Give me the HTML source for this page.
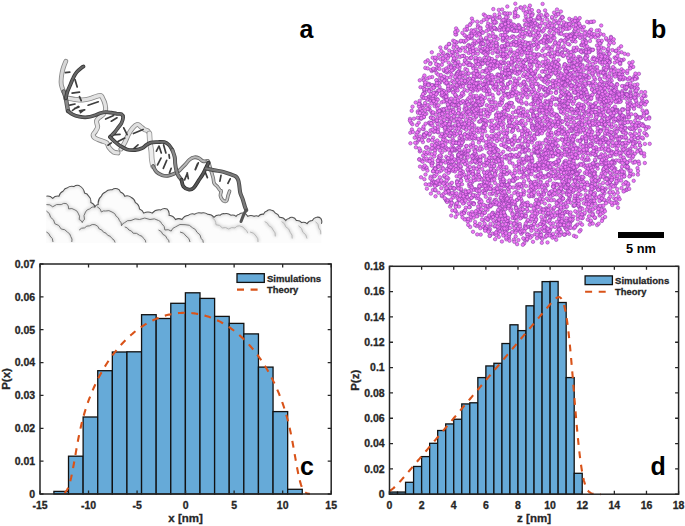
<!DOCTYPE html>
<html><head><meta charset="utf-8"><style>
html,body{margin:0;padding:0;background:#fff;}
svg{display:block;}
</style></head><body>
<svg width="685" height="526" viewBox="0 0 685 526">
<path d="M46.4,196.2A7.0,7.0 0 0 1 52.7,198.3A7.0,7.0 0 0 1 59.0,196.2A7.2,7.2 0 0 1 63.3,190.9A5.5,5.5 0 0 1 67.5,187.7A6.8,6.8 0 0 1 73.9,186.6A5.7,5.7 0 0 1 79.2,185.6A9.6,9.6 0 0 1 84.5,193.0A5.5,5.5 0 0 1 88.7,196.2A7.0,7.0 0 0 1 90.8,202.5A6.3,6.3 0 0 1 95.0,206.8A4.1,4.1 0 0 1 98.2,204.6A9.4,9.4 0 0 1 101.4,196.2A6.3,6.3 0 0 1 105.6,191.9A7.1,7.1 0 0 1 112.0,189.8A5.7,5.7 0 0 1 117.3,188.8A4.6,4.6 0 0 1 120.4,191.9A6.4,6.4 0 0 1 124.7,196.2A6.7,6.7 0 0 1 131.0,197.2A7.2,7.2 0 0 1 135.3,202.5A8.0,8.0 0 0 1 139.5,208.9A6.2,6.2 0 0 1 143.7,213.1A8.9,8.9 0 0 1 152.2,213.1A9.5,9.5 0 0 1 160.7,209.9A6.7,6.7 0 0 1 167.0,208.9A7.0,7.0 0 0 1 169.1,215.2A8.1,8.1 0 0 1 175.5,219.5A6.8,6.8 0 0 1 182.0,219.5A8.2,8.2 0 0 1 188.5,215.2A6.7,6.7 0 0 1 194.8,214.2A6.8,6.8 0 0 1 201.2,213.1A6.7,6.7 0 0 1 207.5,214.2A7.5,7.5 0 0 1 213.9,217.3A7.0,7.0 0 0 1 220.2,215.2A4.8,4.8 0 0 1 224.5,213.7A6.8,6.8 0 0 1 230.8,215.2A5.7,5.7 0 0 1 236.1,216.3A4.0,4.0 0 0 1 239.3,214.2A4.6,4.6 0 0 1 243.5,213.1A5.5,5.5 0 0 1 247.7,216.3A6.7,6.7 0 0 1 254.1,216.3A4.4,4.4 0 0 1 258.3,216.3A6.0,6.0 0 0 1 263.6,214.2A4.8,4.8 0 0 1 266.8,211.0A4.6,4.6 0 0 1 271.0,209.9A5.6,5.6 0 0 1 275.3,213.1A6.2,6.2 0 0 1 279.5,217.3A7.4,7.4 0 0 1 285.8,220.5A4.0,4.0 0 0 1 289.0,218.4A3.6,3.6 0 0 1 292.2,217.3A5.5,5.5 0 0 1 296.4,220.5A6.0,6.0 0 0 1 301.7,222.6A5.7,5.7 0 0 1 307.0,223.7A6.5,6.5 0 0 1 312.3,220.5A5.5,5.5 0 0 1 316.5,217.3A4.7,4.7 0 0 1 320.8,218.4A5.6,5.6 0 0 1 321.4,223.7L321.5,243L46,243Z" fill="#fcfcfc" stroke="none"/>
<defs><filter id="sb" x="-5%" y="-20%" width="110%" height="140%"><feGaussianBlur stdDeviation="1.6"/></filter><clipPath id="sc"><path d="M46.4,196.2A7.0,7.0 0 0 1 52.7,198.3A7.0,7.0 0 0 1 59.0,196.2A7.2,7.2 0 0 1 63.3,190.9A5.5,5.5 0 0 1 67.5,187.7A6.8,6.8 0 0 1 73.9,186.6A5.7,5.7 0 0 1 79.2,185.6A9.6,9.6 0 0 1 84.5,193.0A5.5,5.5 0 0 1 88.7,196.2A7.0,7.0 0 0 1 90.8,202.5A6.3,6.3 0 0 1 95.0,206.8A4.1,4.1 0 0 1 98.2,204.6A9.4,9.4 0 0 1 101.4,196.2A6.3,6.3 0 0 1 105.6,191.9A7.1,7.1 0 0 1 112.0,189.8A5.7,5.7 0 0 1 117.3,188.8A4.6,4.6 0 0 1 120.4,191.9A6.4,6.4 0 0 1 124.7,196.2A6.7,6.7 0 0 1 131.0,197.2A7.2,7.2 0 0 1 135.3,202.5A8.0,8.0 0 0 1 139.5,208.9A6.2,6.2 0 0 1 143.7,213.1A8.9,8.9 0 0 1 152.2,213.1A9.5,9.5 0 0 1 160.7,209.9A6.7,6.7 0 0 1 167.0,208.9A7.0,7.0 0 0 1 169.1,215.2A8.1,8.1 0 0 1 175.5,219.5A6.8,6.8 0 0 1 182.0,219.5A8.2,8.2 0 0 1 188.5,215.2A6.7,6.7 0 0 1 194.8,214.2A6.8,6.8 0 0 1 201.2,213.1A6.7,6.7 0 0 1 207.5,214.2A7.5,7.5 0 0 1 213.9,217.3A7.0,7.0 0 0 1 220.2,215.2A4.8,4.8 0 0 1 224.5,213.7A6.8,6.8 0 0 1 230.8,215.2A5.7,5.7 0 0 1 236.1,216.3A4.0,4.0 0 0 1 239.3,214.2A4.6,4.6 0 0 1 243.5,213.1A5.5,5.5 0 0 1 247.7,216.3A6.7,6.7 0 0 1 254.1,216.3A4.4,4.4 0 0 1 258.3,216.3A6.0,6.0 0 0 1 263.6,214.2A4.8,4.8 0 0 1 266.8,211.0A4.6,4.6 0 0 1 271.0,209.9A5.6,5.6 0 0 1 275.3,213.1A6.2,6.2 0 0 1 279.5,217.3A7.4,7.4 0 0 1 285.8,220.5A4.0,4.0 0 0 1 289.0,218.4A3.6,3.6 0 0 1 292.2,217.3A5.5,5.5 0 0 1 296.4,220.5A6.0,6.0 0 0 1 301.7,222.6A5.7,5.7 0 0 1 307.0,223.7A6.5,6.5 0 0 1 312.3,220.5A5.5,5.5 0 0 1 316.5,217.3A4.7,4.7 0 0 1 320.8,218.4A5.6,5.6 0 0 1 321.4,223.7L321.5,243L46,243Z"/></clipPath></defs>
<g clip-path="url(#sc)"><g fill="none" stroke="#dadada" stroke-width="3" filter="url(#sb)"><path d="M46.4,204.6A7.0,7.0 0 0 1 52.7,206.8A9.2,9.2 0 0 1 61.2,204.6A5.7,5.7 0 0 1 66.5,203.6A6.0,6.0 0 0 1 68.6,208.9A6.7,6.7 0 0 1 74.9,209.9A4.8,4.8 0 0 1 78.1,213.1A6.8,6.8 0 0 1 79.2,219.5A4.6,4.6 0 0 1 82.3,222.6A4.0,4.0 0 0 1 84.5,219.5A7.9,7.9 0 0 1 85.5,212.0A5.5,5.5 0 0 1 89.7,208.9A6.0,6.0 0 0 1 95.0,206.8"/><path d="M97.2,206.8A7.0,7.0 0 0 1 101.4,212.0A4.5,4.5 0 0 1 105.6,211.0A6.8,6.8 0 0 1 112.0,212.0A6.3,6.3 0 0 1 116.2,216.3A5.5,5.5 0 0 1 119.4,220.5A6.0,6.0 0 0 1 121.5,225.8A4.8,4.8 0 0 1 124.7,222.6A7.0,7.0 0 0 1 131.0,220.5A9.0,9.0 0 0 1 139.5,219.5A11.0,11.0 0 0 1 150.0,219.5A9.0,9.0 0 0 1 158.5,220.5A4.8,4.8 0 0 1 161.7,223.7A7.4,7.4 0 0 1 164.9,230.0A6.7,6.7 0 0 1 171.2,231.1A6.3,6.3 0 0 1 175.5,226.9A10.2,10.2 0 0 1 185.0,224.7A8.8,8.8 0 0 1 192.7,227.9A6.3,6.3 0 0 1 196.9,232.2A8.0,8.0 0 0 1 201.2,238.5A4.9,4.9 0 0 1 203.3,242.7"/><path d="M46.4,211.0A8.0,8.0 0 0 1 50.6,217.3A8.0,8.0 0 0 1 54.8,223.7A8.7,8.7 0 0 1 61.2,229.0A7.4,7.4 0 0 1 67.5,232.2A5.5,5.5 0 0 1 70.7,236.4A6.0,6.0 0 0 1 71.8,242.0"/><path d="M79.2,230.0A6.0,6.0 0 0 1 84.5,227.9A5.9,5.9 0 0 1 89.7,225.8A5.7,5.7 0 0 1 95.0,224.7A6.4,6.4 0 0 1 99.3,229.0A5.5,5.5 0 0 1 103.5,232.2A5.5,5.5 0 0 1 107.7,235.3A5.6,5.6 0 0 1 112.0,238.5A5.3,5.3 0 0 1 115.1,242.5"/><path d="M124.7,226.9A5.5,5.5 0 0 1 128.9,230.0A5.5,5.5 0 0 1 133.1,233.2A7.1,7.1 0 0 1 139.5,235.3A5.5,5.5 0 0 1 143.7,238.5A4.7,4.7 0 0 1 145.8,242.5"/><path d="M158.5,230.0A6.4,6.4 0 0 1 162.8,234.3A6.2,6.2 0 0 1 167.0,238.5A4.7,4.7 0 0 1 169.1,242.5"/><path d="M211.8,217.3A8.9,8.9 0 0 1 216.0,224.7A7.4,7.4 0 0 1 222.3,227.9A6.8,6.8 0 0 1 228.7,229.0A6.7,6.7 0 0 1 235.0,227.9A5.0,5.0 0 0 1 239.3,225.8A8.0,8.0 0 0 1 245.6,230.0A4.0,4.0 0 0 1 247.7,233.2"/><path d="M264.7,221.6A6.2,6.2 0 0 1 268.9,225.8A6.2,6.2 0 0 1 273.1,230.0A7.1,7.1 0 0 1 275.3,236.4"/><path d="M281.6,221.6A7.1,7.1 0 0 1 285.8,226.9A7.2,7.2 0 0 1 290.1,232.2A7.0,7.0 0 0 1 292.2,238.5"/><path d="M298.5,225.8A8.1,8.1 0 0 1 302.8,232.2A8.0,8.0 0 0 1 307.0,238.5"/><path d="M315.5,221.6A7.4,7.4 0 0 1 318.7,227.9A7.1,7.1 0 0 1 320.8,234.3"/><path d="M46.4,232.0A5.7,5.7 0 0 1 50.0,236.0A7.0,7.0 0 0 1 53.0,242.0"/><path d="M180.0,232.0A7.6,7.6 0 0 1 186.0,236.0A7.6,7.6 0 0 1 190.0,242.0"/><path d="M250.0,232.0A7.6,7.6 0 0 1 256.0,236.0A6.6,6.6 0 0 1 258.0,242.0"/><path d="M46.4,196.2A7.0,7.0 0 0 1 52.7,198.3A7.0,7.0 0 0 1 59.0,196.2A7.2,7.2 0 0 1 63.3,190.9A5.5,5.5 0 0 1 67.5,187.7A6.8,6.8 0 0 1 73.9,186.6A5.7,5.7 0 0 1 79.2,185.6A9.6,9.6 0 0 1 84.5,193.0A5.5,5.5 0 0 1 88.7,196.2A7.0,7.0 0 0 1 90.8,202.5A6.3,6.3 0 0 1 95.0,206.8A4.1,4.1 0 0 1 98.2,204.6A9.4,9.4 0 0 1 101.4,196.2A6.3,6.3 0 0 1 105.6,191.9A7.1,7.1 0 0 1 112.0,189.8A5.7,5.7 0 0 1 117.3,188.8A4.6,4.6 0 0 1 120.4,191.9A6.4,6.4 0 0 1 124.7,196.2A6.7,6.7 0 0 1 131.0,197.2A7.2,7.2 0 0 1 135.3,202.5A8.0,8.0 0 0 1 139.5,208.9A6.2,6.2 0 0 1 143.7,213.1A8.9,8.9 0 0 1 152.2,213.1A9.5,9.5 0 0 1 160.7,209.9A6.7,6.7 0 0 1 167.0,208.9A7.0,7.0 0 0 1 169.1,215.2A8.1,8.1 0 0 1 175.5,219.5A6.8,6.8 0 0 1 182.0,219.5A8.2,8.2 0 0 1 188.5,215.2A6.7,6.7 0 0 1 194.8,214.2A6.8,6.8 0 0 1 201.2,213.1A6.7,6.7 0 0 1 207.5,214.2A7.5,7.5 0 0 1 213.9,217.3A7.0,7.0 0 0 1 220.2,215.2A4.8,4.8 0 0 1 224.5,213.7A6.8,6.8 0 0 1 230.8,215.2A5.7,5.7 0 0 1 236.1,216.3A4.0,4.0 0 0 1 239.3,214.2A4.6,4.6 0 0 1 243.5,213.1A5.5,5.5 0 0 1 247.7,216.3A6.7,6.7 0 0 1 254.1,216.3A4.4,4.4 0 0 1 258.3,216.3A6.0,6.0 0 0 1 263.6,214.2A4.8,4.8 0 0 1 266.8,211.0A4.6,4.6 0 0 1 271.0,209.9A5.6,5.6 0 0 1 275.3,213.1A6.2,6.2 0 0 1 279.5,217.3A7.4,7.4 0 0 1 285.8,220.5A4.0,4.0 0 0 1 289.0,218.4A3.6,3.6 0 0 1 292.2,217.3A5.5,5.5 0 0 1 296.4,220.5A6.0,6.0 0 0 1 301.7,222.6A5.7,5.7 0 0 1 307.0,223.7A6.5,6.5 0 0 1 312.3,220.5A5.5,5.5 0 0 1 316.5,217.3A4.7,4.7 0 0 1 320.8,218.4A5.6,5.6 0 0 1 321.4,223.7"/></g></g>
<g fill="none" stroke-width="0.95"><path d="M46.4,204.6A7.0,7.0 0 0 1 52.7,206.8A9.2,9.2 0 0 1 61.2,204.6A5.7,5.7 0 0 1 66.5,203.6A6.0,6.0 0 0 1 68.6,208.9A6.7,6.7 0 0 1 74.9,209.9A4.8,4.8 0 0 1 78.1,213.1A6.8,6.8 0 0 1 79.2,219.5A4.6,4.6 0 0 1 82.3,222.6A4.0,4.0 0 0 1 84.5,219.5A7.9,7.9 0 0 1 85.5,212.0A5.5,5.5 0 0 1 89.7,208.9A6.0,6.0 0 0 1 95.0,206.8" stroke="#6e6e6e"/><path d="M97.2,206.8A7.0,7.0 0 0 1 101.4,212.0A4.5,4.5 0 0 1 105.6,211.0A6.8,6.8 0 0 1 112.0,212.0A6.3,6.3 0 0 1 116.2,216.3A5.5,5.5 0 0 1 119.4,220.5A6.0,6.0 0 0 1 121.5,225.8A4.8,4.8 0 0 1 124.7,222.6A7.0,7.0 0 0 1 131.0,220.5A9.0,9.0 0 0 1 139.5,219.5A11.0,11.0 0 0 1 150.0,219.5A9.0,9.0 0 0 1 158.5,220.5A4.8,4.8 0 0 1 161.7,223.7A7.4,7.4 0 0 1 164.9,230.0A6.7,6.7 0 0 1 171.2,231.1A6.3,6.3 0 0 1 175.5,226.9A10.2,10.2 0 0 1 185.0,224.7A8.8,8.8 0 0 1 192.7,227.9A6.3,6.3 0 0 1 196.9,232.2A8.0,8.0 0 0 1 201.2,238.5A4.9,4.9 0 0 1 203.3,242.7" stroke="#6e6e6e"/><path d="M46.4,211.0A8.0,8.0 0 0 1 50.6,217.3A8.0,8.0 0 0 1 54.8,223.7A8.7,8.7 0 0 1 61.2,229.0A7.4,7.4 0 0 1 67.5,232.2A5.5,5.5 0 0 1 70.7,236.4A6.0,6.0 0 0 1 71.8,242.0" stroke="#6e6e6e"/><path d="M79.2,230.0A6.0,6.0 0 0 1 84.5,227.9A5.9,5.9 0 0 1 89.7,225.8A5.7,5.7 0 0 1 95.0,224.7A6.4,6.4 0 0 1 99.3,229.0A5.5,5.5 0 0 1 103.5,232.2A5.5,5.5 0 0 1 107.7,235.3A5.6,5.6 0 0 1 112.0,238.5A5.3,5.3 0 0 1 115.1,242.5" stroke="#6e6e6e"/><path d="M124.7,226.9A5.5,5.5 0 0 1 128.9,230.0A5.5,5.5 0 0 1 133.1,233.2A7.1,7.1 0 0 1 139.5,235.3A5.5,5.5 0 0 1 143.7,238.5A4.7,4.7 0 0 1 145.8,242.5" stroke="#6e6e6e"/><path d="M158.5,230.0A6.4,6.4 0 0 1 162.8,234.3A6.2,6.2 0 0 1 167.0,238.5A4.7,4.7 0 0 1 169.1,242.5" stroke="#6e6e6e"/><path d="M211.8,217.3A8.9,8.9 0 0 1 216.0,224.7A7.4,7.4 0 0 1 222.3,227.9A6.8,6.8 0 0 1 228.7,229.0A6.7,6.7 0 0 1 235.0,227.9A5.0,5.0 0 0 1 239.3,225.8A8.0,8.0 0 0 1 245.6,230.0A4.0,4.0 0 0 1 247.7,233.2" stroke="#b4b4b4"/><path d="M264.7,221.6A6.2,6.2 0 0 1 268.9,225.8A6.2,6.2 0 0 1 273.1,230.0A7.1,7.1 0 0 1 275.3,236.4" stroke="#b4b4b4"/><path d="M281.6,221.6A7.1,7.1 0 0 1 285.8,226.9A7.2,7.2 0 0 1 290.1,232.2A7.0,7.0 0 0 1 292.2,238.5" stroke="#b4b4b4"/><path d="M298.5,225.8A8.1,8.1 0 0 1 302.8,232.2A8.0,8.0 0 0 1 307.0,238.5" stroke="#b4b4b4"/><path d="M315.5,221.6A7.4,7.4 0 0 1 318.7,227.9A7.1,7.1 0 0 1 320.8,234.3" stroke="#b4b4b4"/><path d="M46.4,232.0A5.7,5.7 0 0 1 50.0,236.0A7.0,7.0 0 0 1 53.0,242.0" stroke="#6e6e6e"/><path d="M180.0,232.0A7.6,7.6 0 0 1 186.0,236.0A7.6,7.6 0 0 1 190.0,242.0" stroke="#6e6e6e"/><path d="M250.0,232.0A7.6,7.6 0 0 1 256.0,236.0A6.6,6.6 0 0 1 258.0,242.0" stroke="#b4b4b4"/></g>
<path d="M46.4,196.2A7.0,7.0 0 0 1 52.7,198.3A7.0,7.0 0 0 1 59.0,196.2A7.2,7.2 0 0 1 63.3,190.9A5.5,5.5 0 0 1 67.5,187.7A6.8,6.8 0 0 1 73.9,186.6A5.7,5.7 0 0 1 79.2,185.6A9.6,9.6 0 0 1 84.5,193.0A5.5,5.5 0 0 1 88.7,196.2A7.0,7.0 0 0 1 90.8,202.5A6.3,6.3 0 0 1 95.0,206.8A4.1,4.1 0 0 1 98.2,204.6A9.4,9.4 0 0 1 101.4,196.2A6.3,6.3 0 0 1 105.6,191.9A7.1,7.1 0 0 1 112.0,189.8A5.7,5.7 0 0 1 117.3,188.8A4.6,4.6 0 0 1 120.4,191.9A6.4,6.4 0 0 1 124.7,196.2A6.7,6.7 0 0 1 131.0,197.2A7.2,7.2 0 0 1 135.3,202.5A8.0,8.0 0 0 1 139.5,208.9A6.2,6.2 0 0 1 143.7,213.1A8.9,8.9 0 0 1 152.2,213.1A9.5,9.5 0 0 1 160.7,209.9A6.7,6.7 0 0 1 167.0,208.9A7.0,7.0 0 0 1 169.1,215.2A8.1,8.1 0 0 1 175.5,219.5A6.8,6.8 0 0 1 182.0,219.5A8.2,8.2 0 0 1 188.5,215.2A6.7,6.7 0 0 1 194.8,214.2A6.8,6.8 0 0 1 201.2,213.1A6.7,6.7 0 0 1 207.5,214.2A7.5,7.5 0 0 1 213.9,217.3A7.0,7.0 0 0 1 220.2,215.2A4.8,4.8 0 0 1 224.5,213.7A6.8,6.8 0 0 1 230.8,215.2A5.7,5.7 0 0 1 236.1,216.3A4.0,4.0 0 0 1 239.3,214.2A4.6,4.6 0 0 1 243.5,213.1A5.5,5.5 0 0 1 247.7,216.3A6.7,6.7 0 0 1 254.1,216.3A4.4,4.4 0 0 1 258.3,216.3A6.0,6.0 0 0 1 263.6,214.2A4.8,4.8 0 0 1 266.8,211.0A4.6,4.6 0 0 1 271.0,209.9A5.6,5.6 0 0 1 275.3,213.1A6.2,6.2 0 0 1 279.5,217.3A7.4,7.4 0 0 1 285.8,220.5A4.0,4.0 0 0 1 289.0,218.4A3.6,3.6 0 0 1 292.2,217.3A5.5,5.5 0 0 1 296.4,220.5A6.0,6.0 0 0 1 301.7,222.6A5.7,5.7 0 0 1 307.0,223.7A6.5,6.5 0 0 1 312.3,220.5A5.5,5.5 0 0 1 316.5,217.3A4.7,4.7 0 0 1 320.8,218.4A5.6,5.6 0 0 1 321.4,223.7" fill="none" stroke="#505050" stroke-width="1.05"/>
<g fill="none" stroke-linecap="round" stroke-linejoin="round">
<path d="M65.8,98.3C66.3,98.3 67.1,98.1 68.7,98.3C70.3,98.5 73.2,99.2 75.5,99.5C77.8,99.8 80.1,100.1 82.4,100.0C84.7,99.9 86.3,99.7 89.2,98.9C92.1,98.2 97.7,95.5 100.0,95.5C102.3,95.5 102.2,97.6 103.0,99.0C103.8,100.4 104.6,102.3 105.0,104.1C105.4,105.9 105.9,108.1 105.6,109.8C105.3,111.5 104.4,113.1 103.3,114.4C102.2,115.7 99.9,116.7 98.8,117.8C97.7,118.9 96.7,119.7 96.5,121.2C96.3,122.7 97.8,125.3 97.6,127.0C97.4,128.7 96.2,130.2 95.4,131.5C94.7,132.8 93.1,133.8 93.1,134.9C93.1,136.0 94.1,137.4 95.4,138.3C96.7,139.2 99.1,139.8 101.0,140.6C102.9,141.4 105.5,141.8 106.8,142.9C108.1,144.1 107.9,146.0 109.0,147.5C110.1,149.0 112.1,151.1 113.6,152.0C115.1,152.9 117.3,152.8 118.0,152.9" stroke="#888" stroke-width="5.0"/>
<path d="M65.8,98.3C66.3,98.3 67.1,98.1 68.7,98.3C70.3,98.5 73.2,99.2 75.5,99.5C77.8,99.8 80.1,100.1 82.4,100.0C84.7,99.9 86.3,99.7 89.2,98.9C92.1,98.2 97.7,95.5 100.0,95.5C102.3,95.5 102.2,97.6 103.0,99.0C103.8,100.4 104.6,102.3 105.0,104.1C105.4,105.9 105.9,108.1 105.6,109.8C105.3,111.5 104.4,113.1 103.3,114.4C102.2,115.7 99.9,116.7 98.8,117.8C97.7,118.9 96.7,119.7 96.5,121.2C96.3,122.7 97.8,125.3 97.6,127.0C97.4,128.7 96.2,130.2 95.4,131.5C94.7,132.8 93.1,133.8 93.1,134.9C93.1,136.0 94.1,137.4 95.4,138.3C96.7,139.2 99.1,139.8 101.0,140.6C102.9,141.4 105.5,141.8 106.8,142.9C108.1,144.1 107.9,146.0 109.0,147.5C110.1,149.0 112.1,151.1 113.6,152.0C115.1,152.9 117.3,152.8 118.0,152.9" stroke="#e2e2e2" stroke-width="3.3"/>
<path d="M121.0,149.0C121.6,147.9 123.6,145.0 124.8,142.6C126.0,140.2 127.0,137.2 128.3,134.7C129.6,132.2 131.3,129.5 132.8,127.8C134.3,126.1 136.1,124.6 137.4,124.4C138.7,124.2 139.7,125.9 140.8,126.7C141.9,127.5 143.1,128.8 144.2,129.5C145.3,130.2 146.7,130.0 147.6,130.7C148.5,131.4 149.1,133.0 149.4,133.5" stroke="#888" stroke-width="5.0"/>
<path d="M121.0,149.0C121.6,147.9 123.6,145.0 124.8,142.6C126.0,140.2 127.0,137.2 128.3,134.7C129.6,132.2 131.3,129.5 132.8,127.8C134.3,126.1 136.1,124.6 137.4,124.4C138.7,124.2 139.7,125.9 140.8,126.7C141.9,127.5 143.1,128.8 144.2,129.5C145.3,130.2 146.7,130.0 147.6,130.7C148.5,131.4 149.1,133.0 149.4,133.5" stroke="#e0e0e0" stroke-width="3.3"/>
<path d="M149.4,133.5C149.5,135.0 149.7,139.7 150.0,142.6C150.3,145.5 151.0,148.4 151.3,151.2C151.6,154.0 151.5,156.7 151.8,159.2C152.1,161.7 152.8,164.9 153.0,166.1" stroke="#999" stroke-width="5.6"/>
<path d="M149.4,133.5C149.5,135.0 149.7,139.7 150.0,142.6C150.3,145.5 151.0,148.4 151.3,151.2C151.6,154.0 151.5,156.7 151.8,159.2C152.1,161.7 152.8,164.9 153.0,166.1" stroke="#ececec" stroke-width="3.9"/>
<path d="M153.0,166.1C153.6,167.1 154.9,170.3 156.4,171.8C157.9,173.3 160.2,174.5 162.1,175.2C164.0,175.9 165.9,176.0 167.8,175.8C169.7,175.6 171.6,174.9 173.5,174.0C175.4,173.1 178.2,171.2 179.2,170.6" stroke="#555" stroke-width="3.8"/>
<path d="M153.0,166.1C153.6,167.1 154.9,170.3 156.4,171.8C157.9,173.3 160.2,174.5 162.1,175.2C164.0,175.9 165.9,176.0 167.8,175.8C169.7,175.6 171.6,174.9 173.5,174.0C175.4,173.1 178.2,171.2 179.2,170.6" stroke="#9a9a9a" stroke-width="2.1"/>
<path d="M179.2,170.6C180.1,169.7 183.2,166.7 184.9,164.9C186.6,163.1 188.0,160.9 189.6,159.6C191.2,158.3 192.9,157.5 194.5,157.3C196.1,157.1 197.6,157.6 199.0,158.2C200.4,158.8 201.4,160.6 202.8,161.1C204.2,161.6 206.6,161.1 207.4,161.1" stroke="#666" stroke-width="3.8"/>
<path d="M179.2,170.6C180.1,169.7 183.2,166.7 184.9,164.9C186.6,163.1 188.0,160.9 189.6,159.6C191.2,158.3 192.9,157.5 194.5,157.3C196.1,157.1 197.6,157.6 199.0,158.2C200.4,158.8 201.4,160.6 202.8,161.1C204.2,161.6 206.6,161.1 207.4,161.1" stroke="#b8b8b8" stroke-width="2.1"/>
<path d="M207.4,161.1C207.6,161.2 207.9,160.3 208.5,161.7C209.1,163.1 210.0,167.0 210.8,169.7C211.6,172.3 212.5,175.3 213.1,177.6C213.7,179.9 213.4,181.8 214.2,183.3C214.9,184.8 216.6,185.7 217.6,186.8C218.6,188.0 219.3,189.5 219.9,190.2C220.5,190.9 221.1,190.2 221.2,191.1C221.3,192.0 220.2,194.2 220.4,195.7C220.7,197.2 221.7,199.3 222.7,200.2C223.7,201.1 225.6,201.8 226.5,201.0C227.4,200.2 227.5,197.3 228.0,195.7C228.5,194.0 229.3,191.9 229.6,191.1" stroke="#707070" stroke-width="3.6"/>
<path d="M207.4,161.1C207.6,161.2 207.9,160.3 208.5,161.7C209.1,163.1 210.0,167.0 210.8,169.7C211.6,172.3 212.5,175.3 213.1,177.6C213.7,179.9 213.4,181.8 214.2,183.3C214.9,184.8 216.6,185.7 217.6,186.8C218.6,188.0 219.3,189.5 219.9,190.2C220.5,190.9 221.1,190.2 221.2,191.1C221.3,192.0 220.2,194.2 220.4,195.7C220.7,197.2 221.7,199.3 222.7,200.2C223.7,201.1 225.6,201.8 226.5,201.0C227.4,200.2 227.5,197.3 228.0,195.7C228.5,194.0 229.3,191.9 229.6,191.1" stroke="#c8c8c8" stroke-width="1.9"/>
<path d="M65.3,72.7L69.8,72.1M75.0,79.5L77.2,87.0M72.1,93.2L79.5,92.1M79.5,96.6L81.2,100.6M69.8,105.2L75.0,104.0M74.4,108.6L79.0,106.9M79.5,110.9L84.7,109.8M88.1,105.2L98.3,101.8M72.5,110.4L78.3,106.4M80.5,112.7L84.0,109.8M105.6,119.0L113.6,115.5M111.3,121.2L117.0,117.8M112.5,134.9L120.0,134.4M108.0,145.2L111.3,142.9M123.7,127.8L127.1,134.7M118.0,141.5L124.8,138.1M134.0,148.3L138.0,144.9M133.4,133.5L143.1,129.5M159.0,146.0L161.3,152.9M163.6,144.9L165.9,152.9M158.7,146.7L156.4,151.2M161.0,158.1L157.5,164.9M166.7,160.4L163.3,168.3M169.0,154.7L169.5,158.1M171.2,168.3L169.5,172.9M187.2,172.9L188.3,178.6M197.5,163.8L195.2,169.5M198.3,162.8L195.4,169.7M187.4,173.1L184.6,179.9M221.0,175.4L219.9,181.1M230.2,178.8L227.9,183.3M205.1,171.9L207.4,177.6" stroke="#3e3e3e" stroke-width="1.7"/>
<path d="M65.8,61.3C65.3,62.5 63.8,66.0 63.0,68.7C62.2,71.5 61.6,75.1 61.3,77.8C61.0,80.5 60.9,82.4 61.3,84.7C61.7,87.0 63.2,90.4 63.6,91.5" stroke="#888" stroke-width="4.8"/>
<path d="M65.8,61.3C65.3,62.5 63.8,66.0 63.0,68.7C62.2,71.5 61.6,75.1 61.3,77.8C61.0,80.5 60.9,82.4 61.3,84.7C61.7,87.0 63.2,90.4 63.6,91.5" stroke="#d6d6d6" stroke-width="3.1"/>
<path d="M63.6,91.5C64.0,92.6 65.2,96.0 65.8,98.3C66.4,100.6 66.6,103.1 67.0,105.2C67.4,107.3 67.8,110.0 68.0,111.0" stroke="#505050" stroke-width="4.4"/>
<path d="M63.6,91.5C64.0,92.6 65.2,96.0 65.8,98.3C66.4,100.6 66.6,103.1 67.0,105.2C67.4,107.3 67.8,110.0 68.0,111.0" stroke="#8a8a8a" stroke-width="2.7"/>
<path d="M68.0,111.0C68.8,111.6 70.6,113.5 72.5,114.4C74.4,115.4 76.9,116.2 79.4,116.7C81.9,117.2 84.9,117.4 87.4,117.2C89.9,117.0 92.1,116.2 94.2,115.5C96.3,114.8 98.0,113.9 99.9,113.3C101.8,112.7 103.7,112.2 105.6,112.1C107.5,112.0 109.4,112.4 111.3,112.7C113.2,113.0 115.3,113.6 117.0,113.8C118.7,114.0 120.4,113.5 121.4,114.1C122.4,114.7 123.1,116.0 123.1,117.5C123.1,119.0 122.2,121.6 121.4,123.3C120.6,125.0 119.1,126.3 118.0,127.8C116.9,129.3 115.8,131.1 114.6,132.4C113.4,133.7 111.9,135.0 111.1,135.8C110.3,136.6 110.2,136.8 110.0,137.0" stroke="#3c3c3c" stroke-width="3.8"/>
<path d="M68.0,111.0C68.8,111.6 70.6,113.5 72.5,114.4C74.4,115.4 76.9,116.2 79.4,116.7C81.9,117.2 84.9,117.4 87.4,117.2C89.9,117.0 92.1,116.2 94.2,115.5C96.3,114.8 98.0,113.9 99.9,113.3C101.8,112.7 103.7,112.2 105.6,112.1C107.5,112.0 109.4,112.4 111.3,112.7C113.2,113.0 115.3,113.6 117.0,113.8C118.7,114.0 120.4,113.5 121.4,114.1C122.4,114.7 123.1,116.0 123.1,117.5C123.1,119.0 122.2,121.6 121.4,123.3C120.6,125.0 119.1,126.3 118.0,127.8C116.9,129.3 115.8,131.1 114.6,132.4C113.4,133.7 111.9,135.0 111.1,135.8C110.3,136.6 110.2,136.8 110.0,137.0" stroke="#6e6e6e" stroke-width="2.1"/>
<path d="M110.0,137.0C110.8,137.8 112.9,140.0 114.6,141.5C116.3,143.0 118.2,144.7 120.3,146.0C122.4,147.3 124.6,148.8 127.1,149.5C129.6,150.2 132.6,150.2 135.1,150.0C137.6,149.8 140.0,149.2 141.9,148.3C143.8,147.5 145.0,145.9 146.5,144.9C148.0,143.9 149.1,143.1 151.0,142.6C152.9,142.1 155.7,142.2 157.9,142.1C160.1,142.0 162.6,141.6 164.4,142.1C166.2,142.6 167.7,143.7 169.0,145.0C170.3,146.3 171.8,149.2 172.4,150.1" stroke="#383838" stroke-width="3.8"/>
<path d="M110.0,137.0C110.8,137.8 112.9,140.0 114.6,141.5C116.3,143.0 118.2,144.7 120.3,146.0C122.4,147.3 124.6,148.8 127.1,149.5C129.6,150.2 132.6,150.2 135.1,150.0C137.6,149.8 140.0,149.2 141.9,148.3C143.8,147.5 145.0,145.9 146.5,144.9C148.0,143.9 149.1,143.1 151.0,142.6C152.9,142.1 155.7,142.2 157.9,142.1C160.1,142.0 162.6,141.6 164.4,142.1C166.2,142.6 167.7,143.7 169.0,145.0C170.3,146.3 171.8,149.2 172.4,150.1" stroke="#686868" stroke-width="2.1"/>
<path d="M172.4,150.1C172.8,151.2 174.2,154.7 174.7,157.0C175.2,159.3 174.9,161.5 175.2,163.8C175.5,166.1 175.9,168.7 176.4,170.6C176.9,172.5 177.2,173.7 178.1,175.2C178.9,176.7 180.9,179.0 181.5,179.8" stroke="#505050" stroke-width="4.0"/>
<path d="M172.4,150.1C172.8,151.2 174.2,154.7 174.7,157.0C175.2,159.3 174.9,161.5 175.2,163.8C175.5,166.1 175.9,168.7 176.4,170.6C176.9,172.5 177.2,173.7 178.1,175.2C178.9,176.7 180.9,179.0 181.5,179.8" stroke="#8a8a8a" stroke-width="2.3"/>
<path d="M181.5,179.8C181.8,180.9 182.1,184.9 183.4,186.5C184.7,188.1 187.4,189.4 189.1,189.6C190.8,189.8 192.2,189.3 193.7,187.9C195.2,186.5 196.8,183.4 198.3,181.1C199.8,178.8 201.5,176.5 202.8,174.2C204.1,171.9 205.2,169.3 206.2,167.4C207.1,165.5 208.1,163.6 208.5,162.8" stroke="#303030" stroke-width="3.8"/>
<path d="M181.5,179.8C181.8,180.9 182.1,184.9 183.4,186.5C184.7,188.1 187.4,189.4 189.1,189.6C190.8,189.8 192.2,189.3 193.7,187.9C195.2,186.5 196.8,183.4 198.3,181.1C199.8,178.8 201.5,176.5 202.8,174.2C204.1,171.9 205.2,169.3 206.2,167.4C207.1,165.5 208.1,163.6 208.5,162.8" stroke="#585858" stroke-width="2.1"/>
<path d="M83.5,66.5C83.2,66.7 82.9,66.6 81.8,67.5C80.7,68.4 78.1,70.4 76.7,72.1C75.3,73.8 74.3,75.7 73.3,77.8C72.2,79.9 71.4,82.4 70.4,84.7C69.4,87.0 68.3,89.2 67.5,91.5C66.7,93.8 66.1,97.2 65.8,98.3" stroke="#383838" stroke-width="3.8"/>
<path d="M83.5,66.5C83.2,66.7 82.9,66.6 81.8,67.5C80.7,68.4 78.1,70.4 76.7,72.1C75.3,73.8 74.3,75.7 73.3,77.8C72.2,79.9 71.4,82.4 70.4,84.7C69.4,87.0 68.3,89.2 67.5,91.5C66.7,93.8 66.1,97.2 65.8,98.3" stroke="#666" stroke-width="2.1"/>
<path d="M206.2,168.5C207.5,168.8 211.3,169.6 214.2,170.2C217.0,170.8 220.6,171.2 223.3,171.9C226.0,172.6 228.1,173.4 230.2,174.2C232.3,175.0 234.6,175.6 235.9,176.5C237.2,177.4 237.6,178.4 238.2,179.9C238.8,181.4 239.0,183.5 239.3,185.6C239.6,187.7 239.7,190.3 240.2,192.5C240.7,194.7 241.7,196.4 242.5,198.7C243.3,201.0 244.2,204.4 244.8,206.3C245.4,208.2 246.1,209.5 246.3,210.1" stroke="#484848" stroke-width="4.0"/>
<path d="M206.2,168.5C207.5,168.8 211.3,169.6 214.2,170.2C217.0,170.8 220.6,171.2 223.3,171.9C226.0,172.6 228.1,173.4 230.2,174.2C232.3,175.0 234.6,175.6 235.9,176.5C237.2,177.4 237.6,178.4 238.2,179.9C238.8,181.4 239.0,183.5 239.3,185.6C239.6,187.7 239.7,190.3 240.2,192.5C240.7,194.7 241.7,196.4 242.5,198.7C243.3,201.0 244.2,204.4 244.8,206.3C245.4,208.2 246.1,209.5 246.3,210.1" stroke="#7a7a7a" stroke-width="2.3"/>
<path d="M246.3,210.1C245.9,210.8 244.9,212.1 244.0,214.0C243.1,215.9 241.5,220.2 241.0,221.5" stroke="#555" stroke-width="3.0"/>
</g>
<rect x="53.9" y="491.4" width="14.61" height="2.6" fill="#66aad8" stroke="#111" stroke-width="1.3"/>
<rect x="68.51" y="456.2" width="14.61" height="37.8" fill="#66aad8" stroke="#111" stroke-width="1.3"/>
<rect x="83.12" y="417" width="14.61" height="77" fill="#66aad8" stroke="#111" stroke-width="1.3"/>
<rect x="97.73" y="370.7" width="14.61" height="123.3" fill="#66aad8" stroke="#111" stroke-width="1.3"/>
<rect x="112.34" y="352" width="14.61" height="142" fill="#66aad8" stroke="#111" stroke-width="1.3"/>
<rect x="126.95" y="351.8" width="14.61" height="142.2" fill="#66aad8" stroke="#111" stroke-width="1.3"/>
<rect x="141.56" y="314.7" width="14.61" height="179.3" fill="#66aad8" stroke="#111" stroke-width="1.3"/>
<rect x="156.17" y="318.5" width="14.61" height="175.5" fill="#66aad8" stroke="#111" stroke-width="1.3"/>
<rect x="170.78" y="303.3" width="14.61" height="190.7" fill="#66aad8" stroke="#111" stroke-width="1.3"/>
<rect x="185.39" y="292.8" width="14.61" height="201.2" fill="#66aad8" stroke="#111" stroke-width="1.3"/>
<rect x="200" y="298.4" width="14.61" height="195.6" fill="#66aad8" stroke="#111" stroke-width="1.3"/>
<rect x="214.61" y="316.4" width="14.61" height="177.6" fill="#66aad8" stroke="#111" stroke-width="1.3"/>
<rect x="229.22" y="323.4" width="14.61" height="170.6" fill="#66aad8" stroke="#111" stroke-width="1.3"/>
<rect x="243.83" y="333.9" width="14.61" height="160.1" fill="#66aad8" stroke="#111" stroke-width="1.3"/>
<rect x="258.44" y="367.1" width="14.61" height="126.9" fill="#66aad8" stroke="#111" stroke-width="1.3"/>
<rect x="273.05" y="411.6" width="14.61" height="82.4" fill="#66aad8" stroke="#111" stroke-width="1.3"/>
<rect x="287.66" y="489.3" width="14.61" height="4.7" fill="#66aad8" stroke="#111" stroke-width="1.3"/>
<path d="M64.27,492.93 L65.24,492.23 L66.21,491.19 L67.18,489.72 L68.15,487.73 L69.12,485.12 L70.09,481.88 L71.06,477.99 L72.03,473.5 L73,468.53 L73.97,463.19 L74.94,457.66 L75.91,452.07 L76.89,446.58 L77.86,441.28 L78.83,436.26 L79.8,431.55 L80.77,427.16 L81.74,423.07 L82.71,419.27 L83.68,415.72 L84.65,412.38 L85.62,409.24 L86.59,406.26 L87.56,403.42 L88.53,400.71 L89.5,398.11 L90.47,395.61 L91.45,393.21 L92.42,390.89 L93.39,388.65 L94.36,386.48 L95.33,384.38 L96.3,382.34 L97.27,380.36 L98.24,378.44 L99.21,376.57 L100.18,374.75 L101.15,372.98 L102.12,371.26 L103.09,369.58 L104.06,367.95 L105.03,366.35 L106.01,364.79 L106.98,363.27 L107.95,361.79 L108.92,360.34 L109.89,358.93 L110.86,357.55 L111.83,356.2 L112.8,354.88 L113.77,353.59 L114.74,352.33 L115.71,351.1 L116.68,349.9 L117.65,348.72 L118.62,347.57 L119.59,346.45 L120.57,345.35 L121.54,344.27 L122.51,343.22 L123.48,342.19 L124.45,341.19 L125.42,340.2 L126.39,339.24 L127.36,338.3 L128.33,337.39 L129.3,336.49 L130.27,335.61 L131.24,334.76 L132.21,333.92 L133.18,333.1 L134.15,332.3 L135.13,331.52 L136.1,330.76 L137.07,330.02 L138.04,329.3 L139.01,328.59 L139.98,327.9 L140.95,327.23 L141.92,326.58 L142.89,325.94 L143.86,325.32 L144.83,324.72 L145.8,324.13 L146.77,323.56 L147.74,323.01 L148.71,322.47 L149.69,321.94 L150.66,321.44 L151.63,320.94 L152.6,320.47 L153.57,320.01 L154.54,319.56 L155.51,319.13 L156.48,318.71 L157.45,318.31 L158.42,317.93 L159.39,317.56 L160.36,317.2 L161.33,316.86 L162.3,316.53 L163.27,316.21 L164.25,315.91 L165.22,315.63 L166.19,315.35 L167.16,315.1 L168.13,314.85 L169.1,314.62 L170.07,314.41 L171.04,314.2 L172.01,314.01 L172.98,313.84 L173.95,313.68 L174.92,313.53 L175.89,313.4 L176.86,313.27 L177.83,313.17 L178.81,313.07 L179.78,312.99 L180.75,312.93 L181.72,312.87 L182.69,312.83 L183.66,312.81 L184.63,312.79 L185.6,312.79 L186.57,312.81 L187.54,312.83 L188.51,312.87 L189.48,312.93 L190.45,312.99 L191.42,313.07 L192.39,313.17 L193.37,313.27 L194.34,313.4 L195.31,313.53 L196.28,313.68 L197.25,313.84 L198.22,314.01 L199.19,314.2 L200.16,314.41 L201.13,314.62 L202.1,314.85 L203.07,315.1 L204.04,315.35 L205.01,315.63 L205.98,315.91 L206.95,316.21 L207.93,316.53 L208.9,316.86 L209.87,317.2 L210.84,317.56 L211.81,317.93 L212.78,318.31 L213.75,318.71 L214.72,319.13 L215.69,319.56 L216.66,320.01 L217.63,320.47 L218.6,320.94 L219.57,321.44 L220.54,321.94 L221.51,322.47 L222.49,323.01 L223.46,323.56 L224.43,324.13 L225.4,324.72 L226.37,325.32 L227.34,325.94 L228.31,326.58 L229.28,327.23 L230.25,327.9 L231.22,328.59 L232.19,329.3 L233.16,330.02 L234.13,330.76 L235.1,331.52 L236.07,332.3 L237.05,333.1 L238.02,333.92 L238.99,334.76 L239.96,335.61 L240.93,336.49 L241.9,337.39 L242.87,338.3 L243.84,339.24 L244.81,340.2 L245.78,341.19 L246.75,342.19 L247.72,343.22 L248.69,344.27 L249.66,345.35 L250.63,346.45 L251.61,347.57 L252.58,348.72 L253.55,349.9 L254.52,351.1 L255.49,352.33 L256.46,353.59 L257.43,354.88 L258.4,356.2 L259.37,357.55 L260.34,358.93 L261.31,360.34 L262.28,361.79 L263.25,363.27 L264.22,364.79 L265.19,366.35 L266.17,367.95 L267.14,369.58 L268.11,371.26 L269.08,372.98 L270.05,374.75 L271.02,376.57 L271.99,378.44 L272.96,380.36 L273.93,382.34 L274.9,384.38 L275.87,386.48 L276.84,388.65 L277.81,390.89 L278.78,393.21 L279.75,395.61 L280.73,398.11 L281.7,400.71 L282.67,403.42 L283.64,406.26 L284.61,409.24 L285.58,412.38 L286.55,415.72 L287.52,419.27 L288.49,423.07 L289.46,427.16 L290.43,431.55 L291.4,436.26 L292.37,441.28 L293.34,446.58 L294.31,452.07 L295.29,457.66 L296.26,463.19 L297.23,468.53 L298.2,473.5 L299.17,477.99 L300.14,481.88 L301.11,485.12 L302.08,487.73 L303.05,489.72 L304.02,491.19 L304.99,492.23 L305.96,492.93 L306.93,493.38 L307.9,493.65 L308.87,493.81 L309.85,493.9" fill="none" stroke="#d95319" stroke-width="2.1" stroke-dasharray="6.8 6.6"/>
<path d="M40,494v-3.5M40,264v3.5M88.53,494v-3.5M88.53,264v3.5M137.07,494v-3.5M137.07,264v3.5M185.6,494v-3.5M185.6,264v3.5M234.13,494v-3.5M234.13,264v3.5M282.67,494v-3.5M282.67,264v3.5M331.2,494v-3.5M331.2,264v3.5M40,494h3.5M331.2,494h-3.5M40,461.14h3.5M331.2,461.14h-3.5M40,428.29h3.5M331.2,428.29h-3.5M40,395.43h3.5M331.2,395.43h-3.5M40,362.57h3.5M331.2,362.57h-3.5M40,329.71h3.5M331.2,329.71h-3.5M40,296.86h3.5M331.2,296.86h-3.5M40,264h3.5M331.2,264h-3.5" stroke="#262626" stroke-width="1.3" fill="none"/>
<rect x="40" y="264" width="291.2" height="230" fill="none" stroke="#262626" stroke-width="1.5"/>
<text x="40" y="508.6" text-anchor="middle" font-size="10.5" font-family="Liberation Sans, sans-serif" font-weight="bold" stroke-width="0.3" fill="#262626" stroke="#262626">-15</text>
<text x="88.53" y="508.6" text-anchor="middle" font-size="10.5" font-family="Liberation Sans, sans-serif" font-weight="bold" stroke-width="0.3" fill="#262626" stroke="#262626">-10</text>
<text x="137.07" y="508.6" text-anchor="middle" font-size="10.5" font-family="Liberation Sans, sans-serif" font-weight="bold" stroke-width="0.3" fill="#262626" stroke="#262626">-5</text>
<text x="185.6" y="508.6" text-anchor="middle" font-size="10.5" font-family="Liberation Sans, sans-serif" font-weight="bold" stroke-width="0.3" fill="#262626" stroke="#262626">0</text>
<text x="234.13" y="508.6" text-anchor="middle" font-size="10.5" font-family="Liberation Sans, sans-serif" font-weight="bold" stroke-width="0.3" fill="#262626" stroke="#262626">5</text>
<text x="282.67" y="508.6" text-anchor="middle" font-size="10.5" font-family="Liberation Sans, sans-serif" font-weight="bold" stroke-width="0.3" fill="#262626" stroke="#262626">10</text>
<text x="331.2" y="508.6" text-anchor="middle" font-size="10.5" font-family="Liberation Sans, sans-serif" font-weight="bold" stroke-width="0.3" fill="#262626" stroke="#262626">15</text>
<text x="35.2" y="497.8" text-anchor="end" font-size="10.5" font-family="Liberation Sans, sans-serif" font-weight="bold" stroke-width="0.3" fill="#262626" stroke="#262626">0</text>
<text x="35.2" y="464.94" text-anchor="end" font-size="10.5" font-family="Liberation Sans, sans-serif" font-weight="bold" stroke-width="0.3" fill="#262626" stroke="#262626">0.01</text>
<text x="35.2" y="432.09" text-anchor="end" font-size="10.5" font-family="Liberation Sans, sans-serif" font-weight="bold" stroke-width="0.3" fill="#262626" stroke="#262626">0.02</text>
<text x="35.2" y="399.23" text-anchor="end" font-size="10.5" font-family="Liberation Sans, sans-serif" font-weight="bold" stroke-width="0.3" fill="#262626" stroke="#262626">0.03</text>
<text x="35.2" y="366.37" text-anchor="end" font-size="10.5" font-family="Liberation Sans, sans-serif" font-weight="bold" stroke-width="0.3" fill="#262626" stroke="#262626">0.04</text>
<text x="35.2" y="333.51" text-anchor="end" font-size="10.5" font-family="Liberation Sans, sans-serif" font-weight="bold" stroke-width="0.3" fill="#262626" stroke="#262626">0.05</text>
<text x="35.2" y="300.66" text-anchor="end" font-size="10.5" font-family="Liberation Sans, sans-serif" font-weight="bold" stroke-width="0.3" fill="#262626" stroke="#262626">0.06</text>
<text x="35.2" y="267.8" text-anchor="end" font-size="10.5" font-family="Liberation Sans, sans-serif" font-weight="bold" stroke-width="0.3" fill="#262626" stroke="#262626">0.07</text>
<text x="185.6" y="521.8" text-anchor="middle" font-size="11.5" font-family="Liberation Sans, sans-serif" font-weight="bold" stroke-width="0.3" fill="#262626" stroke="#262626">x [nm]</text>
<text transform="translate(9.8,379) rotate(-90)" text-anchor="middle" font-size="11.5" font-family="Liberation Sans, sans-serif" font-weight="bold" stroke-width="0.3" fill="#262626" stroke="#262626">P(x)</text>
<rect x="237" y="273.7" width="27.3" height="8.7" fill="#66aad8" stroke="#111" stroke-width="1.3"/>
<path d="M237,289.6h21" stroke="#d95319" stroke-width="2.1" stroke-dasharray="7 6.6"/>
<text x="267" y="281.8" font-size="9.55" font-family="Liberation Sans, sans-serif" font-weight="bold" stroke-width="0.3" fill="#262626" stroke="#262626">Simulations</text>
<text x="267" y="293.1" font-size="9.4" font-family="Liberation Sans, sans-serif" font-weight="bold" stroke-width="0.3" fill="#262626" stroke="#262626">Theory</text>
<text x="300" y="475" font-size="25" font-family="Liberation Sans, sans-serif" font-weight="bold" stroke-width="0.3" fill="#000">c</text>
<rect x="389.5" y="492.05" width="8.03" height="2.15" fill="#66aad8" stroke="#111" stroke-width="1.3"/>
<rect x="397.53" y="492.05" width="8.03" height="2.15" fill="#66aad8" stroke="#111" stroke-width="1.3"/>
<rect x="405.56" y="482.3" width="8.03" height="11.9" fill="#66aad8" stroke="#111" stroke-width="1.3"/>
<rect x="413.59" y="466.47" width="8.03" height="27.73" fill="#66aad8" stroke="#111" stroke-width="1.3"/>
<rect x="421.62" y="456.6" width="8.03" height="37.6" fill="#66aad8" stroke="#111" stroke-width="1.3"/>
<rect x="429.65" y="443.3" width="8.03" height="50.9" fill="#66aad8" stroke="#111" stroke-width="1.3"/>
<rect x="437.68" y="430.51" width="8.03" height="63.69" fill="#66aad8" stroke="#111" stroke-width="1.3"/>
<rect x="445.71" y="423.93" width="8.03" height="70.27" fill="#66aad8" stroke="#111" stroke-width="1.3"/>
<rect x="453.74" y="419.25" width="8.03" height="74.95" fill="#66aad8" stroke="#111" stroke-width="1.3"/>
<rect x="461.77" y="403.93" width="8.03" height="90.27" fill="#66aad8" stroke="#111" stroke-width="1.3"/>
<rect x="469.81" y="402.79" width="8.03" height="91.41" fill="#66aad8" stroke="#111" stroke-width="1.3"/>
<rect x="477.84" y="377.59" width="8.03" height="116.61" fill="#66aad8" stroke="#111" stroke-width="1.3"/>
<rect x="485.87" y="365.94" width="8.03" height="128.26" fill="#66aad8" stroke="#111" stroke-width="1.3"/>
<rect x="493.9" y="363.28" width="8.03" height="130.92" fill="#66aad8" stroke="#111" stroke-width="1.3"/>
<rect x="501.93" y="343.53" width="8.03" height="150.67" fill="#66aad8" stroke="#111" stroke-width="1.3"/>
<rect x="509.96" y="324.79" width="8.03" height="169.41" fill="#66aad8" stroke="#111" stroke-width="1.3"/>
<rect x="517.99" y="330.62" width="8.03" height="163.58" fill="#66aad8" stroke="#111" stroke-width="1.3"/>
<rect x="526.02" y="305.8" width="8.03" height="188.4" fill="#66aad8" stroke="#111" stroke-width="1.3"/>
<rect x="534.05" y="291.88" width="8.03" height="202.32" fill="#66aad8" stroke="#111" stroke-width="1.3"/>
<rect x="542.08" y="281.62" width="8.03" height="212.58" fill="#66aad8" stroke="#111" stroke-width="1.3"/>
<rect x="550.11" y="281.49" width="8.03" height="212.71" fill="#66aad8" stroke="#111" stroke-width="1.3"/>
<rect x="558.14" y="302.51" width="8.03" height="191.69" fill="#66aad8" stroke="#111" stroke-width="1.3"/>
<rect x="566.17" y="377.59" width="8.03" height="116.61" fill="#66aad8" stroke="#111" stroke-width="1.3"/>
<rect x="574.2" y="473.31" width="8.03" height="20.89" fill="#66aad8" stroke="#111" stroke-width="1.3"/>
<path d="M389.5,491.02 L390.3,490.52 L391.11,489.98 L391.91,489.39 L392.71,488.76 L393.52,488.1 L394.32,487.39 L395.12,486.65 L395.92,485.88 L396.73,485.07 L397.53,484.25 L398.33,483.4 L399.14,482.53 L399.94,481.65 L400.74,480.75 L401.55,479.84 L402.35,478.92 L403.15,477.99 L403.95,477.06 L404.76,476.13 L405.56,475.19 L406.36,474.24 L407.17,473.3 L407.97,472.35 L408.77,471.4 L409.58,470.46 L410.38,469.51 L411.18,468.56 L411.99,467.61 L412.79,466.66 L413.59,465.71 L414.39,464.76 L415.2,463.81 L416,462.86 L416.8,461.91 L417.61,460.96 L418.41,460.01 L419.21,459.07 L420.02,458.12 L420.82,457.17 L421.62,456.22 L422.43,455.27 L423.23,454.32 L424.03,453.37 L424.83,452.42 L425.64,451.47 L426.44,450.52 L427.24,449.57 L428.05,448.62 L428.85,447.67 L429.65,446.72 L430.46,445.77 L431.26,444.82 L432.06,443.87 L432.87,442.92 L433.67,441.97 L434.47,441.02 L435.27,440.07 L436.08,439.12 L436.88,438.17 L437.68,437.23 L438.49,436.28 L439.29,435.33 L440.09,434.38 L440.9,433.43 L441.7,432.48 L442.5,431.53 L443.3,430.58 L444.11,429.63 L444.91,428.68 L445.71,427.73 L446.52,426.78 L447.32,425.83 L448.12,424.88 L448.93,423.93 L449.73,422.98 L450.53,422.03 L451.34,421.08 L452.14,420.13 L452.94,419.18 L453.74,418.23 L454.55,417.28 L455.35,416.33 L456.15,415.38 L456.96,414.44 L457.76,413.49 L458.56,412.54 L459.37,411.59 L460.17,410.64 L460.97,409.69 L461.77,408.74 L462.58,407.79 L463.38,406.84 L464.18,405.89 L464.99,404.94 L465.79,403.99 L466.59,403.04 L467.4,402.09 L468.2,401.14 L469,400.19 L469.81,399.24 L470.61,398.29 L471.41,397.34 L472.21,396.39 L473.02,395.44 L473.82,394.49 L474.62,393.54 L475.43,392.59 L476.23,391.64 L477.03,390.7 L477.84,389.75 L478.64,388.8 L479.44,387.85 L480.25,386.9 L481.05,385.95 L481.85,385 L482.65,384.05 L483.46,383.1 L484.26,382.15 L485.06,381.2 L485.87,380.25 L486.67,379.3 L487.47,378.35 L488.28,377.4 L489.08,376.45 L489.88,375.5 L490.69,374.55 L491.49,373.6 L492.29,372.65 L493.09,371.7 L493.9,370.75 L494.7,369.8 L495.5,368.85 L496.31,367.91 L497.11,366.96 L497.91,366.01 L498.72,365.06 L499.52,364.11 L500.32,363.16 L501.12,362.21 L501.93,361.26 L502.73,360.31 L503.53,359.36 L504.34,358.41 L505.14,357.46 L505.94,356.51 L506.75,355.56 L507.55,354.61 L508.35,353.66 L509.16,352.71 L509.96,351.76 L510.76,350.81 L511.56,349.86 L512.37,348.91 L513.17,347.96 L513.97,347.01 L514.78,346.06 L515.58,345.12 L516.38,344.17 L517.19,343.22 L517.99,342.27 L518.79,341.32 L519.6,340.37 L520.4,339.42 L521.2,338.47 L522,337.52 L522.81,336.57 L523.61,335.62 L524.41,334.67 L525.22,333.72 L526.02,332.77 L526.82,331.82 L527.63,330.87 L528.43,329.92 L529.23,328.97 L530.03,328.02 L530.84,327.07 L531.64,326.12 L532.44,325.17 L533.25,324.22 L534.05,323.28 L534.85,322.33 L535.66,321.38 L536.46,320.43 L537.26,319.48 L538.07,318.53 L538.87,317.58 L539.67,316.63 L540.47,315.68 L541.28,314.73 L542.08,313.78 L542.88,312.83 L543.69,311.88 L544.49,310.93 L545.29,309.98 L546.1,309.04 L546.9,308.09 L547.7,307.15 L548.5,306.2 L549.31,305.27 L550.11,304.34 L550.91,303.42 L551.72,302.51 L552.52,301.63 L553.32,300.77 L554.13,299.96 L554.93,299.2 L555.73,298.51 L556.54,297.92 L557.34,297.46 L558.14,297.17 L558.94,297.08 L559.75,297.24 L560.55,297.71 L561.35,298.56 L562.16,299.84 L562.96,301.62 L563.76,303.97 L564.57,306.96 L565.37,310.63 L566.17,315.03 L566.98,320.2 L567.78,326.13 L568.58,332.83 L569.38,340.26 L570.19,348.36 L570.99,357.05 L571.79,366.23 L572.6,375.78 L573.4,385.56 L574.2,395.42 L575.01,405.23 L575.81,414.84 L576.61,424.12 L577.42,432.95 L578.22,441.23 L579.02,448.88 L579.82,455.86 L580.63,462.12 L581.43,467.67 L582.23,472.51 L583.04,476.68 L583.84,480.21 L584.64,483.17 L585.45,485.61 L586.25,487.59 L587.05,489.18 L587.85,490.43 L588.66,491.41 L589.46,492.16 L590.26,492.72 L591.07,493.15 L591.87,493.46 L592.67,493.69 L593.48,493.85 L594.28,493.96 L595.08,494.04 L595.89,494.09 L596.69,494.13 L597.49,494.16 L598.29,494.17 L599.1,494.18 L599.9,494.19 L600.7,494.19" fill="none" stroke="#d95319" stroke-width="2.1" stroke-dasharray="6.8 6.6"/>
<path d="M389.5,494.2v-3.5M389.5,266.3v3.5M421.62,494.2v-3.5M421.62,266.3v3.5M453.74,494.2v-3.5M453.74,266.3v3.5M485.87,494.2v-3.5M485.87,266.3v3.5M517.99,494.2v-3.5M517.99,266.3v3.5M550.11,494.2v-3.5M550.11,266.3v3.5M582.23,494.2v-3.5M582.23,266.3v3.5M614.36,494.2v-3.5M614.36,266.3v3.5M646.48,494.2v-3.5M646.48,266.3v3.5M678.6,494.2v-3.5M678.6,266.3v3.5M389.5,494.2h3.5M678.6,494.2h-3.5M389.5,468.88h3.5M678.6,468.88h-3.5M389.5,443.56h3.5M678.6,443.56h-3.5M389.5,418.23h3.5M678.6,418.23h-3.5M389.5,392.91h3.5M678.6,392.91h-3.5M389.5,367.59h3.5M678.6,367.59h-3.5M389.5,342.27h3.5M678.6,342.27h-3.5M389.5,316.94h3.5M678.6,316.94h-3.5M389.5,291.62h3.5M678.6,291.62h-3.5M389.5,266.3h3.5M678.6,266.3h-3.5" stroke="#262626" stroke-width="1.3" fill="none"/>
<rect x="389.5" y="266.3" width="289.1" height="227.9" fill="none" stroke="#262626" stroke-width="1.5"/>
<text x="389.5" y="508.8" text-anchor="middle" font-size="10.5" font-family="Liberation Sans, sans-serif" font-weight="bold" stroke-width="0.3" fill="#262626" stroke="#262626">0</text>
<text x="421.62" y="508.8" text-anchor="middle" font-size="10.5" font-family="Liberation Sans, sans-serif" font-weight="bold" stroke-width="0.3" fill="#262626" stroke="#262626">2</text>
<text x="453.74" y="508.8" text-anchor="middle" font-size="10.5" font-family="Liberation Sans, sans-serif" font-weight="bold" stroke-width="0.3" fill="#262626" stroke="#262626">4</text>
<text x="485.87" y="508.8" text-anchor="middle" font-size="10.5" font-family="Liberation Sans, sans-serif" font-weight="bold" stroke-width="0.3" fill="#262626" stroke="#262626">6</text>
<text x="517.99" y="508.8" text-anchor="middle" font-size="10.5" font-family="Liberation Sans, sans-serif" font-weight="bold" stroke-width="0.3" fill="#262626" stroke="#262626">8</text>
<text x="550.11" y="508.8" text-anchor="middle" font-size="10.5" font-family="Liberation Sans, sans-serif" font-weight="bold" stroke-width="0.3" fill="#262626" stroke="#262626">10</text>
<text x="582.23" y="508.8" text-anchor="middle" font-size="10.5" font-family="Liberation Sans, sans-serif" font-weight="bold" stroke-width="0.3" fill="#262626" stroke="#262626">12</text>
<text x="614.36" y="508.8" text-anchor="middle" font-size="10.5" font-family="Liberation Sans, sans-serif" font-weight="bold" stroke-width="0.3" fill="#262626" stroke="#262626">14</text>
<text x="646.48" y="508.8" text-anchor="middle" font-size="10.5" font-family="Liberation Sans, sans-serif" font-weight="bold" stroke-width="0.3" fill="#262626" stroke="#262626">16</text>
<text x="678.6" y="508.8" text-anchor="middle" font-size="10.5" font-family="Liberation Sans, sans-serif" font-weight="bold" stroke-width="0.3" fill="#262626" stroke="#262626">18</text>
<text x="384.7" y="498" text-anchor="end" font-size="10.5" font-family="Liberation Sans, sans-serif" font-weight="bold" stroke-width="0.3" fill="#262626" stroke="#262626">0</text>
<text x="384.7" y="472.68" text-anchor="end" font-size="10.5" font-family="Liberation Sans, sans-serif" font-weight="bold" stroke-width="0.3" fill="#262626" stroke="#262626">0.02</text>
<text x="384.7" y="447.36" text-anchor="end" font-size="10.5" font-family="Liberation Sans, sans-serif" font-weight="bold" stroke-width="0.3" fill="#262626" stroke="#262626">0.04</text>
<text x="384.7" y="422.03" text-anchor="end" font-size="10.5" font-family="Liberation Sans, sans-serif" font-weight="bold" stroke-width="0.3" fill="#262626" stroke="#262626">0.06</text>
<text x="384.7" y="396.71" text-anchor="end" font-size="10.5" font-family="Liberation Sans, sans-serif" font-weight="bold" stroke-width="0.3" fill="#262626" stroke="#262626">0.08</text>
<text x="384.7" y="371.39" text-anchor="end" font-size="10.5" font-family="Liberation Sans, sans-serif" font-weight="bold" stroke-width="0.3" fill="#262626" stroke="#262626">0.1</text>
<text x="384.7" y="346.07" text-anchor="end" font-size="10.5" font-family="Liberation Sans, sans-serif" font-weight="bold" stroke-width="0.3" fill="#262626" stroke="#262626">0.12</text>
<text x="384.7" y="320.74" text-anchor="end" font-size="10.5" font-family="Liberation Sans, sans-serif" font-weight="bold" stroke-width="0.3" fill="#262626" stroke="#262626">0.14</text>
<text x="384.7" y="295.42" text-anchor="end" font-size="10.5" font-family="Liberation Sans, sans-serif" font-weight="bold" stroke-width="0.3" fill="#262626" stroke="#262626">0.16</text>
<text x="384.7" y="270.1" text-anchor="end" font-size="10.5" font-family="Liberation Sans, sans-serif" font-weight="bold" stroke-width="0.3" fill="#262626" stroke="#262626">0.18</text>
<text x="534.05" y="522" text-anchor="middle" font-size="11.5" font-family="Liberation Sans, sans-serif" font-weight="bold" stroke-width="0.3" fill="#262626" stroke="#262626">z [nm]</text>
<text transform="translate(358.7,380.25) rotate(-90)" text-anchor="middle" font-size="11.5" font-family="Liberation Sans, sans-serif" font-weight="bold" stroke-width="0.3" fill="#262626" stroke="#262626">P(z)</text>
<rect x="585.1" y="275.9" width="27.3" height="8.7" fill="#66aad8" stroke="#111" stroke-width="1.3"/>
<path d="M585.1,291.8h21" stroke="#d95319" stroke-width="2.1" stroke-dasharray="7 6.6"/>
<text x="615.1" y="284" font-size="9.55" font-family="Liberation Sans, sans-serif" font-weight="bold" stroke-width="0.3" fill="#262626" stroke="#262626">Simulations</text>
<text x="615.1" y="295.3" font-size="9.4" font-family="Liberation Sans, sans-serif" font-weight="bold" stroke-width="0.3" fill="#262626" stroke="#262626">Theory</text>
<text x="650.5" y="475" font-size="25" font-family="Liberation Sans, sans-serif" font-weight="bold" stroke-width="0.3" fill="#000">d</text>
<g fill="#f076f5" stroke="#78349a" stroke-width="0.5"><circle cx="560.5" cy="221.4" r="1.75"/><circle cx="463.0" cy="75.7" r="1.75"/><circle cx="602.5" cy="116.7" r="1.75"/><circle cx="475.9" cy="64.7" r="1.75"/><circle cx="531.1" cy="137.6" r="1.75"/><circle cx="601.4" cy="154.3" r="1.75"/><circle cx="460.5" cy="41.6" r="1.75"/><circle cx="533.6" cy="116.3" r="1.75"/><circle cx="561.5" cy="127.9" r="1.75"/><circle cx="454.9" cy="171.4" r="1.75"/><circle cx="610.5" cy="40.2" r="1.75"/><circle cx="622.8" cy="126.9" r="1.75"/><circle cx="564.1" cy="183.5" r="1.75"/><circle cx="540.0" cy="126.4" r="1.75"/><circle cx="496.1" cy="148.5" r="1.75"/><circle cx="502.6" cy="81.3" r="1.75"/><circle cx="607.2" cy="95.1" r="1.75"/><circle cx="552.0" cy="150.1" r="1.75"/><circle cx="573.1" cy="39.3" r="1.75"/><circle cx="466.5" cy="100.7" r="1.75"/><circle cx="571.9" cy="75.8" r="1.75"/><circle cx="569.6" cy="34.6" r="1.75"/><circle cx="547.0" cy="38.0" r="1.75"/><circle cx="634.4" cy="137.3" r="1.75"/><circle cx="623.7" cy="159.0" r="1.75"/><circle cx="499.8" cy="102.8" r="1.75"/><circle cx="522.1" cy="136.1" r="1.75"/><circle cx="498.8" cy="9.9" r="1.75"/><circle cx="535.8" cy="215.5" r="1.75"/><circle cx="552.0" cy="169.3" r="1.75"/><circle cx="534.7" cy="189.2" r="1.75"/><circle cx="561.3" cy="196.0" r="1.75"/><circle cx="585.1" cy="57.7" r="1.75"/><circle cx="496.6" cy="46.3" r="1.75"/><circle cx="639.3" cy="142.4" r="1.75"/><circle cx="535.2" cy="221.3" r="1.75"/><circle cx="549.7" cy="106.6" r="1.75"/><circle cx="508.4" cy="227.7" r="1.75"/><circle cx="512.9" cy="129.3" r="1.75"/><circle cx="469.2" cy="199.2" r="1.75"/><circle cx="583.0" cy="156.1" r="1.75"/><circle cx="489.2" cy="99.7" r="1.75"/><circle cx="435.4" cy="149.8" r="1.75"/><circle cx="553.1" cy="163.4" r="1.75"/><circle cx="563.0" cy="47.4" r="1.75"/><circle cx="508.4" cy="188.9" r="1.75"/><circle cx="469.7" cy="63.2" r="1.75"/><circle cx="448.5" cy="167.9" r="1.75"/><circle cx="606.0" cy="163.1" r="1.75"/><circle cx="454.7" cy="142.7" r="1.75"/><circle cx="490.6" cy="80.1" r="1.75"/><circle cx="560.9" cy="197.1" r="1.75"/><circle cx="618.5" cy="197.0" r="1.75"/><circle cx="595.1" cy="217.9" r="1.75"/><circle cx="548.0" cy="158.4" r="1.75"/><circle cx="431.5" cy="163.8" r="1.75"/><circle cx="609.0" cy="198.6" r="1.75"/><circle cx="584.2" cy="214.1" r="1.75"/><circle cx="566.8" cy="54.9" r="1.75"/><circle cx="638.5" cy="95.1" r="1.75"/><circle cx="519.4" cy="162.9" r="1.75"/><circle cx="500.9" cy="35.1" r="1.75"/><circle cx="610.7" cy="94.5" r="1.75"/><circle cx="539.6" cy="55.0" r="1.75"/><circle cx="488.5" cy="114.1" r="1.75"/><circle cx="591.7" cy="143.8" r="1.75"/><circle cx="426.9" cy="188.7" r="1.75"/><circle cx="473.7" cy="77.3" r="1.75"/><circle cx="559.3" cy="48.2" r="1.75"/><circle cx="623.7" cy="94.1" r="1.75"/><circle cx="609.5" cy="167.0" r="1.75"/><circle cx="423.7" cy="129.1" r="1.75"/><circle cx="454.6" cy="67.5" r="1.75"/><circle cx="590.6" cy="221.3" r="1.75"/><circle cx="453.0" cy="197.6" r="1.75"/><circle cx="597.6" cy="98.9" r="1.75"/><circle cx="453.0" cy="187.8" r="1.75"/><circle cx="584.0" cy="111.0" r="1.75"/><circle cx="540.3" cy="97.1" r="1.75"/><circle cx="584.1" cy="95.6" r="1.75"/><circle cx="632.3" cy="97.0" r="1.75"/><circle cx="444.1" cy="176.4" r="1.75"/><circle cx="548.3" cy="111.4" r="1.75"/><circle cx="461.0" cy="190.2" r="1.75"/><circle cx="523.5" cy="10.4" r="1.75"/><circle cx="484.2" cy="178.1" r="1.75"/><circle cx="468.2" cy="98.7" r="1.75"/><circle cx="530.8" cy="32.5" r="1.75"/><circle cx="618.0" cy="120.7" r="1.75"/><circle cx="571.4" cy="67.4" r="1.75"/><circle cx="477.0" cy="128.4" r="1.75"/><circle cx="538.8" cy="99.0" r="1.75"/><circle cx="621.1" cy="46.3" r="1.75"/><circle cx="531.6" cy="123.9" r="1.75"/><circle cx="521.5" cy="217.4" r="1.75"/><circle cx="610.3" cy="188.2" r="1.75"/><circle cx="615.3" cy="168.8" r="1.75"/><circle cx="481.6" cy="43.4" r="1.75"/><circle cx="553.6" cy="82.9" r="1.75"/><circle cx="445.9" cy="128.0" r="1.75"/><circle cx="476.8" cy="198.1" r="1.75"/><circle cx="565.1" cy="234.4" r="1.75"/><circle cx="509.3" cy="171.4" r="1.75"/><circle cx="489.8" cy="165.9" r="1.75"/><circle cx="542.6" cy="190.2" r="1.75"/><circle cx="641.8" cy="116.9" r="1.75"/><circle cx="583.8" cy="130.2" r="1.75"/><circle cx="428.7" cy="139.8" r="1.75"/><circle cx="518.5" cy="156.5" r="1.75"/><circle cx="426.1" cy="147.2" r="1.75"/><circle cx="455.7" cy="216.9" r="1.75"/><circle cx="518.8" cy="185.6" r="1.75"/><circle cx="543.0" cy="199.4" r="1.75"/><circle cx="559.4" cy="202.3" r="1.75"/><circle cx="564.6" cy="101.6" r="1.75"/><circle cx="504.6" cy="184.1" r="1.75"/><circle cx="521.9" cy="186.8" r="1.75"/><circle cx="490.5" cy="204.2" r="1.75"/><circle cx="614.1" cy="194.1" r="1.75"/><circle cx="503.1" cy="212.4" r="1.75"/><circle cx="544.1" cy="164.7" r="1.75"/><circle cx="550.4" cy="105.1" r="1.75"/><circle cx="479.4" cy="74.0" r="1.75"/><circle cx="517.2" cy="93.2" r="1.75"/><circle cx="500.0" cy="67.6" r="1.75"/><circle cx="528.5" cy="169.8" r="1.75"/><circle cx="619.4" cy="78.9" r="1.75"/><circle cx="456.3" cy="105.0" r="1.75"/><circle cx="609.9" cy="118.1" r="1.75"/><circle cx="519.8" cy="93.6" r="1.75"/><circle cx="457.1" cy="79.7" r="1.75"/><circle cx="586.8" cy="202.0" r="1.75"/><circle cx="423.2" cy="169.1" r="1.75"/><circle cx="565.0" cy="94.4" r="1.75"/><circle cx="471.0" cy="118.8" r="1.75"/><circle cx="562.0" cy="52.1" r="1.75"/><circle cx="478.5" cy="77.2" r="1.75"/><circle cx="424.5" cy="105.7" r="1.75"/><circle cx="581.1" cy="50.2" r="1.75"/><circle cx="486.4" cy="190.0" r="1.75"/><circle cx="633.3" cy="162.7" r="1.75"/><circle cx="595.3" cy="185.6" r="1.75"/><circle cx="470.7" cy="109.3" r="1.75"/><circle cx="442.6" cy="110.2" r="1.75"/><circle cx="450.4" cy="71.6" r="1.75"/><circle cx="448.3" cy="118.2" r="1.75"/><circle cx="519.8" cy="42.3" r="1.75"/><circle cx="601.4" cy="47.4" r="1.75"/><circle cx="507.1" cy="104.4" r="1.75"/><circle cx="626.0" cy="165.6" r="1.75"/><circle cx="569.8" cy="149.0" r="1.75"/><circle cx="570.5" cy="168.0" r="1.75"/><circle cx="640.4" cy="150.8" r="1.75"/><circle cx="577.3" cy="105.2" r="1.75"/><circle cx="592.3" cy="84.7" r="1.75"/><circle cx="440.3" cy="47.5" r="1.75"/><circle cx="517.2" cy="228.9" r="1.75"/><circle cx="627.3" cy="168.5" r="1.75"/><circle cx="600.0" cy="62.4" r="1.75"/><circle cx="603.1" cy="170.0" r="1.75"/><circle cx="579.4" cy="34.1" r="1.75"/><circle cx="436.7" cy="128.4" r="1.75"/><circle cx="542.2" cy="209.1" r="1.75"/><circle cx="474.9" cy="189.1" r="1.75"/><circle cx="484.3" cy="156.0" r="1.75"/><circle cx="618.4" cy="74.0" r="1.75"/><circle cx="563.1" cy="183.2" r="1.75"/><circle cx="584.9" cy="172.9" r="1.75"/><circle cx="582.1" cy="52.5" r="1.75"/><circle cx="476.0" cy="117.0" r="1.75"/><circle cx="517.3" cy="72.8" r="1.75"/><circle cx="474.1" cy="44.7" r="1.75"/><circle cx="521.7" cy="54.8" r="1.75"/><circle cx="531.6" cy="20.8" r="1.75"/><circle cx="623.9" cy="118.2" r="1.75"/><circle cx="535.3" cy="92.5" r="1.75"/><circle cx="522.6" cy="113.1" r="1.75"/><circle cx="546.6" cy="235.2" r="1.75"/><circle cx="565.9" cy="81.5" r="1.75"/><circle cx="591.5" cy="146.3" r="1.75"/><circle cx="542.3" cy="50.8" r="1.75"/><circle cx="527.8" cy="43.0" r="1.75"/><circle cx="587.0" cy="100.8" r="1.75"/><circle cx="498.8" cy="134.7" r="1.75"/><circle cx="544.4" cy="28.6" r="1.75"/><circle cx="468.9" cy="44.9" r="1.75"/><circle cx="489.1" cy="49.5" r="1.75"/><circle cx="449.8" cy="121.3" r="1.75"/><circle cx="589.9" cy="109.3" r="1.75"/><circle cx="483.9" cy="193.2" r="1.75"/><circle cx="519.2" cy="164.0" r="1.75"/><circle cx="439.7" cy="115.9" r="1.75"/><circle cx="551.2" cy="71.0" r="1.75"/><circle cx="488.8" cy="186.8" r="1.75"/><circle cx="506.7" cy="186.7" r="1.75"/><circle cx="483.8" cy="182.1" r="1.75"/><circle cx="442.0" cy="109.3" r="1.75"/><circle cx="581.8" cy="118.5" r="1.75"/><circle cx="488.9" cy="231.4" r="1.75"/><circle cx="632.0" cy="151.7" r="1.75"/><circle cx="546.7" cy="114.4" r="1.75"/><circle cx="587.9" cy="168.1" r="1.75"/><circle cx="446.2" cy="200.8" r="1.75"/><circle cx="472.9" cy="113.0" r="1.75"/><circle cx="507.0" cy="93.9" r="1.75"/><circle cx="523.0" cy="111.9" r="1.75"/><circle cx="513.6" cy="36.6" r="1.75"/><circle cx="592.0" cy="140.2" r="1.75"/><circle cx="603.8" cy="58.6" r="1.75"/><circle cx="475.8" cy="76.7" r="1.75"/><circle cx="499.3" cy="81.4" r="1.75"/><circle cx="578.1" cy="187.1" r="1.75"/><circle cx="549.0" cy="64.3" r="1.75"/><circle cx="556.7" cy="146.4" r="1.75"/><circle cx="457.4" cy="64.4" r="1.75"/><circle cx="535.2" cy="149.2" r="1.75"/><circle cx="490.0" cy="82.5" r="1.75"/><circle cx="416.6" cy="136.7" r="1.75"/><circle cx="457.4" cy="83.8" r="1.75"/><circle cx="514.2" cy="52.5" r="1.75"/><circle cx="563.2" cy="25.2" r="1.75"/><circle cx="562.5" cy="27.0" r="1.75"/><circle cx="628.3" cy="84.4" r="1.75"/><circle cx="573.0" cy="136.0" r="1.75"/><circle cx="564.3" cy="129.1" r="1.75"/><circle cx="439.5" cy="171.6" r="1.75"/><circle cx="599.9" cy="112.9" r="1.75"/><circle cx="619.3" cy="100.7" r="1.75"/><circle cx="456.7" cy="176.3" r="1.75"/><circle cx="485.3" cy="70.9" r="1.75"/><circle cx="531.0" cy="26.0" r="1.75"/><circle cx="649.7" cy="143.8" r="1.75"/><circle cx="532.7" cy="125.5" r="1.75"/><circle cx="507.4" cy="206.0" r="1.75"/><circle cx="586.1" cy="143.1" r="1.75"/><circle cx="578.4" cy="49.9" r="1.75"/><circle cx="645.9" cy="134.0" r="1.75"/><circle cx="512.6" cy="163.6" r="1.75"/><circle cx="539.8" cy="95.6" r="1.75"/><circle cx="480.2" cy="162.8" r="1.75"/><circle cx="528.3" cy="116.1" r="1.75"/><circle cx="478.7" cy="198.5" r="1.75"/><circle cx="583.7" cy="84.0" r="1.75"/><circle cx="605.0" cy="134.7" r="1.75"/><circle cx="493.5" cy="19.4" r="1.75"/><circle cx="560.0" cy="26.3" r="1.75"/><circle cx="559.7" cy="129.7" r="1.75"/><circle cx="534.8" cy="73.4" r="1.75"/><circle cx="472.3" cy="35.3" r="1.75"/><circle cx="550.3" cy="105.5" r="1.75"/><circle cx="458.2" cy="164.7" r="1.75"/><circle cx="505.4" cy="115.6" r="1.75"/><circle cx="468.1" cy="177.9" r="1.75"/><circle cx="626.2" cy="98.7" r="1.75"/><circle cx="622.0" cy="166.7" r="1.75"/><circle cx="447.4" cy="54.6" r="1.75"/><circle cx="523.2" cy="147.1" r="1.75"/><circle cx="545.2" cy="36.1" r="1.75"/><circle cx="561.6" cy="107.0" r="1.75"/><circle cx="503.2" cy="127.2" r="1.75"/><circle cx="545.5" cy="189.5" r="1.75"/><circle cx="583.7" cy="105.9" r="1.75"/><circle cx="598.2" cy="45.4" r="1.75"/><circle cx="583.4" cy="128.5" r="1.75"/><circle cx="522.3" cy="115.9" r="1.75"/><circle cx="555.6" cy="20.5" r="1.75"/><circle cx="420.1" cy="136.4" r="1.75"/><circle cx="497.8" cy="76.8" r="1.75"/><circle cx="488.2" cy="141.5" r="1.75"/><circle cx="498.8" cy="236.9" r="1.75"/><circle cx="620.2" cy="161.7" r="1.75"/><circle cx="597.9" cy="73.1" r="1.75"/><circle cx="591.0" cy="112.1" r="1.75"/><circle cx="533.3" cy="75.0" r="1.75"/><circle cx="589.5" cy="211.6" r="1.75"/><circle cx="550.0" cy="219.2" r="1.75"/><circle cx="582.6" cy="50.6" r="1.75"/><circle cx="487.2" cy="146.8" r="1.75"/><circle cx="455.2" cy="90.8" r="1.75"/><circle cx="542.2" cy="127.4" r="1.75"/><circle cx="567.8" cy="73.2" r="1.75"/><circle cx="520.8" cy="217.3" r="1.75"/><circle cx="421.0" cy="109.9" r="1.75"/><circle cx="550.1" cy="145.8" r="1.75"/><circle cx="490.5" cy="102.1" r="1.75"/><circle cx="624.3" cy="174.8" r="1.75"/><circle cx="606.8" cy="120.9" r="1.75"/><circle cx="476.9" cy="33.6" r="1.75"/><circle cx="480.5" cy="209.3" r="1.75"/><circle cx="532.2" cy="23.7" r="1.75"/><circle cx="622.0" cy="76.4" r="1.75"/><circle cx="624.1" cy="119.6" r="1.75"/><circle cx="529.6" cy="62.7" r="1.75"/><circle cx="564.2" cy="225.8" r="1.75"/><circle cx="447.3" cy="119.0" r="1.75"/><circle cx="532.6" cy="225.6" r="1.75"/><circle cx="471.9" cy="138.1" r="1.75"/><circle cx="581.7" cy="74.0" r="1.75"/><circle cx="432.2" cy="180.0" r="1.75"/><circle cx="544.6" cy="129.8" r="1.75"/><circle cx="630.5" cy="91.3" r="1.75"/><circle cx="625.2" cy="148.4" r="1.75"/><circle cx="430.4" cy="124.5" r="1.75"/><circle cx="531.1" cy="182.2" r="1.75"/><circle cx="558.5" cy="13.8" r="1.75"/><circle cx="449.9" cy="102.5" r="1.75"/><circle cx="492.8" cy="20.9" r="1.75"/><circle cx="597.0" cy="45.5" r="1.75"/><circle cx="535.5" cy="152.4" r="1.75"/><circle cx="575.7" cy="98.2" r="1.75"/><circle cx="521.9" cy="103.3" r="1.75"/><circle cx="528.4" cy="71.1" r="1.75"/><circle cx="444.2" cy="109.9" r="1.75"/><circle cx="559.1" cy="222.7" r="1.75"/><circle cx="543.4" cy="110.7" r="1.75"/><circle cx="563.0" cy="214.9" r="1.75"/><circle cx="580.8" cy="66.9" r="1.75"/><circle cx="574.3" cy="51.6" r="1.75"/><circle cx="601.0" cy="199.9" r="1.75"/><circle cx="486.4" cy="163.1" r="1.75"/><circle cx="569.7" cy="143.1" r="1.75"/><circle cx="517.1" cy="57.4" r="1.75"/><circle cx="521.2" cy="184.4" r="1.75"/><circle cx="429.4" cy="134.9" r="1.75"/><circle cx="471.8" cy="172.6" r="1.75"/><circle cx="486.6" cy="121.6" r="1.75"/><circle cx="577.5" cy="158.1" r="1.75"/><circle cx="501.7" cy="167.8" r="1.75"/><circle cx="556.2" cy="114.6" r="1.75"/><circle cx="412.3" cy="124.2" r="1.75"/><circle cx="502.1" cy="20.5" r="1.75"/><circle cx="626.0" cy="89.0" r="1.75"/><circle cx="559.3" cy="33.5" r="1.75"/><circle cx="437.9" cy="90.8" r="1.75"/><circle cx="436.8" cy="80.3" r="1.75"/><circle cx="496.5" cy="195.4" r="1.75"/><circle cx="549.5" cy="108.1" r="1.75"/><circle cx="608.5" cy="184.6" r="1.75"/><circle cx="479.3" cy="202.5" r="1.75"/><circle cx="557.2" cy="215.2" r="1.75"/><circle cx="588.7" cy="159.8" r="1.75"/><circle cx="498.4" cy="154.6" r="1.75"/><circle cx="481.7" cy="98.9" r="1.75"/><circle cx="578.0" cy="110.7" r="1.75"/><circle cx="465.0" cy="163.5" r="1.75"/><circle cx="521.3" cy="48.5" r="1.75"/><circle cx="589.8" cy="48.7" r="1.75"/><circle cx="520.9" cy="59.7" r="1.75"/><circle cx="612.9" cy="160.5" r="1.75"/><circle cx="608.8" cy="180.2" r="1.75"/><circle cx="578.2" cy="205.0" r="1.75"/><circle cx="572.1" cy="128.7" r="1.75"/><circle cx="487.7" cy="40.4" r="1.75"/><circle cx="498.0" cy="105.3" r="1.75"/><circle cx="574.3" cy="168.5" r="1.75"/><circle cx="461.1" cy="126.4" r="1.75"/><circle cx="503.8" cy="234.4" r="1.75"/><circle cx="592.9" cy="213.7" r="1.75"/><circle cx="602.6" cy="110.1" r="1.75"/><circle cx="531.4" cy="50.0" r="1.75"/><circle cx="489.8" cy="58.3" r="1.75"/><circle cx="616.2" cy="160.4" r="1.75"/><circle cx="456.1" cy="28.4" r="1.75"/><circle cx="493.2" cy="101.8" r="1.75"/><circle cx="443.7" cy="137.6" r="1.75"/><circle cx="490.4" cy="48.8" r="1.75"/><circle cx="567.1" cy="115.0" r="1.75"/><circle cx="582.5" cy="65.1" r="1.75"/><circle cx="527.2" cy="133.2" r="1.75"/><circle cx="528.7" cy="59.7" r="1.75"/><circle cx="455.6" cy="63.0" r="1.75"/><circle cx="589.7" cy="210.6" r="1.75"/><circle cx="485.0" cy="97.9" r="1.75"/><circle cx="479.6" cy="105.3" r="1.75"/><circle cx="573.0" cy="160.1" r="1.75"/><circle cx="483.4" cy="71.2" r="1.75"/><circle cx="553.2" cy="87.6" r="1.75"/><circle cx="562.6" cy="213.4" r="1.75"/><circle cx="569.3" cy="18.8" r="1.75"/><circle cx="563.6" cy="170.3" r="1.75"/><circle cx="521.8" cy="177.5" r="1.75"/><circle cx="427.7" cy="60.3" r="1.75"/><circle cx="454.5" cy="51.3" r="1.75"/><circle cx="486.5" cy="91.0" r="1.75"/><circle cx="605.1" cy="132.8" r="1.75"/><circle cx="473.2" cy="134.8" r="1.75"/><circle cx="617.4" cy="203.6" r="1.75"/><circle cx="480.9" cy="162.8" r="1.75"/><circle cx="602.8" cy="213.0" r="1.75"/><circle cx="613.5" cy="115.0" r="1.75"/><circle cx="525.4" cy="84.3" r="1.75"/><circle cx="610.9" cy="36.9" r="1.75"/><circle cx="501.6" cy="115.5" r="1.75"/><circle cx="586.1" cy="167.7" r="1.75"/><circle cx="611.2" cy="69.9" r="1.75"/><circle cx="485.0" cy="81.4" r="1.75"/><circle cx="561.5" cy="138.9" r="1.75"/><circle cx="621.5" cy="188.1" r="1.75"/><circle cx="447.3" cy="55.2" r="1.75"/><circle cx="488.8" cy="17.4" r="1.75"/><circle cx="517.5" cy="72.5" r="1.75"/><circle cx="489.1" cy="94.4" r="1.75"/><circle cx="529.3" cy="50.7" r="1.75"/><circle cx="533.2" cy="114.3" r="1.75"/><circle cx="591.5" cy="209.7" r="1.75"/><circle cx="571.2" cy="178.5" r="1.75"/><circle cx="578.6" cy="64.6" r="1.75"/><circle cx="437.3" cy="99.3" r="1.75"/><circle cx="568.3" cy="185.0" r="1.75"/><circle cx="439.4" cy="158.9" r="1.75"/><circle cx="473.3" cy="115.2" r="1.75"/><circle cx="539.5" cy="86.4" r="1.75"/><circle cx="537.6" cy="170.0" r="1.75"/><circle cx="580.5" cy="181.8" r="1.75"/><circle cx="548.8" cy="68.9" r="1.75"/><circle cx="534.3" cy="128.8" r="1.75"/><circle cx="472.7" cy="91.2" r="1.75"/><circle cx="514.7" cy="11.9" r="1.75"/><circle cx="539.1" cy="89.9" r="1.75"/><circle cx="453.5" cy="104.5" r="1.75"/><circle cx="448.8" cy="163.9" r="1.75"/><circle cx="593.4" cy="167.3" r="1.75"/><circle cx="464.0" cy="128.1" r="1.75"/><circle cx="502.3" cy="112.1" r="1.75"/><circle cx="509.6" cy="161.0" r="1.75"/><circle cx="457.1" cy="181.0" r="1.75"/><circle cx="529.8" cy="119.5" r="1.75"/><circle cx="521.0" cy="123.8" r="1.75"/><circle cx="518.9" cy="101.5" r="1.75"/><circle cx="480.1" cy="67.1" r="1.75"/><circle cx="599.0" cy="30.3" r="1.75"/><circle cx="536.4" cy="78.8" r="1.75"/><circle cx="499.1" cy="125.0" r="1.75"/><circle cx="512.9" cy="112.7" r="1.75"/><circle cx="569.5" cy="146.4" r="1.75"/><circle cx="636.6" cy="102.4" r="1.75"/><circle cx="433.1" cy="98.6" r="1.75"/><circle cx="609.9" cy="59.4" r="1.75"/><circle cx="529.8" cy="21.1" r="1.75"/><circle cx="575.8" cy="92.8" r="1.75"/><circle cx="602.4" cy="82.2" r="1.75"/><circle cx="634.8" cy="153.8" r="1.75"/><circle cx="570.2" cy="59.1" r="1.75"/><circle cx="483.2" cy="226.8" r="1.75"/><circle cx="461.3" cy="114.3" r="1.75"/><circle cx="442.9" cy="147.0" r="1.75"/><circle cx="577.3" cy="77.4" r="1.75"/><circle cx="466.8" cy="73.7" r="1.75"/><circle cx="495.8" cy="171.6" r="1.75"/><circle cx="476.5" cy="87.8" r="1.75"/><circle cx="491.3" cy="143.7" r="1.75"/><circle cx="480.6" cy="199.9" r="1.75"/><circle cx="586.9" cy="199.3" r="1.75"/><circle cx="535.3" cy="54.7" r="1.75"/><circle cx="515.1" cy="178.1" r="1.75"/><circle cx="468.3" cy="73.8" r="1.75"/><circle cx="626.2" cy="182.2" r="1.75"/><circle cx="520.9" cy="206.1" r="1.75"/><circle cx="604.5" cy="193.3" r="1.75"/><circle cx="626.8" cy="96.3" r="1.75"/><circle cx="564.1" cy="83.3" r="1.75"/><circle cx="555.9" cy="133.5" r="1.75"/><circle cx="537.7" cy="33.2" r="1.75"/><circle cx="513.6" cy="176.5" r="1.75"/><circle cx="577.3" cy="224.6" r="1.75"/><circle cx="599.6" cy="215.5" r="1.75"/><circle cx="508.1" cy="84.0" r="1.75"/><circle cx="464.5" cy="83.4" r="1.75"/><circle cx="594.8" cy="106.7" r="1.75"/><circle cx="477.4" cy="90.4" r="1.75"/><circle cx="522.6" cy="148.1" r="1.75"/><circle cx="543.9" cy="221.5" r="1.75"/><circle cx="534.7" cy="170.2" r="1.75"/><circle cx="642.7" cy="124.2" r="1.75"/><circle cx="593.5" cy="201.5" r="1.75"/><circle cx="536.7" cy="183.8" r="1.75"/><circle cx="564.5" cy="149.5" r="1.75"/><circle cx="547.5" cy="137.9" r="1.75"/><circle cx="609.8" cy="182.4" r="1.75"/><circle cx="521.1" cy="185.9" r="1.75"/><circle cx="522.0" cy="203.7" r="1.75"/><circle cx="479.0" cy="121.7" r="1.75"/><circle cx="473.9" cy="203.3" r="1.75"/><circle cx="482.0" cy="137.6" r="1.75"/><circle cx="469.0" cy="184.4" r="1.75"/><circle cx="502.2" cy="191.9" r="1.75"/><circle cx="524.9" cy="226.0" r="1.75"/><circle cx="448.6" cy="189.0" r="1.75"/><circle cx="550.8" cy="123.8" r="1.75"/><circle cx="592.0" cy="183.4" r="1.75"/><circle cx="471.4" cy="197.8" r="1.75"/><circle cx="620.3" cy="125.0" r="1.75"/><circle cx="516.6" cy="45.5" r="1.75"/><circle cx="464.3" cy="42.0" r="1.75"/><circle cx="423.6" cy="117.3" r="1.75"/><circle cx="562.6" cy="221.5" r="1.75"/><circle cx="602.9" cy="71.9" r="1.75"/><circle cx="600.1" cy="78.7" r="1.75"/><circle cx="451.2" cy="65.3" r="1.75"/><circle cx="548.2" cy="174.1" r="1.75"/><circle cx="501.5" cy="56.2" r="1.75"/><circle cx="464.5" cy="122.7" r="1.75"/><circle cx="585.8" cy="140.1" r="1.75"/><circle cx="577.2" cy="155.4" r="1.75"/><circle cx="599.0" cy="157.3" r="1.75"/><circle cx="501.3" cy="228.5" r="1.75"/><circle cx="541.5" cy="202.1" r="1.75"/><circle cx="572.6" cy="41.0" r="1.75"/><circle cx="495.0" cy="20.9" r="1.75"/><circle cx="525.1" cy="66.6" r="1.75"/><circle cx="532.4" cy="53.8" r="1.75"/><circle cx="506.2" cy="195.2" r="1.75"/><circle cx="544.4" cy="90.3" r="1.75"/><circle cx="452.6" cy="81.4" r="1.75"/><circle cx="484.5" cy="212.7" r="1.75"/><circle cx="512.2" cy="30.6" r="1.75"/><circle cx="595.0" cy="124.6" r="1.75"/><circle cx="587.1" cy="150.5" r="1.75"/><circle cx="578.4" cy="30.8" r="1.75"/><circle cx="517.3" cy="30.4" r="1.75"/><circle cx="567.2" cy="183.5" r="1.75"/><circle cx="503.1" cy="53.2" r="1.75"/><circle cx="549.6" cy="230.3" r="1.75"/><circle cx="492.5" cy="179.6" r="1.75"/><circle cx="566.9" cy="73.0" r="1.75"/><circle cx="590.0" cy="171.2" r="1.75"/><circle cx="536.1" cy="170.7" r="1.75"/><circle cx="530.5" cy="18.6" r="1.75"/><circle cx="615.6" cy="183.7" r="1.75"/><circle cx="549.1" cy="143.0" r="1.75"/><circle cx="587.4" cy="83.1" r="1.75"/><circle cx="522.6" cy="163.9" r="1.75"/><circle cx="591.0" cy="110.9" r="1.75"/><circle cx="521.5" cy="213.1" r="1.75"/><circle cx="562.2" cy="93.8" r="1.75"/><circle cx="560.9" cy="120.8" r="1.75"/><circle cx="471.1" cy="172.3" r="1.75"/><circle cx="548.5" cy="65.9" r="1.75"/><circle cx="499.5" cy="119.3" r="1.75"/><circle cx="583.3" cy="182.2" r="1.75"/><circle cx="613.0" cy="96.6" r="1.75"/><circle cx="626.6" cy="163.3" r="1.75"/><circle cx="540.7" cy="181.4" r="1.75"/><circle cx="442.8" cy="61.7" r="1.75"/><circle cx="591.6" cy="121.0" r="1.75"/><circle cx="561.6" cy="191.2" r="1.75"/><circle cx="497.1" cy="231.3" r="1.75"/><circle cx="579.4" cy="207.6" r="1.75"/><circle cx="531.7" cy="92.1" r="1.75"/><circle cx="596.4" cy="69.7" r="1.75"/><circle cx="456.1" cy="142.4" r="1.75"/><circle cx="467.1" cy="26.5" r="1.75"/><circle cx="525.8" cy="149.6" r="1.75"/><circle cx="518.0" cy="44.1" r="1.75"/><circle cx="648.7" cy="127.3" r="1.75"/><circle cx="540.7" cy="172.4" r="1.75"/><circle cx="494.0" cy="63.0" r="1.75"/><circle cx="585.5" cy="195.0" r="1.75"/><circle cx="553.2" cy="56.4" r="1.75"/><circle cx="580.7" cy="181.7" r="1.75"/><circle cx="547.7" cy="169.0" r="1.75"/><circle cx="433.7" cy="131.9" r="1.75"/><circle cx="454.3" cy="189.0" r="1.75"/><circle cx="501.4" cy="49.3" r="1.75"/><circle cx="575.6" cy="174.1" r="1.75"/><circle cx="589.8" cy="185.1" r="1.75"/><circle cx="596.6" cy="151.8" r="1.75"/><circle cx="410.3" cy="132.7" r="1.75"/><circle cx="590.6" cy="85.6" r="1.75"/><circle cx="431.3" cy="123.0" r="1.75"/><circle cx="598.4" cy="139.1" r="1.75"/><circle cx="616.7" cy="95.2" r="1.75"/><circle cx="511.4" cy="157.7" r="1.75"/><circle cx="462.0" cy="124.1" r="1.75"/><circle cx="531.8" cy="161.2" r="1.75"/><circle cx="608.4" cy="66.7" r="1.75"/><circle cx="522.0" cy="44.0" r="1.75"/><circle cx="632.4" cy="155.4" r="1.75"/><circle cx="441.3" cy="188.2" r="1.75"/><circle cx="609.7" cy="132.2" r="1.75"/><circle cx="567.0" cy="39.4" r="1.75"/><circle cx="582.6" cy="86.1" r="1.75"/><circle cx="598.3" cy="206.3" r="1.75"/><circle cx="614.6" cy="163.3" r="1.75"/><circle cx="473.3" cy="97.4" r="1.75"/><circle cx="451.2" cy="215.6" r="1.75"/><circle cx="452.4" cy="188.0" r="1.75"/><circle cx="594.1" cy="112.0" r="1.75"/><circle cx="580.5" cy="94.3" r="1.75"/><circle cx="480.1" cy="34.3" r="1.75"/><circle cx="480.1" cy="212.4" r="1.75"/><circle cx="574.7" cy="185.0" r="1.75"/><circle cx="494.4" cy="221.9" r="1.75"/><circle cx="516.1" cy="191.8" r="1.75"/><circle cx="567.6" cy="97.7" r="1.75"/><circle cx="520.7" cy="70.5" r="1.75"/><circle cx="595.0" cy="172.3" r="1.75"/><circle cx="445.4" cy="60.3" r="1.75"/><circle cx="636.5" cy="117.6" r="1.75"/><circle cx="627.3" cy="102.7" r="1.75"/><circle cx="503.5" cy="72.3" r="1.75"/><circle cx="497.6" cy="215.9" r="1.75"/><circle cx="517.3" cy="140.7" r="1.75"/><circle cx="473.3" cy="67.6" r="1.75"/><circle cx="533.8" cy="27.0" r="1.75"/><circle cx="450.7" cy="110.8" r="1.75"/><circle cx="441.7" cy="102.3" r="1.75"/><circle cx="542.3" cy="220.3" r="1.75"/><circle cx="542.1" cy="168.0" r="1.75"/><circle cx="523.2" cy="173.3" r="1.75"/><circle cx="604.6" cy="55.5" r="1.75"/><circle cx="546.7" cy="165.7" r="1.75"/><circle cx="506.9" cy="226.9" r="1.75"/><circle cx="605.1" cy="95.2" r="1.75"/><circle cx="450.2" cy="187.8" r="1.75"/><circle cx="447.2" cy="184.2" r="1.75"/><circle cx="524.9" cy="68.2" r="1.75"/><circle cx="598.8" cy="84.9" r="1.75"/><circle cx="455.5" cy="150.6" r="1.75"/><circle cx="604.8" cy="165.1" r="1.75"/><circle cx="565.0" cy="227.4" r="1.75"/><circle cx="555.8" cy="104.7" r="1.75"/><circle cx="527.5" cy="56.8" r="1.75"/><circle cx="531.9" cy="10.1" r="1.75"/><circle cx="477.4" cy="157.2" r="1.75"/><circle cx="557.9" cy="164.5" r="1.75"/><circle cx="470.5" cy="94.3" r="1.75"/><circle cx="617.7" cy="150.8" r="1.75"/><circle cx="553.0" cy="223.3" r="1.75"/><circle cx="516.4" cy="166.1" r="1.75"/><circle cx="582.4" cy="66.5" r="1.75"/><circle cx="604.2" cy="106.0" r="1.75"/><circle cx="562.1" cy="187.1" r="1.75"/><circle cx="561.3" cy="225.2" r="1.75"/><circle cx="561.4" cy="107.3" r="1.75"/><circle cx="467.5" cy="165.4" r="1.75"/><circle cx="539.7" cy="66.0" r="1.75"/><circle cx="455.8" cy="205.9" r="1.75"/><circle cx="551.1" cy="216.5" r="1.75"/><circle cx="517.9" cy="37.1" r="1.75"/><circle cx="463.8" cy="154.3" r="1.75"/><circle cx="607.3" cy="51.5" r="1.75"/><circle cx="461.6" cy="212.5" r="1.75"/><circle cx="561.9" cy="79.2" r="1.75"/><circle cx="617.2" cy="189.1" r="1.75"/><circle cx="451.6" cy="151.2" r="1.75"/><circle cx="533.2" cy="114.6" r="1.75"/><circle cx="509.3" cy="201.9" r="1.75"/><circle cx="596.9" cy="137.0" r="1.75"/><circle cx="528.0" cy="28.4" r="1.75"/><circle cx="568.4" cy="95.0" r="1.75"/><circle cx="506.1" cy="49.4" r="1.75"/><circle cx="420.0" cy="166.6" r="1.75"/><circle cx="519.5" cy="230.7" r="1.75"/><circle cx="605.8" cy="188.5" r="1.75"/><circle cx="521.3" cy="233.8" r="1.75"/><circle cx="508.3" cy="126.5" r="1.75"/><circle cx="504.8" cy="62.9" r="1.75"/><circle cx="534.5" cy="116.4" r="1.75"/><circle cx="445.3" cy="150.3" r="1.75"/><circle cx="525.1" cy="152.3" r="1.75"/><circle cx="639.0" cy="122.6" r="1.75"/><circle cx="486.4" cy="109.7" r="1.75"/><circle cx="541.8" cy="118.2" r="1.75"/><circle cx="524.2" cy="175.0" r="1.75"/><circle cx="498.3" cy="128.6" r="1.75"/><circle cx="488.1" cy="23.5" r="1.75"/><circle cx="623.1" cy="79.1" r="1.75"/><circle cx="553.5" cy="208.7" r="1.75"/><circle cx="445.0" cy="101.5" r="1.75"/><circle cx="520.0" cy="35.4" r="1.75"/><circle cx="469.9" cy="49.0" r="1.75"/><circle cx="550.4" cy="216.8" r="1.75"/><circle cx="630.1" cy="86.0" r="1.75"/><circle cx="438.2" cy="129.1" r="1.75"/><circle cx="481.5" cy="78.1" r="1.75"/><circle cx="568.1" cy="166.7" r="1.75"/><circle cx="583.7" cy="164.3" r="1.75"/><circle cx="588.9" cy="22.4" r="1.75"/><circle cx="588.9" cy="49.5" r="1.75"/><circle cx="471.5" cy="107.7" r="1.75"/><circle cx="569.2" cy="111.1" r="1.75"/><circle cx="604.4" cy="162.8" r="1.75"/><circle cx="620.1" cy="171.5" r="1.75"/><circle cx="570.1" cy="222.1" r="1.75"/><circle cx="581.2" cy="208.1" r="1.75"/><circle cx="523.7" cy="150.3" r="1.75"/><circle cx="600.6" cy="177.1" r="1.75"/><circle cx="498.8" cy="117.0" r="1.75"/><circle cx="508.4" cy="206.1" r="1.75"/><circle cx="490.4" cy="70.2" r="1.75"/><circle cx="513.3" cy="41.9" r="1.75"/><circle cx="574.0" cy="76.6" r="1.75"/><circle cx="468.1" cy="170.8" r="1.75"/><circle cx="619.0" cy="141.0" r="1.75"/><circle cx="458.8" cy="162.3" r="1.75"/><circle cx="485.6" cy="84.0" r="1.75"/><circle cx="630.2" cy="133.8" r="1.75"/><circle cx="564.4" cy="139.7" r="1.75"/><circle cx="574.1" cy="122.4" r="1.75"/><circle cx="452.4" cy="81.1" r="1.75"/><circle cx="504.4" cy="208.2" r="1.75"/><circle cx="549.1" cy="27.4" r="1.75"/><circle cx="570.5" cy="73.5" r="1.75"/><circle cx="525.8" cy="16.4" r="1.75"/><circle cx="463.7" cy="151.3" r="1.75"/><circle cx="559.9" cy="102.4" r="1.75"/><circle cx="551.3" cy="235.6" r="1.75"/><circle cx="533.6" cy="99.2" r="1.75"/><circle cx="473.5" cy="68.6" r="1.75"/><circle cx="433.2" cy="137.7" r="1.75"/><circle cx="582.0" cy="158.6" r="1.75"/><circle cx="490.9" cy="217.8" r="1.75"/><circle cx="569.2" cy="198.9" r="1.75"/><circle cx="516.9" cy="156.5" r="1.75"/><circle cx="537.7" cy="25.7" r="1.75"/><circle cx="471.6" cy="38.2" r="1.75"/><circle cx="515.7" cy="95.1" r="1.75"/><circle cx="581.2" cy="139.6" r="1.75"/><circle cx="550.0" cy="167.7" r="1.75"/><circle cx="518.2" cy="193.2" r="1.75"/><circle cx="556.0" cy="16.0" r="1.75"/><circle cx="505.7" cy="19.6" r="1.75"/><circle cx="464.1" cy="212.8" r="1.75"/><circle cx="500.9" cy="198.2" r="1.75"/><circle cx="557.1" cy="51.1" r="1.75"/><circle cx="560.0" cy="123.2" r="1.75"/><circle cx="544.4" cy="157.1" r="1.75"/><circle cx="474.8" cy="77.6" r="1.75"/><circle cx="420.5" cy="87.2" r="1.75"/><circle cx="577.6" cy="200.4" r="1.75"/><circle cx="618.6" cy="172.3" r="1.75"/><circle cx="426.3" cy="113.8" r="1.75"/><circle cx="541.3" cy="15.1" r="1.75"/><circle cx="574.1" cy="101.3" r="1.75"/><circle cx="571.7" cy="108.7" r="1.75"/><circle cx="505.1" cy="37.4" r="1.75"/><circle cx="515.1" cy="203.8" r="1.75"/><circle cx="628.1" cy="167.2" r="1.75"/><circle cx="550.0" cy="149.2" r="1.75"/><circle cx="496.0" cy="60.7" r="1.75"/><circle cx="498.1" cy="190.4" r="1.75"/><circle cx="448.0" cy="201.2" r="1.75"/><circle cx="635.2" cy="161.5" r="1.75"/><circle cx="508.7" cy="203.8" r="1.75"/><circle cx="411.9" cy="129.5" r="1.75"/><circle cx="506.0" cy="133.4" r="1.75"/><circle cx="432.1" cy="182.7" r="1.75"/><circle cx="575.6" cy="182.5" r="1.75"/><circle cx="524.4" cy="51.5" r="1.75"/><circle cx="496.9" cy="221.0" r="1.75"/><circle cx="410.0" cy="118.9" r="1.75"/><circle cx="537.2" cy="24.3" r="1.75"/><circle cx="452.8" cy="165.5" r="1.75"/><circle cx="486.3" cy="54.8" r="1.75"/><circle cx="487.7" cy="145.0" r="1.75"/><circle cx="435.2" cy="141.7" r="1.75"/><circle cx="580.0" cy="122.0" r="1.75"/><circle cx="515.7" cy="236.5" r="1.75"/><circle cx="606.6" cy="177.9" r="1.75"/><circle cx="506.4" cy="168.2" r="1.75"/><circle cx="553.3" cy="144.7" r="1.75"/><circle cx="553.6" cy="61.3" r="1.75"/><circle cx="584.9" cy="44.7" r="1.75"/><circle cx="640.6" cy="106.8" r="1.75"/><circle cx="533.6" cy="110.7" r="1.75"/><circle cx="511.5" cy="173.7" r="1.75"/><circle cx="448.6" cy="108.5" r="1.75"/><circle cx="517.2" cy="123.1" r="1.75"/><circle cx="434.6" cy="99.3" r="1.75"/><circle cx="490.5" cy="206.5" r="1.75"/><circle cx="536.5" cy="166.7" r="1.75"/><circle cx="572.8" cy="135.7" r="1.75"/><circle cx="553.1" cy="233.9" r="1.75"/><circle cx="505.6" cy="58.1" r="1.75"/><circle cx="491.9" cy="29.7" r="1.75"/><circle cx="602.5" cy="64.3" r="1.75"/><circle cx="561.8" cy="79.3" r="1.75"/><circle cx="514.8" cy="222.8" r="1.75"/><circle cx="585.3" cy="59.6" r="1.75"/><circle cx="591.3" cy="204.6" r="1.75"/><circle cx="462.2" cy="156.7" r="1.75"/><circle cx="501.5" cy="171.3" r="1.75"/><circle cx="513.9" cy="181.2" r="1.75"/><circle cx="540.2" cy="77.4" r="1.75"/><circle cx="552.8" cy="67.3" r="1.75"/><circle cx="622.4" cy="90.8" r="1.75"/><circle cx="561.8" cy="133.9" r="1.75"/><circle cx="493.1" cy="151.6" r="1.75"/><circle cx="531.0" cy="225.9" r="1.75"/><circle cx="449.5" cy="141.6" r="1.75"/><circle cx="555.2" cy="13.7" r="1.75"/><circle cx="507.3" cy="6.5" r="1.75"/><circle cx="564.8" cy="109.5" r="1.75"/><circle cx="621.9" cy="92.4" r="1.75"/><circle cx="556.7" cy="154.0" r="1.75"/><circle cx="572.0" cy="61.9" r="1.75"/><circle cx="621.5" cy="52.2" r="1.75"/><circle cx="589.7" cy="83.0" r="1.75"/><circle cx="466.8" cy="218.9" r="1.75"/><circle cx="488.7" cy="217.7" r="1.75"/><circle cx="614.6" cy="57.6" r="1.75"/><circle cx="591.6" cy="204.2" r="1.75"/><circle cx="458.3" cy="61.9" r="1.75"/><circle cx="510.8" cy="125.2" r="1.75"/><circle cx="436.6" cy="68.4" r="1.75"/><circle cx="636.5" cy="93.6" r="1.75"/><circle cx="601.8" cy="160.7" r="1.75"/><circle cx="506.4" cy="76.2" r="1.75"/><circle cx="604.0" cy="121.9" r="1.75"/><circle cx="567.1" cy="169.8" r="1.75"/><circle cx="466.9" cy="58.1" r="1.75"/><circle cx="604.4" cy="108.9" r="1.75"/><circle cx="448.7" cy="162.5" r="1.75"/><circle cx="448.2" cy="190.1" r="1.75"/><circle cx="418.2" cy="140.6" r="1.75"/><circle cx="559.0" cy="218.8" r="1.75"/><circle cx="459.5" cy="137.8" r="1.75"/><circle cx="495.7" cy="45.9" r="1.75"/><circle cx="565.6" cy="188.3" r="1.75"/><circle cx="452.0" cy="126.9" r="1.75"/><circle cx="592.4" cy="74.0" r="1.75"/><circle cx="561.3" cy="208.5" r="1.75"/><circle cx="564.2" cy="106.5" r="1.75"/><circle cx="487.5" cy="46.0" r="1.75"/><circle cx="470.2" cy="220.3" r="1.75"/><circle cx="501.6" cy="191.1" r="1.75"/><circle cx="521.7" cy="200.6" r="1.75"/><circle cx="526.0" cy="76.0" r="1.75"/><circle cx="524.9" cy="116.8" r="1.75"/><circle cx="632.0" cy="87.0" r="1.75"/><circle cx="567.6" cy="50.9" r="1.75"/><circle cx="596.3" cy="181.6" r="1.75"/><circle cx="468.5" cy="134.3" r="1.75"/><circle cx="608.3" cy="146.6" r="1.75"/><circle cx="605.1" cy="150.8" r="1.75"/><circle cx="509.0" cy="122.0" r="1.75"/><circle cx="486.2" cy="111.9" r="1.75"/><circle cx="512.0" cy="204.3" r="1.75"/><circle cx="504.1" cy="47.3" r="1.75"/><circle cx="542.8" cy="55.8" r="1.75"/><circle cx="510.7" cy="26.0" r="1.75"/><circle cx="585.8" cy="78.2" r="1.75"/><circle cx="496.2" cy="43.0" r="1.75"/><circle cx="431.5" cy="183.3" r="1.75"/><circle cx="585.7" cy="190.6" r="1.75"/><circle cx="546.4" cy="159.9" r="1.75"/><circle cx="450.6" cy="184.1" r="1.75"/><circle cx="560.8" cy="91.6" r="1.75"/><circle cx="554.3" cy="186.9" r="1.75"/><circle cx="416.7" cy="142.8" r="1.75"/><circle cx="602.0" cy="59.3" r="1.75"/><circle cx="489.2" cy="161.5" r="1.75"/><circle cx="514.8" cy="170.6" r="1.75"/><circle cx="590.2" cy="128.6" r="1.75"/><circle cx="586.1" cy="141.4" r="1.75"/><circle cx="615.6" cy="92.6" r="1.75"/><circle cx="603.1" cy="196.0" r="1.75"/><circle cx="530.3" cy="94.6" r="1.75"/><circle cx="644.2" cy="156.2" r="1.75"/><circle cx="624.5" cy="94.0" r="1.75"/><circle cx="533.2" cy="25.6" r="1.75"/><circle cx="535.8" cy="125.5" r="1.75"/><circle cx="452.3" cy="210.5" r="1.75"/><circle cx="539.6" cy="175.0" r="1.75"/><circle cx="565.0" cy="166.2" r="1.75"/><circle cx="471.9" cy="18.6" r="1.75"/><circle cx="565.4" cy="133.2" r="1.75"/><circle cx="501.6" cy="63.1" r="1.75"/><circle cx="510.5" cy="121.5" r="1.75"/><circle cx="576.0" cy="171.7" r="1.75"/><circle cx="532.1" cy="189.7" r="1.75"/><circle cx="583.2" cy="43.6" r="1.75"/><circle cx="474.5" cy="156.1" r="1.75"/><circle cx="504.1" cy="174.3" r="1.75"/><circle cx="441.5" cy="170.4" r="1.75"/><circle cx="450.5" cy="87.7" r="1.75"/><circle cx="626.6" cy="189.3" r="1.75"/><circle cx="543.8" cy="151.4" r="1.75"/><circle cx="610.9" cy="138.4" r="1.75"/><circle cx="468.9" cy="192.0" r="1.75"/><circle cx="441.5" cy="148.3" r="1.75"/><circle cx="479.5" cy="76.2" r="1.75"/><circle cx="555.2" cy="190.6" r="1.75"/><circle cx="538.6" cy="134.2" r="1.75"/><circle cx="537.4" cy="68.8" r="1.75"/><circle cx="491.8" cy="153.4" r="1.75"/><circle cx="466.4" cy="103.0" r="1.75"/><circle cx="508.3" cy="184.1" r="1.75"/><circle cx="432.7" cy="163.0" r="1.75"/><circle cx="448.4" cy="82.8" r="1.75"/><circle cx="618.1" cy="75.8" r="1.75"/><circle cx="591.1" cy="66.9" r="1.75"/><circle cx="447.3" cy="101.9" r="1.75"/><circle cx="574.3" cy="147.3" r="1.75"/><circle cx="438.5" cy="82.5" r="1.75"/><circle cx="501.5" cy="100.5" r="1.75"/><circle cx="487.0" cy="63.4" r="1.75"/><circle cx="476.1" cy="83.5" r="1.75"/><circle cx="474.8" cy="179.8" r="1.75"/><circle cx="486.8" cy="105.2" r="1.75"/><circle cx="612.9" cy="88.9" r="1.75"/><circle cx="522.4" cy="205.1" r="1.75"/><circle cx="472.9" cy="43.8" r="1.75"/><circle cx="484.3" cy="58.0" r="1.75"/><circle cx="551.7" cy="109.5" r="1.75"/><circle cx="578.0" cy="173.6" r="1.75"/><circle cx="516.9" cy="97.9" r="1.75"/><circle cx="429.8" cy="160.5" r="1.75"/><circle cx="423.4" cy="78.0" r="1.75"/><circle cx="540.3" cy="150.0" r="1.75"/><circle cx="619.3" cy="97.9" r="1.75"/><circle cx="595.1" cy="207.9" r="1.75"/><circle cx="449.3" cy="50.6" r="1.75"/><circle cx="452.6" cy="139.0" r="1.75"/><circle cx="605.6" cy="201.0" r="1.75"/><circle cx="542.9" cy="71.3" r="1.75"/><circle cx="604.0" cy="209.5" r="1.75"/><circle cx="501.7" cy="163.5" r="1.75"/><circle cx="549.1" cy="194.6" r="1.75"/><circle cx="592.7" cy="121.2" r="1.75"/><circle cx="578.0" cy="205.4" r="1.75"/><circle cx="563.2" cy="204.3" r="1.75"/><circle cx="557.8" cy="67.5" r="1.75"/><circle cx="496.2" cy="22.5" r="1.75"/><circle cx="481.4" cy="104.8" r="1.75"/><circle cx="488.7" cy="35.0" r="1.75"/><circle cx="549.2" cy="75.4" r="1.75"/><circle cx="627.9" cy="143.1" r="1.75"/><circle cx="492.5" cy="131.0" r="1.75"/><circle cx="491.5" cy="110.0" r="1.75"/><circle cx="519.5" cy="71.6" r="1.75"/><circle cx="501.9" cy="73.7" r="1.75"/><circle cx="533.0" cy="102.9" r="1.75"/><circle cx="606.3" cy="160.8" r="1.75"/><circle cx="604.6" cy="105.3" r="1.75"/><circle cx="613.7" cy="162.4" r="1.75"/><circle cx="530.8" cy="189.8" r="1.75"/><circle cx="436.5" cy="73.1" r="1.75"/><circle cx="477.7" cy="107.9" r="1.75"/><circle cx="534.2" cy="146.3" r="1.75"/><circle cx="492.7" cy="233.6" r="1.75"/><circle cx="564.1" cy="163.9" r="1.75"/><circle cx="425.3" cy="110.3" r="1.75"/><circle cx="480.2" cy="50.3" r="1.75"/><circle cx="519.2" cy="78.5" r="1.75"/><circle cx="526.6" cy="169.1" r="1.75"/><circle cx="630.7" cy="103.0" r="1.75"/><circle cx="577.5" cy="23.9" r="1.75"/><circle cx="488.9" cy="113.0" r="1.75"/><circle cx="524.3" cy="91.8" r="1.75"/><circle cx="475.5" cy="176.3" r="1.75"/><circle cx="524.7" cy="48.6" r="1.75"/><circle cx="618.2" cy="143.1" r="1.75"/><circle cx="597.1" cy="225.1" r="1.75"/><circle cx="557.8" cy="66.8" r="1.75"/><circle cx="528.7" cy="149.9" r="1.75"/><circle cx="466.0" cy="151.2" r="1.75"/><circle cx="485.0" cy="125.6" r="1.75"/><circle cx="608.0" cy="87.1" r="1.75"/><circle cx="581.2" cy="45.1" r="1.75"/><circle cx="468.4" cy="168.9" r="1.75"/><circle cx="455.7" cy="142.9" r="1.75"/><circle cx="549.3" cy="100.7" r="1.75"/><circle cx="521.9" cy="216.7" r="1.75"/><circle cx="528.6" cy="89.8" r="1.75"/><circle cx="479.3" cy="89.1" r="1.75"/><circle cx="451.7" cy="118.0" r="1.75"/><circle cx="619.9" cy="136.8" r="1.75"/><circle cx="488.0" cy="64.8" r="1.75"/><circle cx="525.3" cy="47.2" r="1.75"/><circle cx="579.4" cy="107.3" r="1.75"/><circle cx="522.7" cy="125.5" r="1.75"/><circle cx="512.0" cy="119.8" r="1.75"/><circle cx="609.6" cy="62.6" r="1.75"/><circle cx="492.0" cy="194.1" r="1.75"/><circle cx="545.9" cy="90.5" r="1.75"/><circle cx="609.7" cy="61.8" r="1.75"/><circle cx="581.2" cy="97.7" r="1.75"/><circle cx="556.2" cy="53.8" r="1.75"/><circle cx="540.9" cy="237.4" r="1.75"/><circle cx="426.0" cy="134.0" r="1.75"/><circle cx="419.3" cy="159.2" r="1.75"/><circle cx="542.5" cy="31.6" r="1.75"/><circle cx="496.1" cy="162.2" r="1.75"/><circle cx="474.8" cy="42.7" r="1.75"/><circle cx="540.8" cy="109.3" r="1.75"/><circle cx="529.4" cy="134.1" r="1.75"/><circle cx="616.2" cy="145.2" r="1.75"/><circle cx="423.9" cy="134.2" r="1.75"/><circle cx="568.9" cy="174.2" r="1.75"/><circle cx="552.6" cy="83.0" r="1.75"/><circle cx="572.2" cy="20.0" r="1.75"/><circle cx="537.2" cy="116.5" r="1.75"/><circle cx="605.2" cy="154.8" r="1.75"/><circle cx="484.4" cy="128.6" r="1.75"/><circle cx="547.0" cy="118.9" r="1.75"/><circle cx="410.4" cy="143.3" r="1.75"/><circle cx="545.0" cy="164.5" r="1.75"/><circle cx="620.3" cy="64.1" r="1.75"/><circle cx="494.3" cy="86.3" r="1.75"/><circle cx="472.7" cy="89.7" r="1.75"/><circle cx="489.7" cy="173.2" r="1.75"/><circle cx="623.7" cy="59.6" r="1.75"/><circle cx="568.0" cy="174.9" r="1.75"/><circle cx="530.1" cy="78.6" r="1.75"/><circle cx="458.0" cy="157.5" r="1.75"/><circle cx="428.7" cy="96.8" r="1.75"/><circle cx="427.6" cy="147.6" r="1.75"/><circle cx="475.5" cy="179.9" r="1.75"/><circle cx="565.5" cy="49.9" r="1.75"/><circle cx="537.6" cy="54.5" r="1.75"/><circle cx="547.8" cy="233.2" r="1.75"/><circle cx="432.6" cy="93.5" r="1.75"/><circle cx="630.5" cy="93.0" r="1.75"/><circle cx="477.1" cy="63.1" r="1.75"/><circle cx="491.9" cy="63.3" r="1.75"/><circle cx="446.9" cy="141.4" r="1.75"/><circle cx="445.2" cy="132.3" r="1.75"/><circle cx="496.8" cy="81.5" r="1.75"/><circle cx="465.1" cy="134.3" r="1.75"/><circle cx="488.5" cy="229.3" r="1.75"/><circle cx="487.6" cy="171.5" r="1.75"/><circle cx="584.9" cy="39.8" r="1.75"/><circle cx="587.6" cy="97.3" r="1.75"/><circle cx="465.0" cy="61.1" r="1.75"/><circle cx="496.3" cy="29.3" r="1.75"/><circle cx="595.8" cy="67.3" r="1.75"/><circle cx="611.6" cy="151.4" r="1.75"/><circle cx="621.8" cy="137.0" r="1.75"/><circle cx="440.2" cy="82.5" r="1.75"/><circle cx="596.3" cy="138.5" r="1.75"/><circle cx="622.3" cy="147.9" r="1.75"/><circle cx="442.4" cy="117.1" r="1.75"/><circle cx="550.6" cy="114.5" r="1.75"/><circle cx="542.3" cy="154.7" r="1.75"/><circle cx="470.5" cy="145.3" r="1.75"/><circle cx="628.0" cy="54.5" r="1.75"/><circle cx="447.1" cy="124.0" r="1.75"/><circle cx="519.1" cy="170.3" r="1.75"/><circle cx="541.3" cy="223.9" r="1.75"/><circle cx="547.5" cy="242.4" r="1.75"/><circle cx="480.6" cy="111.8" r="1.75"/><circle cx="608.0" cy="111.7" r="1.75"/><circle cx="578.8" cy="56.8" r="1.75"/><circle cx="459.7" cy="74.7" r="1.75"/><circle cx="481.8" cy="149.1" r="1.75"/><circle cx="434.6" cy="106.0" r="1.75"/><circle cx="565.7" cy="181.5" r="1.75"/><circle cx="530.2" cy="62.8" r="1.75"/><circle cx="584.7" cy="114.2" r="1.75"/><circle cx="479.8" cy="41.8" r="1.75"/><circle cx="438.2" cy="74.7" r="1.75"/><circle cx="480.7" cy="234.6" r="1.75"/><circle cx="536.7" cy="133.8" r="1.75"/><circle cx="541.2" cy="195.2" r="1.75"/><circle cx="541.3" cy="110.0" r="1.75"/><circle cx="539.2" cy="154.9" r="1.75"/><circle cx="627.2" cy="162.7" r="1.75"/><circle cx="570.2" cy="68.2" r="1.75"/><circle cx="425.3" cy="67.9" r="1.75"/><circle cx="574.8" cy="170.7" r="1.75"/><circle cx="501.4" cy="115.7" r="1.75"/><circle cx="486.2" cy="142.3" r="1.75"/><circle cx="616.4" cy="119.7" r="1.75"/><circle cx="549.4" cy="76.7" r="1.75"/><circle cx="576.8" cy="178.5" r="1.75"/><circle cx="605.6" cy="82.8" r="1.75"/><circle cx="471.2" cy="51.7" r="1.75"/><circle cx="435.1" cy="60.8" r="1.75"/><circle cx="572.1" cy="63.9" r="1.75"/><circle cx="510.9" cy="51.5" r="1.75"/><circle cx="462.1" cy="138.4" r="1.75"/><circle cx="525.6" cy="214.1" r="1.75"/><circle cx="536.6" cy="109.5" r="1.75"/><circle cx="491.0" cy="169.9" r="1.75"/><circle cx="612.5" cy="50.1" r="1.75"/><circle cx="541.8" cy="196.1" r="1.75"/><circle cx="496.4" cy="118.4" r="1.75"/><circle cx="442.5" cy="135.1" r="1.75"/><circle cx="586.9" cy="57.2" r="1.75"/><circle cx="480.7" cy="97.1" r="1.75"/><circle cx="478.0" cy="211.8" r="1.75"/><circle cx="636.0" cy="97.6" r="1.75"/><circle cx="560.7" cy="221.9" r="1.75"/><circle cx="586.7" cy="122.9" r="1.75"/><circle cx="529.5" cy="61.6" r="1.75"/><circle cx="424.2" cy="90.5" r="1.75"/><circle cx="527.4" cy="53.9" r="1.75"/><circle cx="523.5" cy="109.1" r="1.75"/><circle cx="459.4" cy="71.6" r="1.75"/><circle cx="614.0" cy="121.7" r="1.75"/><circle cx="624.1" cy="123.2" r="1.75"/><circle cx="537.6" cy="124.6" r="1.75"/><circle cx="464.6" cy="89.8" r="1.75"/><circle cx="465.4" cy="69.0" r="1.75"/><circle cx="503.6" cy="93.2" r="1.75"/><circle cx="483.2" cy="101.7" r="1.75"/><circle cx="625.8" cy="93.6" r="1.75"/><circle cx="463.2" cy="112.7" r="1.75"/><circle cx="449.7" cy="131.1" r="1.75"/><circle cx="447.9" cy="116.6" r="1.75"/><circle cx="443.0" cy="122.1" r="1.75"/><circle cx="565.1" cy="211.8" r="1.75"/><circle cx="490.1" cy="121.1" r="1.75"/><circle cx="612.6" cy="169.1" r="1.75"/><circle cx="476.7" cy="101.3" r="1.75"/><circle cx="602.1" cy="100.7" r="1.75"/><circle cx="504.7" cy="201.4" r="1.75"/><circle cx="477.1" cy="32.4" r="1.75"/><circle cx="522.6" cy="162.5" r="1.75"/><circle cx="463.3" cy="139.9" r="1.75"/><circle cx="513.2" cy="143.1" r="1.75"/><circle cx="511.0" cy="91.9" r="1.75"/><circle cx="436.3" cy="80.3" r="1.75"/><circle cx="616.0" cy="202.4" r="1.75"/><circle cx="507.8" cy="205.5" r="1.75"/><circle cx="512.8" cy="89.0" r="1.75"/><circle cx="445.3" cy="162.5" r="1.75"/><circle cx="565.8" cy="203.1" r="1.75"/><circle cx="614.3" cy="73.9" r="1.75"/><circle cx="437.9" cy="64.8" r="1.75"/><circle cx="454.8" cy="195.3" r="1.75"/><circle cx="645.5" cy="96.1" r="1.75"/><circle cx="605.2" cy="72.4" r="1.75"/><circle cx="553.9" cy="169.4" r="1.75"/><circle cx="537.9" cy="148.2" r="1.75"/><circle cx="423.5" cy="87.8" r="1.75"/><circle cx="468.7" cy="46.2" r="1.75"/><circle cx="508.0" cy="68.1" r="1.75"/><circle cx="525.1" cy="60.5" r="1.75"/><circle cx="603.8" cy="68.2" r="1.75"/><circle cx="544.7" cy="116.1" r="1.75"/><circle cx="456.2" cy="105.6" r="1.75"/><circle cx="493.0" cy="79.6" r="1.75"/><circle cx="550.4" cy="141.7" r="1.75"/><circle cx="564.5" cy="95.0" r="1.75"/><circle cx="505.0" cy="22.3" r="1.75"/><circle cx="476.7" cy="35.6" r="1.75"/><circle cx="487.3" cy="47.4" r="1.75"/><circle cx="479.7" cy="211.8" r="1.75"/><circle cx="534.4" cy="73.2" r="1.75"/><circle cx="556.5" cy="151.1" r="1.75"/><circle cx="539.5" cy="113.5" r="1.75"/><circle cx="424.7" cy="114.4" r="1.75"/><circle cx="560.8" cy="104.5" r="1.75"/><circle cx="581.9" cy="107.5" r="1.75"/><circle cx="443.2" cy="79.4" r="1.75"/><circle cx="470.9" cy="134.3" r="1.75"/><circle cx="542.7" cy="160.1" r="1.75"/><circle cx="472.1" cy="182.2" r="1.75"/><circle cx="621.9" cy="60.6" r="1.75"/><circle cx="576.9" cy="212.3" r="1.75"/><circle cx="478.3" cy="132.1" r="1.75"/><circle cx="573.0" cy="58.0" r="1.75"/><circle cx="582.0" cy="45.2" r="1.75"/><circle cx="490.0" cy="229.4" r="1.75"/><circle cx="558.4" cy="229.6" r="1.75"/><circle cx="638.9" cy="73.8" r="1.75"/><circle cx="433.0" cy="171.4" r="1.75"/><circle cx="611.4" cy="132.5" r="1.75"/><circle cx="494.0" cy="145.8" r="1.75"/><circle cx="499.9" cy="122.2" r="1.75"/><circle cx="634.7" cy="88.0" r="1.75"/><circle cx="613.5" cy="111.6" r="1.75"/><circle cx="594.1" cy="92.3" r="1.75"/><circle cx="541.7" cy="176.6" r="1.75"/><circle cx="549.6" cy="233.7" r="1.75"/><circle cx="500.4" cy="158.7" r="1.75"/><circle cx="580.6" cy="132.1" r="1.75"/><circle cx="609.5" cy="141.0" r="1.75"/><circle cx="598.6" cy="211.6" r="1.75"/><circle cx="489.2" cy="215.5" r="1.75"/><circle cx="589.5" cy="62.5" r="1.75"/><circle cx="497.4" cy="120.1" r="1.75"/><circle cx="492.1" cy="120.6" r="1.75"/><circle cx="622.7" cy="79.2" r="1.75"/><circle cx="602.6" cy="218.9" r="1.75"/><circle cx="466.9" cy="157.0" r="1.75"/><circle cx="555.0" cy="175.4" r="1.75"/><circle cx="617.1" cy="74.1" r="1.75"/><circle cx="464.9" cy="60.3" r="1.75"/><circle cx="515.9" cy="206.9" r="1.75"/><circle cx="475.4" cy="89.2" r="1.75"/><circle cx="550.2" cy="192.3" r="1.75"/><circle cx="482.4" cy="32.0" r="1.75"/><circle cx="575.7" cy="70.1" r="1.75"/><circle cx="474.7" cy="53.1" r="1.75"/><circle cx="449.6" cy="87.9" r="1.75"/><circle cx="458.4" cy="109.4" r="1.75"/><circle cx="620.7" cy="101.3" r="1.75"/><circle cx="473.7" cy="167.2" r="1.75"/><circle cx="547.2" cy="182.3" r="1.75"/><circle cx="535.2" cy="152.5" r="1.75"/><circle cx="421.5" cy="115.7" r="1.75"/><circle cx="455.5" cy="95.5" r="1.75"/><circle cx="495.8" cy="175.6" r="1.75"/><circle cx="506.9" cy="36.7" r="1.75"/><circle cx="596.0" cy="107.2" r="1.75"/><circle cx="472.5" cy="108.5" r="1.75"/><circle cx="448.5" cy="106.8" r="1.75"/><circle cx="536.9" cy="97.8" r="1.75"/><circle cx="490.0" cy="235.8" r="1.75"/><circle cx="608.1" cy="67.8" r="1.75"/><circle cx="512.4" cy="130.8" r="1.75"/><circle cx="560.7" cy="19.1" r="1.75"/><circle cx="495.1" cy="61.0" r="1.75"/><circle cx="493.3" cy="9.1" r="1.75"/><circle cx="442.5" cy="136.4" r="1.75"/><circle cx="607.4" cy="62.0" r="1.75"/><circle cx="610.9" cy="77.4" r="1.75"/><circle cx="483.9" cy="85.3" r="1.75"/><circle cx="584.8" cy="36.6" r="1.75"/><circle cx="590.1" cy="191.4" r="1.75"/><circle cx="515.4" cy="230.2" r="1.75"/><circle cx="558.3" cy="226.2" r="1.75"/><circle cx="588.5" cy="147.0" r="1.75"/><circle cx="590.7" cy="104.4" r="1.75"/><circle cx="565.2" cy="149.8" r="1.75"/><circle cx="488.1" cy="59.9" r="1.75"/><circle cx="566.1" cy="180.3" r="1.75"/><circle cx="492.6" cy="84.5" r="1.75"/><circle cx="508.7" cy="69.9" r="1.75"/><circle cx="595.3" cy="83.5" r="1.75"/><circle cx="498.2" cy="157.9" r="1.75"/><circle cx="631.3" cy="114.2" r="1.75"/><circle cx="548.6" cy="93.4" r="1.75"/><circle cx="556.9" cy="154.4" r="1.75"/><circle cx="513.7" cy="203.6" r="1.75"/><circle cx="617.5" cy="110.0" r="1.75"/><circle cx="434.2" cy="181.9" r="1.75"/><circle cx="450.1" cy="206.6" r="1.75"/><circle cx="461.8" cy="193.1" r="1.75"/><circle cx="617.5" cy="119.5" r="1.75"/><circle cx="480.3" cy="228.2" r="1.75"/><circle cx="517.4" cy="156.9" r="1.75"/><circle cx="571.7" cy="172.3" r="1.75"/><circle cx="554.5" cy="140.0" r="1.75"/><circle cx="449.0" cy="172.0" r="1.75"/><circle cx="445.6" cy="190.4" r="1.75"/><circle cx="422.4" cy="107.7" r="1.75"/><circle cx="477.2" cy="234.4" r="1.75"/><circle cx="473.3" cy="85.9" r="1.75"/><circle cx="459.2" cy="66.3" r="1.75"/><circle cx="500.1" cy="178.8" r="1.75"/><circle cx="491.1" cy="41.3" r="1.75"/><circle cx="628.0" cy="113.6" r="1.75"/><circle cx="577.5" cy="198.8" r="1.75"/><circle cx="486.6" cy="164.0" r="1.75"/><circle cx="494.3" cy="166.0" r="1.75"/><circle cx="491.1" cy="43.8" r="1.75"/><circle cx="571.8" cy="220.7" r="1.75"/><circle cx="492.2" cy="43.7" r="1.75"/><circle cx="596.8" cy="30.5" r="1.75"/><circle cx="534.9" cy="221.8" r="1.75"/><circle cx="422.6" cy="113.0" r="1.75"/><circle cx="540.5" cy="165.2" r="1.75"/><circle cx="547.5" cy="77.5" r="1.75"/><circle cx="448.9" cy="158.8" r="1.75"/><circle cx="478.2" cy="84.1" r="1.75"/><circle cx="540.7" cy="233.5" r="1.75"/><circle cx="514.6" cy="41.3" r="1.75"/><circle cx="626.7" cy="189.9" r="1.75"/><circle cx="503.2" cy="144.9" r="1.75"/><circle cx="467.2" cy="104.9" r="1.75"/><circle cx="605.4" cy="167.3" r="1.75"/><circle cx="507.9" cy="67.1" r="1.75"/><circle cx="527.0" cy="19.6" r="1.75"/><circle cx="583.8" cy="152.0" r="1.75"/><circle cx="599.2" cy="157.3" r="1.75"/><circle cx="527.6" cy="175.6" r="1.75"/><circle cx="540.5" cy="182.5" r="1.75"/><circle cx="559.4" cy="108.5" r="1.75"/><circle cx="500.4" cy="104.9" r="1.75"/><circle cx="629.9" cy="148.9" r="1.75"/><circle cx="569.8" cy="82.8" r="1.75"/><circle cx="432.1" cy="140.1" r="1.75"/><circle cx="565.5" cy="140.8" r="1.75"/><circle cx="587.9" cy="35.1" r="1.75"/><circle cx="560.2" cy="170.5" r="1.75"/><circle cx="520.3" cy="218.4" r="1.75"/><circle cx="542.2" cy="222.2" r="1.75"/><circle cx="507.4" cy="132.5" r="1.75"/><circle cx="545.7" cy="216.3" r="1.75"/><circle cx="433.0" cy="85.3" r="1.75"/><circle cx="560.9" cy="33.3" r="1.75"/><circle cx="608.9" cy="120.5" r="1.75"/><circle cx="565.0" cy="212.4" r="1.75"/><circle cx="580.0" cy="64.5" r="1.75"/><circle cx="489.1" cy="74.0" r="1.75"/><circle cx="465.3" cy="106.1" r="1.75"/><circle cx="557.8" cy="212.5" r="1.75"/><circle cx="569.4" cy="44.6" r="1.75"/><circle cx="553.3" cy="35.7" r="1.75"/><circle cx="536.1" cy="121.0" r="1.75"/><circle cx="629.3" cy="127.9" r="1.75"/><circle cx="426.4" cy="168.3" r="1.75"/><circle cx="538.9" cy="154.8" r="1.75"/><circle cx="477.5" cy="190.7" r="1.75"/><circle cx="502.7" cy="195.4" r="1.75"/><circle cx="564.5" cy="161.8" r="1.75"/><circle cx="608.8" cy="45.0" r="1.75"/><circle cx="533.2" cy="29.6" r="1.75"/><circle cx="494.3" cy="23.4" r="1.75"/><circle cx="518.1" cy="41.5" r="1.75"/><circle cx="507.8" cy="24.9" r="1.75"/><circle cx="488.7" cy="43.7" r="1.75"/><circle cx="572.5" cy="41.1" r="1.75"/><circle cx="451.6" cy="74.6" r="1.75"/><circle cx="553.7" cy="217.1" r="1.75"/><circle cx="522.8" cy="194.2" r="1.75"/><circle cx="562.9" cy="198.4" r="1.75"/><circle cx="590.5" cy="130.0" r="1.75"/><circle cx="571.9" cy="86.7" r="1.75"/><circle cx="489.1" cy="158.8" r="1.75"/><circle cx="466.3" cy="82.9" r="1.75"/><circle cx="611.3" cy="84.9" r="1.75"/><circle cx="576.4" cy="23.3" r="1.75"/><circle cx="511.9" cy="25.1" r="1.75"/><circle cx="580.2" cy="62.0" r="1.75"/><circle cx="578.3" cy="131.3" r="1.75"/><circle cx="458.7" cy="104.9" r="1.75"/><circle cx="623.9" cy="116.2" r="1.75"/><circle cx="626.9" cy="154.0" r="1.75"/><circle cx="485.9" cy="227.6" r="1.75"/><circle cx="462.1" cy="153.3" r="1.75"/><circle cx="608.2" cy="180.8" r="1.75"/><circle cx="499.2" cy="17.5" r="1.75"/><circle cx="613.9" cy="74.8" r="1.75"/><circle cx="592.1" cy="131.4" r="1.75"/><circle cx="562.3" cy="147.5" r="1.75"/><circle cx="583.7" cy="70.3" r="1.75"/><circle cx="424.0" cy="80.4" r="1.75"/><circle cx="614.8" cy="62.6" r="1.75"/><circle cx="527.3" cy="206.0" r="1.75"/><circle cx="429.4" cy="89.7" r="1.75"/><circle cx="629.9" cy="175.9" r="1.75"/><circle cx="569.0" cy="152.8" r="1.75"/><circle cx="465.7" cy="153.8" r="1.75"/><circle cx="628.3" cy="155.8" r="1.75"/><circle cx="464.2" cy="211.1" r="1.75"/><circle cx="489.9" cy="198.5" r="1.75"/><circle cx="535.3" cy="176.5" r="1.75"/><circle cx="586.2" cy="54.6" r="1.75"/><circle cx="570.9" cy="73.3" r="1.75"/><circle cx="451.2" cy="101.2" r="1.75"/><circle cx="477.6" cy="215.7" r="1.75"/><circle cx="562.8" cy="171.8" r="1.75"/><circle cx="592.8" cy="215.7" r="1.75"/><circle cx="496.7" cy="62.8" r="1.75"/><circle cx="628.5" cy="110.4" r="1.75"/><circle cx="533.4" cy="185.2" r="1.75"/><circle cx="614.2" cy="86.9" r="1.75"/><circle cx="638.5" cy="126.0" r="1.75"/><circle cx="536.1" cy="205.6" r="1.75"/><circle cx="514.4" cy="92.2" r="1.75"/><circle cx="611.6" cy="126.7" r="1.75"/><circle cx="498.1" cy="191.0" r="1.75"/><circle cx="522.1" cy="83.7" r="1.75"/><circle cx="481.3" cy="104.8" r="1.75"/><circle cx="536.1" cy="181.7" r="1.75"/><circle cx="549.2" cy="109.5" r="1.75"/><circle cx="489.1" cy="58.4" r="1.75"/><circle cx="424.1" cy="135.0" r="1.75"/><circle cx="644.9" cy="143.9" r="1.75"/><circle cx="549.0" cy="174.3" r="1.75"/><circle cx="506.3" cy="54.7" r="1.75"/><circle cx="608.7" cy="61.0" r="1.75"/><circle cx="441.9" cy="152.4" r="1.75"/><circle cx="536.4" cy="200.1" r="1.75"/><circle cx="513.3" cy="61.9" r="1.75"/><circle cx="637.5" cy="116.6" r="1.75"/><circle cx="501.4" cy="209.6" r="1.75"/><circle cx="544.1" cy="222.8" r="1.75"/><circle cx="590.2" cy="30.6" r="1.75"/><circle cx="429.4" cy="84.0" r="1.75"/><circle cx="443.4" cy="112.1" r="1.75"/><circle cx="573.5" cy="26.6" r="1.75"/><circle cx="557.5" cy="49.0" r="1.75"/><circle cx="493.2" cy="130.3" r="1.75"/><circle cx="474.3" cy="104.3" r="1.75"/><circle cx="546.6" cy="215.4" r="1.75"/><circle cx="448.0" cy="160.9" r="1.75"/><circle cx="523.0" cy="46.9" r="1.75"/><circle cx="445.9" cy="147.4" r="1.75"/><circle cx="637.5" cy="138.1" r="1.75"/><circle cx="530.1" cy="73.7" r="1.75"/><circle cx="485.5" cy="51.7" r="1.75"/><circle cx="547.9" cy="92.1" r="1.75"/><circle cx="549.7" cy="119.4" r="1.75"/><circle cx="547.6" cy="221.7" r="1.75"/><circle cx="580.4" cy="82.8" r="1.75"/><circle cx="439.4" cy="160.2" r="1.75"/><circle cx="487.2" cy="85.3" r="1.75"/><circle cx="431.8" cy="52.3" r="1.75"/><circle cx="498.3" cy="185.2" r="1.75"/><circle cx="555.5" cy="116.6" r="1.75"/><circle cx="547.1" cy="152.1" r="1.75"/><circle cx="608.5" cy="61.4" r="1.75"/><circle cx="566.2" cy="70.3" r="1.75"/><circle cx="449.8" cy="136.1" r="1.75"/><circle cx="600.7" cy="43.1" r="1.75"/><circle cx="476.7" cy="42.6" r="1.75"/><circle cx="586.6" cy="79.3" r="1.75"/><circle cx="552.5" cy="36.6" r="1.75"/><circle cx="478.7" cy="113.5" r="1.75"/><circle cx="527.5" cy="77.5" r="1.75"/><circle cx="458.6" cy="71.5" r="1.75"/><circle cx="436.8" cy="58.4" r="1.75"/><circle cx="550.5" cy="133.4" r="1.75"/><circle cx="573.1" cy="184.4" r="1.75"/><circle cx="466.5" cy="155.1" r="1.75"/><circle cx="540.1" cy="87.6" r="1.75"/><circle cx="565.1" cy="40.3" r="1.75"/><circle cx="590.9" cy="154.6" r="1.75"/><circle cx="551.3" cy="48.9" r="1.75"/><circle cx="519.5" cy="153.0" r="1.75"/><circle cx="499.5" cy="160.4" r="1.75"/><circle cx="629.3" cy="62.9" r="1.75"/><circle cx="506.4" cy="77.7" r="1.75"/><circle cx="498.6" cy="93.6" r="1.75"/><circle cx="545.6" cy="88.7" r="1.75"/><circle cx="468.2" cy="64.9" r="1.75"/><circle cx="629.4" cy="95.4" r="1.75"/><circle cx="509.2" cy="29.9" r="1.75"/><circle cx="470.2" cy="227.0" r="1.75"/><circle cx="512.0" cy="103.2" r="1.75"/><circle cx="637.6" cy="88.5" r="1.75"/><circle cx="434.9" cy="185.3" r="1.75"/><circle cx="646.6" cy="111.0" r="1.75"/><circle cx="568.7" cy="94.6" r="1.75"/><circle cx="518.5" cy="210.0" r="1.75"/><circle cx="583.6" cy="91.6" r="1.75"/><circle cx="597.6" cy="121.8" r="1.75"/><circle cx="571.5" cy="140.6" r="1.75"/><circle cx="529.5" cy="165.3" r="1.75"/><circle cx="494.0" cy="189.2" r="1.75"/><circle cx="610.6" cy="116.6" r="1.75"/><circle cx="506.2" cy="114.6" r="1.75"/><circle cx="616.1" cy="73.7" r="1.75"/><circle cx="577.2" cy="117.9" r="1.75"/><circle cx="575.5" cy="41.6" r="1.75"/><circle cx="641.2" cy="153.3" r="1.75"/><circle cx="587.8" cy="118.6" r="1.75"/><circle cx="444.3" cy="71.0" r="1.75"/><circle cx="535.0" cy="167.0" r="1.75"/><circle cx="569.0" cy="23.8" r="1.75"/><circle cx="618.1" cy="102.2" r="1.75"/><circle cx="552.2" cy="156.3" r="1.75"/><circle cx="538.9" cy="11.6" r="1.75"/><circle cx="585.5" cy="52.0" r="1.75"/><circle cx="459.2" cy="108.1" r="1.75"/><circle cx="491.1" cy="185.9" r="1.75"/><circle cx="536.1" cy="60.0" r="1.75"/><circle cx="448.2" cy="178.5" r="1.75"/><circle cx="474.1" cy="50.5" r="1.75"/><circle cx="554.2" cy="163.5" r="1.75"/><circle cx="483.3" cy="220.3" r="1.75"/><circle cx="592.9" cy="124.9" r="1.75"/><circle cx="631.0" cy="66.9" r="1.75"/><circle cx="566.3" cy="23.6" r="1.75"/><circle cx="581.7" cy="96.0" r="1.75"/><circle cx="526.8" cy="20.7" r="1.75"/><circle cx="453.3" cy="91.7" r="1.75"/><circle cx="533.8" cy="44.9" r="1.75"/><circle cx="601.8" cy="164.2" r="1.75"/><circle cx="469.8" cy="207.0" r="1.75"/><circle cx="451.3" cy="169.5" r="1.75"/><circle cx="546.8" cy="117.4" r="1.75"/><circle cx="586.1" cy="146.2" r="1.75"/><circle cx="506.2" cy="156.9" r="1.75"/><circle cx="547.4" cy="151.0" r="1.75"/><circle cx="644.4" cy="113.8" r="1.75"/><circle cx="447.0" cy="84.1" r="1.75"/><circle cx="464.8" cy="134.3" r="1.75"/><circle cx="444.8" cy="186.1" r="1.75"/><circle cx="613.8" cy="117.8" r="1.75"/><circle cx="583.5" cy="165.7" r="1.75"/><circle cx="468.5" cy="124.1" r="1.75"/><circle cx="576.9" cy="175.3" r="1.75"/><circle cx="483.0" cy="191.0" r="1.75"/><circle cx="539.3" cy="151.5" r="1.75"/><circle cx="505.4" cy="194.9" r="1.75"/><circle cx="625.2" cy="78.3" r="1.75"/><circle cx="465.3" cy="47.7" r="1.75"/><circle cx="456.5" cy="42.5" r="1.75"/><circle cx="508.3" cy="188.9" r="1.75"/><circle cx="539.9" cy="162.7" r="1.75"/><circle cx="483.7" cy="125.4" r="1.75"/><circle cx="424.2" cy="158.7" r="1.75"/><circle cx="559.8" cy="209.7" r="1.75"/><circle cx="437.1" cy="105.9" r="1.75"/><circle cx="569.2" cy="175.9" r="1.75"/><circle cx="495.0" cy="148.4" r="1.75"/><circle cx="580.4" cy="107.7" r="1.75"/><circle cx="526.1" cy="88.4" r="1.75"/><circle cx="571.5" cy="97.1" r="1.75"/><circle cx="424.6" cy="89.4" r="1.75"/><circle cx="506.9" cy="29.8" r="1.75"/><circle cx="538.5" cy="178.4" r="1.75"/><circle cx="572.0" cy="166.9" r="1.75"/><circle cx="461.2" cy="84.6" r="1.75"/><circle cx="502.7" cy="99.9" r="1.75"/><circle cx="641.5" cy="152.7" r="1.75"/><circle cx="517.9" cy="225.1" r="1.75"/><circle cx="578.0" cy="173.3" r="1.75"/><circle cx="567.8" cy="28.9" r="1.75"/><circle cx="596.1" cy="148.8" r="1.75"/><circle cx="543.8" cy="88.9" r="1.75"/><circle cx="449.4" cy="90.3" r="1.75"/><circle cx="574.0" cy="188.2" r="1.75"/><circle cx="556.4" cy="71.1" r="1.75"/><circle cx="613.8" cy="109.7" r="1.75"/><circle cx="532.0" cy="127.6" r="1.75"/><circle cx="442.2" cy="55.0" r="1.75"/><circle cx="538.6" cy="165.8" r="1.75"/><circle cx="458.9" cy="83.9" r="1.75"/><circle cx="567.6" cy="105.1" r="1.75"/><circle cx="460.6" cy="177.2" r="1.75"/><circle cx="512.1" cy="232.1" r="1.75"/><circle cx="516.3" cy="110.7" r="1.75"/><circle cx="526.1" cy="186.1" r="1.75"/><circle cx="525.4" cy="130.7" r="1.75"/><circle cx="564.7" cy="64.2" r="1.75"/><circle cx="547.5" cy="185.2" r="1.75"/><circle cx="634.0" cy="125.0" r="1.75"/><circle cx="467.1" cy="194.4" r="1.75"/><circle cx="601.7" cy="205.9" r="1.75"/><circle cx="627.0" cy="162.8" r="1.75"/><circle cx="612.2" cy="161.6" r="1.75"/><circle cx="634.9" cy="99.0" r="1.75"/><circle cx="480.8" cy="121.2" r="1.75"/><circle cx="592.9" cy="209.5" r="1.75"/><circle cx="556.8" cy="61.9" r="1.75"/><circle cx="593.7" cy="188.0" r="1.75"/><circle cx="549.5" cy="163.0" r="1.75"/><circle cx="537.7" cy="163.2" r="1.75"/><circle cx="538.3" cy="155.9" r="1.75"/><circle cx="470.8" cy="33.4" r="1.75"/><circle cx="435.5" cy="196.3" r="1.75"/><circle cx="596.4" cy="89.3" r="1.75"/><circle cx="463.1" cy="41.0" r="1.75"/><circle cx="596.8" cy="87.8" r="1.75"/><circle cx="569.5" cy="74.5" r="1.75"/><circle cx="546.1" cy="76.4" r="1.75"/><circle cx="517.0" cy="212.5" r="1.75"/><circle cx="545.3" cy="88.8" r="1.75"/><circle cx="573.3" cy="72.2" r="1.75"/><circle cx="432.2" cy="77.0" r="1.75"/><circle cx="457.4" cy="54.5" r="1.75"/><circle cx="533.6" cy="62.3" r="1.75"/><circle cx="460.8" cy="167.2" r="1.75"/><circle cx="494.4" cy="226.4" r="1.75"/><circle cx="534.3" cy="98.8" r="1.75"/><circle cx="495.6" cy="203.7" r="1.75"/><circle cx="464.5" cy="108.7" r="1.75"/><circle cx="563.9" cy="28.1" r="1.75"/><circle cx="542.7" cy="78.8" r="1.75"/><circle cx="575.9" cy="92.0" r="1.75"/><circle cx="606.9" cy="142.2" r="1.75"/><circle cx="442.2" cy="161.5" r="1.75"/><circle cx="598.6" cy="36.1" r="1.75"/><circle cx="622.5" cy="150.5" r="1.75"/><circle cx="543.4" cy="177.0" r="1.75"/><circle cx="557.9" cy="177.8" r="1.75"/><circle cx="461.9" cy="94.7" r="1.75"/><circle cx="504.5" cy="198.4" r="1.75"/><circle cx="437.2" cy="184.5" r="1.75"/><circle cx="557.2" cy="201.8" r="1.75"/><circle cx="539.9" cy="235.3" r="1.75"/><circle cx="578.0" cy="147.8" r="1.75"/><circle cx="509.1" cy="200.6" r="1.75"/><circle cx="566.2" cy="178.3" r="1.75"/><circle cx="492.1" cy="151.7" r="1.75"/><circle cx="608.1" cy="121.0" r="1.75"/><circle cx="558.0" cy="145.9" r="1.75"/><circle cx="501.3" cy="227.2" r="1.75"/><circle cx="452.2" cy="159.6" r="1.75"/><circle cx="631.0" cy="122.1" r="1.75"/><circle cx="495.7" cy="87.6" r="1.75"/><circle cx="458.3" cy="154.3" r="1.75"/><circle cx="522.9" cy="64.0" r="1.75"/><circle cx="468.0" cy="45.7" r="1.75"/><circle cx="439.9" cy="177.3" r="1.75"/><circle cx="505.6" cy="69.7" r="1.75"/><circle cx="482.5" cy="88.8" r="1.75"/><circle cx="450.4" cy="170.0" r="1.75"/><circle cx="475.4" cy="213.2" r="1.75"/><circle cx="459.5" cy="68.1" r="1.75"/><circle cx="437.3" cy="140.5" r="1.75"/><circle cx="544.3" cy="126.3" r="1.75"/><circle cx="506.5" cy="158.6" r="1.75"/><circle cx="532.2" cy="158.9" r="1.75"/><circle cx="598.9" cy="206.9" r="1.75"/><circle cx="549.4" cy="32.0" r="1.75"/><circle cx="552.2" cy="115.4" r="1.75"/><circle cx="447.1" cy="202.0" r="1.75"/><circle cx="606.6" cy="102.1" r="1.75"/><circle cx="556.2" cy="98.8" r="1.75"/><circle cx="566.5" cy="35.8" r="1.75"/><circle cx="608.9" cy="53.3" r="1.75"/><circle cx="504.3" cy="190.8" r="1.75"/><circle cx="484.8" cy="190.0" r="1.75"/><circle cx="580.9" cy="186.4" r="1.75"/><circle cx="547.1" cy="147.4" r="1.75"/><circle cx="480.9" cy="114.7" r="1.75"/><circle cx="497.2" cy="86.3" r="1.75"/><circle cx="503.3" cy="62.8" r="1.75"/><circle cx="577.7" cy="157.6" r="1.75"/><circle cx="528.8" cy="72.4" r="1.75"/><circle cx="495.3" cy="152.7" r="1.75"/><circle cx="526.4" cy="158.7" r="1.75"/><circle cx="577.4" cy="179.1" r="1.75"/><circle cx="618.5" cy="117.6" r="1.75"/><circle cx="630.9" cy="141.1" r="1.75"/><circle cx="554.1" cy="12.6" r="1.75"/><circle cx="429.9" cy="161.1" r="1.75"/><circle cx="569.2" cy="201.0" r="1.75"/><circle cx="415.7" cy="102.5" r="1.75"/><circle cx="482.5" cy="60.8" r="1.75"/><circle cx="575.8" cy="148.3" r="1.75"/><circle cx="484.3" cy="172.4" r="1.75"/><circle cx="468.5" cy="137.9" r="1.75"/><circle cx="513.4" cy="55.7" r="1.75"/><circle cx="593.7" cy="177.6" r="1.75"/><circle cx="465.2" cy="109.4" r="1.75"/><circle cx="545.9" cy="167.3" r="1.75"/><circle cx="497.6" cy="46.8" r="1.75"/><circle cx="545.5" cy="35.3" r="1.75"/><circle cx="635.3" cy="94.3" r="1.75"/><circle cx="443.9" cy="112.4" r="1.75"/><circle cx="507.4" cy="130.1" r="1.75"/><circle cx="488.7" cy="161.0" r="1.75"/><circle cx="535.9" cy="152.1" r="1.75"/><circle cx="557.0" cy="114.9" r="1.75"/><circle cx="583.4" cy="91.0" r="1.75"/><circle cx="534.3" cy="181.9" r="1.75"/><circle cx="563.1" cy="56.0" r="1.75"/><circle cx="501.8" cy="161.9" r="1.75"/><circle cx="576.7" cy="108.9" r="1.75"/><circle cx="475.6" cy="83.7" r="1.75"/><circle cx="556.2" cy="239.8" r="1.75"/><circle cx="581.0" cy="51.7" r="1.75"/><circle cx="516.1" cy="117.5" r="1.75"/><circle cx="521.8" cy="50.2" r="1.75"/><circle cx="472.9" cy="73.3" r="1.75"/><circle cx="574.4" cy="179.9" r="1.75"/><circle cx="534.9" cy="138.8" r="1.75"/><circle cx="502.5" cy="138.5" r="1.75"/><circle cx="583.7" cy="87.6" r="1.75"/><circle cx="586.6" cy="153.4" r="1.75"/><circle cx="545.4" cy="89.0" r="1.75"/><circle cx="581.5" cy="125.1" r="1.75"/><circle cx="506.9" cy="230.0" r="1.75"/><circle cx="460.5" cy="134.9" r="1.75"/><circle cx="573.4" cy="205.8" r="1.75"/><circle cx="530.7" cy="227.8" r="1.75"/><circle cx="497.1" cy="43.8" r="1.75"/><circle cx="615.6" cy="51.1" r="1.75"/><circle cx="545.9" cy="186.0" r="1.75"/><circle cx="531.4" cy="109.4" r="1.75"/><circle cx="477.9" cy="25.5" r="1.75"/><circle cx="567.6" cy="137.1" r="1.75"/><circle cx="472.4" cy="138.4" r="1.75"/><circle cx="473.3" cy="173.6" r="1.75"/><circle cx="571.4" cy="138.3" r="1.75"/><circle cx="499.6" cy="231.1" r="1.75"/><circle cx="490.5" cy="158.4" r="1.75"/><circle cx="632.3" cy="157.7" r="1.75"/><circle cx="494.1" cy="106.3" r="1.75"/><circle cx="559.3" cy="212.6" r="1.75"/><circle cx="622.3" cy="74.5" r="1.75"/><circle cx="543.4" cy="225.3" r="1.75"/><circle cx="637.5" cy="168.1" r="1.75"/><circle cx="445.2" cy="134.3" r="1.75"/><circle cx="621.6" cy="69.3" r="1.75"/><circle cx="623.8" cy="109.4" r="1.75"/><circle cx="643.6" cy="96.3" r="1.75"/><circle cx="519.0" cy="123.0" r="1.75"/><circle cx="506.9" cy="109.3" r="1.75"/><circle cx="507.3" cy="94.4" r="1.75"/><circle cx="523.5" cy="160.4" r="1.75"/><circle cx="573.9" cy="92.3" r="1.75"/><circle cx="528.2" cy="226.8" r="1.75"/><circle cx="617.2" cy="110.0" r="1.75"/><circle cx="473.2" cy="145.6" r="1.75"/><circle cx="454.6" cy="135.2" r="1.75"/><circle cx="457.2" cy="121.6" r="1.75"/><circle cx="520.8" cy="228.9" r="1.75"/><circle cx="597.5" cy="92.3" r="1.75"/><circle cx="569.2" cy="223.2" r="1.75"/><circle cx="551.4" cy="132.7" r="1.75"/><circle cx="598.6" cy="107.7" r="1.75"/><circle cx="598.9" cy="180.0" r="1.75"/><circle cx="566.7" cy="38.6" r="1.75"/><circle cx="529.4" cy="45.9" r="1.75"/><circle cx="582.7" cy="138.1" r="1.75"/><circle cx="576.9" cy="72.1" r="1.75"/><circle cx="582.5" cy="107.5" r="1.75"/><circle cx="522.8" cy="65.1" r="1.75"/><circle cx="542.8" cy="105.1" r="1.75"/><circle cx="530.2" cy="68.6" r="1.75"/><circle cx="436.4" cy="147.5" r="1.75"/><circle cx="617.3" cy="97.9" r="1.75"/><circle cx="580.8" cy="144.5" r="1.75"/><circle cx="563.7" cy="175.7" r="1.75"/><circle cx="544.9" cy="163.8" r="1.75"/><circle cx="447.4" cy="200.1" r="1.75"/><circle cx="514.6" cy="218.4" r="1.75"/><circle cx="573.6" cy="63.1" r="1.75"/><circle cx="534.4" cy="135.1" r="1.75"/><circle cx="436.5" cy="185.0" r="1.75"/><circle cx="583.7" cy="111.7" r="1.75"/><circle cx="592.6" cy="74.8" r="1.75"/><circle cx="592.3" cy="144.1" r="1.75"/><circle cx="466.8" cy="138.7" r="1.75"/><circle cx="633.9" cy="143.6" r="1.75"/><circle cx="590.3" cy="138.9" r="1.75"/><circle cx="611.3" cy="173.9" r="1.75"/><circle cx="461.3" cy="155.6" r="1.75"/><circle cx="511.3" cy="43.4" r="1.75"/><circle cx="598.7" cy="53.2" r="1.75"/><circle cx="542.5" cy="161.5" r="1.75"/><circle cx="488.2" cy="52.6" r="1.75"/><circle cx="509.2" cy="103.5" r="1.75"/><circle cx="552.5" cy="237.7" r="1.75"/><circle cx="447.1" cy="168.9" r="1.75"/><circle cx="444.4" cy="109.0" r="1.75"/><circle cx="552.6" cy="38.6" r="1.75"/><circle cx="564.9" cy="133.1" r="1.75"/><circle cx="448.3" cy="88.0" r="1.75"/><circle cx="494.5" cy="88.2" r="1.75"/><circle cx="520.6" cy="209.4" r="1.75"/><circle cx="563.0" cy="93.9" r="1.75"/><circle cx="455.8" cy="78.1" r="1.75"/><circle cx="505.1" cy="13.6" r="1.75"/><circle cx="480.6" cy="158.3" r="1.75"/><circle cx="558.1" cy="14.3" r="1.75"/><circle cx="587.8" cy="219.7" r="1.75"/><circle cx="531.8" cy="119.2" r="1.75"/><circle cx="545.6" cy="139.9" r="1.75"/><circle cx="424.4" cy="75.5" r="1.75"/><circle cx="462.4" cy="80.2" r="1.75"/><circle cx="448.5" cy="56.3" r="1.75"/><circle cx="546.8" cy="75.9" r="1.75"/><circle cx="526.6" cy="156.4" r="1.75"/><circle cx="461.7" cy="171.1" r="1.75"/><circle cx="492.7" cy="152.7" r="1.75"/><circle cx="533.6" cy="97.1" r="1.75"/><circle cx="531.2" cy="26.6" r="1.75"/><circle cx="438.3" cy="183.7" r="1.75"/><circle cx="599.2" cy="130.1" r="1.75"/><circle cx="522.7" cy="62.8" r="1.75"/><circle cx="609.9" cy="125.1" r="1.75"/><circle cx="580.6" cy="230.1" r="1.75"/><circle cx="626.2" cy="166.6" r="1.75"/><circle cx="543.9" cy="48.7" r="1.75"/><circle cx="570.9" cy="23.0" r="1.75"/><circle cx="573.0" cy="117.5" r="1.75"/><circle cx="606.2" cy="158.1" r="1.75"/><circle cx="549.4" cy="22.4" r="1.75"/><circle cx="546.7" cy="208.6" r="1.75"/><circle cx="482.8" cy="155.3" r="1.75"/><circle cx="577.5" cy="216.0" r="1.75"/><circle cx="571.6" cy="147.4" r="1.75"/><circle cx="451.8" cy="159.4" r="1.75"/><circle cx="506.8" cy="140.9" r="1.75"/><circle cx="543.4" cy="80.7" r="1.75"/><circle cx="502.8" cy="84.6" r="1.75"/><circle cx="572.6" cy="33.7" r="1.75"/><circle cx="511.2" cy="155.8" r="1.75"/><circle cx="431.8" cy="71.1" r="1.75"/><circle cx="574.3" cy="31.0" r="1.75"/><circle cx="537.3" cy="18.7" r="1.75"/><circle cx="488.4" cy="76.3" r="1.75"/><circle cx="463.1" cy="92.4" r="1.75"/><circle cx="486.3" cy="184.9" r="1.75"/><circle cx="590.3" cy="98.3" r="1.75"/><circle cx="607.3" cy="128.8" r="1.75"/><circle cx="567.5" cy="200.9" r="1.75"/><circle cx="488.2" cy="29.8" r="1.75"/><circle cx="594.2" cy="71.9" r="1.75"/><circle cx="522.5" cy="150.0" r="1.75"/><circle cx="475.3" cy="152.4" r="1.75"/><circle cx="566.1" cy="24.7" r="1.75"/><circle cx="539.7" cy="144.0" r="1.75"/><circle cx="550.7" cy="56.4" r="1.75"/><circle cx="590.8" cy="99.2" r="1.75"/><circle cx="503.0" cy="27.7" r="1.75"/><circle cx="437.6" cy="126.8" r="1.75"/><circle cx="451.9" cy="182.8" r="1.75"/><circle cx="472.2" cy="123.3" r="1.75"/><circle cx="550.3" cy="141.7" r="1.75"/><circle cx="560.4" cy="88.3" r="1.75"/><circle cx="447.4" cy="191.7" r="1.75"/><circle cx="471.5" cy="186.1" r="1.75"/><circle cx="531.2" cy="156.4" r="1.75"/><circle cx="583.9" cy="76.2" r="1.75"/><circle cx="502.6" cy="85.0" r="1.75"/><circle cx="545.4" cy="110.6" r="1.75"/><circle cx="510.9" cy="141.6" r="1.75"/><circle cx="432.2" cy="101.5" r="1.75"/><circle cx="577.9" cy="97.2" r="1.75"/><circle cx="434.1" cy="87.6" r="1.75"/><circle cx="453.4" cy="140.7" r="1.75"/><circle cx="433.8" cy="176.1" r="1.75"/><circle cx="460.7" cy="102.6" r="1.75"/><circle cx="565.8" cy="28.8" r="1.75"/><circle cx="568.7" cy="185.9" r="1.75"/><circle cx="467.7" cy="62.6" r="1.75"/><circle cx="466.6" cy="62.5" r="1.75"/><circle cx="538.5" cy="11.1" r="1.75"/><circle cx="568.0" cy="139.2" r="1.75"/><circle cx="569.5" cy="228.0" r="1.75"/><circle cx="488.4" cy="207.0" r="1.75"/><circle cx="517.0" cy="199.9" r="1.75"/><circle cx="624.6" cy="190.7" r="1.75"/><circle cx="580.3" cy="57.5" r="1.75"/><circle cx="457.8" cy="168.8" r="1.75"/><circle cx="592.4" cy="67.6" r="1.75"/><circle cx="493.5" cy="203.6" r="1.75"/><circle cx="468.9" cy="73.4" r="1.75"/><circle cx="496.1" cy="85.3" r="1.75"/><circle cx="548.0" cy="90.7" r="1.75"/><circle cx="552.2" cy="18.1" r="1.75"/><circle cx="564.7" cy="42.6" r="1.75"/><circle cx="571.4" cy="130.5" r="1.75"/><circle cx="440.2" cy="78.1" r="1.75"/><circle cx="554.9" cy="226.9" r="1.75"/><circle cx="579.8" cy="171.0" r="1.75"/><circle cx="538.7" cy="230.7" r="1.75"/><circle cx="519.4" cy="140.2" r="1.75"/><circle cx="558.2" cy="77.1" r="1.75"/><circle cx="573.6" cy="37.1" r="1.75"/><circle cx="482.1" cy="127.6" r="1.75"/><circle cx="476.9" cy="216.4" r="1.75"/><circle cx="472.4" cy="173.1" r="1.75"/><circle cx="633.2" cy="174.4" r="1.75"/><circle cx="623.6" cy="191.4" r="1.75"/><circle cx="587.7" cy="77.1" r="1.75"/><circle cx="547.5" cy="36.3" r="1.75"/><circle cx="591.2" cy="29.7" r="1.75"/><circle cx="562.4" cy="121.8" r="1.75"/><circle cx="553.3" cy="29.0" r="1.75"/><circle cx="597.7" cy="168.6" r="1.75"/><circle cx="599.6" cy="114.3" r="1.75"/><circle cx="576.5" cy="109.3" r="1.75"/><circle cx="427.4" cy="98.8" r="1.75"/><circle cx="525.1" cy="138.2" r="1.75"/><circle cx="574.3" cy="112.1" r="1.75"/><circle cx="419.8" cy="151.4" r="1.75"/><circle cx="550.1" cy="107.4" r="1.75"/><circle cx="544.9" cy="103.6" r="1.75"/><circle cx="504.4" cy="214.0" r="1.75"/><circle cx="573.8" cy="68.0" r="1.75"/><circle cx="542.4" cy="19.9" r="1.75"/><circle cx="500.4" cy="53.7" r="1.75"/><circle cx="522.5" cy="68.6" r="1.75"/><circle cx="489.5" cy="113.8" r="1.75"/><circle cx="621.9" cy="116.1" r="1.75"/><circle cx="486.3" cy="78.0" r="1.75"/><circle cx="527.1" cy="69.9" r="1.75"/><circle cx="563.5" cy="78.7" r="1.75"/><circle cx="590.7" cy="186.3" r="1.75"/><circle cx="464.2" cy="174.7" r="1.75"/><circle cx="442.6" cy="125.4" r="1.75"/><circle cx="439.1" cy="147.0" r="1.75"/><circle cx="421.6" cy="110.9" r="1.75"/><circle cx="539.5" cy="142.7" r="1.75"/><circle cx="531.9" cy="142.4" r="1.75"/><circle cx="629.1" cy="108.5" r="1.75"/><circle cx="450.9" cy="113.2" r="1.75"/><circle cx="498.9" cy="222.9" r="1.75"/><circle cx="523.3" cy="70.0" r="1.75"/><circle cx="628.0" cy="109.5" r="1.75"/><circle cx="611.7" cy="126.9" r="1.75"/><circle cx="628.4" cy="184.6" r="1.75"/><circle cx="643.8" cy="113.4" r="1.75"/><circle cx="630.1" cy="104.9" r="1.75"/><circle cx="591.2" cy="50.0" r="1.75"/><circle cx="545.3" cy="16.4" r="1.75"/><circle cx="570.5" cy="95.1" r="1.75"/><circle cx="601.8" cy="173.4" r="1.75"/><circle cx="624.8" cy="86.8" r="1.75"/><circle cx="506.4" cy="70.0" r="1.75"/><circle cx="537.7" cy="175.6" r="1.75"/><circle cx="444.0" cy="123.7" r="1.75"/><circle cx="588.3" cy="96.1" r="1.75"/><circle cx="578.1" cy="86.9" r="1.75"/><circle cx="585.8" cy="31.8" r="1.75"/><circle cx="566.9" cy="211.5" r="1.75"/><circle cx="472.6" cy="196.6" r="1.75"/><circle cx="438.8" cy="156.6" r="1.75"/><circle cx="614.8" cy="74.5" r="1.75"/><circle cx="473.1" cy="79.0" r="1.75"/><circle cx="485.2" cy="60.4" r="1.75"/><circle cx="490.4" cy="127.0" r="1.75"/><circle cx="498.5" cy="190.4" r="1.75"/><circle cx="444.3" cy="76.6" r="1.75"/><circle cx="575.0" cy="34.7" r="1.75"/><circle cx="436.3" cy="131.5" r="1.75"/><circle cx="537.6" cy="56.4" r="1.75"/><circle cx="556.1" cy="132.1" r="1.75"/><circle cx="539.6" cy="96.0" r="1.75"/><circle cx="547.8" cy="176.3" r="1.75"/><circle cx="590.1" cy="125.3" r="1.75"/><circle cx="467.1" cy="197.1" r="1.75"/><circle cx="586.0" cy="56.3" r="1.75"/><circle cx="531.2" cy="228.1" r="1.75"/><circle cx="596.6" cy="116.3" r="1.75"/><circle cx="576.8" cy="132.6" r="1.75"/><circle cx="437.7" cy="99.7" r="1.75"/><circle cx="524.7" cy="6.7" r="1.75"/><circle cx="574.1" cy="135.7" r="1.75"/><circle cx="509.1" cy="65.2" r="1.75"/><circle cx="497.9" cy="112.6" r="1.75"/><circle cx="437.8" cy="163.9" r="1.75"/><circle cx="476.3" cy="103.5" r="1.75"/><circle cx="567.5" cy="36.7" r="1.75"/><circle cx="436.3" cy="144.0" r="1.75"/><circle cx="541.2" cy="41.2" r="1.75"/><circle cx="486.7" cy="226.4" r="1.75"/><circle cx="486.7" cy="68.9" r="1.75"/><circle cx="535.0" cy="22.7" r="1.75"/><circle cx="553.0" cy="148.0" r="1.75"/><circle cx="473.1" cy="82.8" r="1.75"/><circle cx="447.3" cy="72.5" r="1.75"/><circle cx="630.4" cy="173.5" r="1.75"/><circle cx="582.9" cy="110.9" r="1.75"/><circle cx="575.5" cy="174.6" r="1.75"/><circle cx="551.5" cy="147.2" r="1.75"/><circle cx="473.9" cy="76.4" r="1.75"/><circle cx="554.5" cy="236.9" r="1.75"/><circle cx="550.9" cy="148.9" r="1.75"/><circle cx="560.8" cy="96.3" r="1.75"/><circle cx="453.3" cy="147.6" r="1.75"/><circle cx="578.9" cy="71.0" r="1.75"/><circle cx="428.4" cy="140.7" r="1.75"/><circle cx="538.9" cy="185.5" r="1.75"/><circle cx="527.5" cy="55.8" r="1.75"/><circle cx="525.1" cy="66.4" r="1.75"/><circle cx="609.2" cy="62.4" r="1.75"/><circle cx="556.5" cy="89.2" r="1.75"/><circle cx="597.4" cy="131.5" r="1.75"/><circle cx="427.7" cy="105.0" r="1.75"/><circle cx="594.2" cy="175.0" r="1.75"/><circle cx="532.3" cy="45.9" r="1.75"/><circle cx="454.1" cy="44.7" r="1.75"/><circle cx="506.4" cy="196.3" r="1.75"/><circle cx="617.7" cy="192.8" r="1.75"/><circle cx="516.4" cy="66.0" r="1.75"/><circle cx="501.2" cy="98.8" r="1.75"/><circle cx="474.2" cy="73.3" r="1.75"/><circle cx="577.8" cy="185.6" r="1.75"/><circle cx="626.2" cy="138.2" r="1.75"/><circle cx="545.2" cy="42.4" r="1.75"/><circle cx="638.4" cy="150.2" r="1.75"/><circle cx="604.8" cy="98.8" r="1.75"/><circle cx="430.9" cy="193.6" r="1.75"/><circle cx="511.4" cy="71.3" r="1.75"/><circle cx="430.2" cy="100.6" r="1.75"/><circle cx="536.0" cy="34.7" r="1.75"/><circle cx="620.6" cy="113.8" r="1.75"/><circle cx="499.6" cy="30.2" r="1.75"/><circle cx="565.2" cy="78.8" r="1.75"/><circle cx="530.2" cy="173.2" r="1.75"/><circle cx="523.6" cy="176.7" r="1.75"/><circle cx="423.9" cy="117.0" r="1.75"/><circle cx="562.1" cy="127.0" r="1.75"/><circle cx="526.6" cy="77.3" r="1.75"/><circle cx="598.7" cy="51.5" r="1.75"/><circle cx="603.2" cy="100.2" r="1.75"/><circle cx="548.4" cy="200.2" r="1.75"/><circle cx="452.2" cy="144.4" r="1.75"/><circle cx="455.3" cy="106.1" r="1.75"/><circle cx="495.8" cy="118.3" r="1.75"/><circle cx="501.6" cy="88.8" r="1.75"/><circle cx="611.1" cy="70.6" r="1.75"/><circle cx="592.3" cy="132.3" r="1.75"/><circle cx="509.0" cy="237.7" r="1.75"/><circle cx="523.9" cy="170.9" r="1.75"/><circle cx="609.0" cy="83.0" r="1.75"/><circle cx="588.2" cy="207.1" r="1.75"/><circle cx="574.5" cy="37.4" r="1.75"/><circle cx="569.6" cy="52.7" r="1.75"/><circle cx="639.7" cy="117.3" r="1.75"/><circle cx="624.1" cy="176.5" r="1.75"/><circle cx="480.6" cy="178.4" r="1.75"/><circle cx="593.3" cy="200.4" r="1.75"/><circle cx="605.3" cy="116.6" r="1.75"/><circle cx="579.5" cy="116.0" r="1.75"/><circle cx="472.6" cy="109.2" r="1.75"/><circle cx="592.0" cy="193.8" r="1.75"/><circle cx="614.1" cy="90.9" r="1.75"/><circle cx="536.0" cy="165.1" r="1.75"/><circle cx="571.2" cy="59.8" r="1.75"/><circle cx="531.2" cy="163.8" r="1.75"/><circle cx="519.8" cy="146.0" r="1.75"/><circle cx="501.2" cy="84.0" r="1.75"/><circle cx="552.3" cy="152.1" r="1.75"/><circle cx="472.5" cy="158.9" r="1.75"/><circle cx="630.1" cy="160.6" r="1.75"/><circle cx="491.1" cy="107.0" r="1.75"/><circle cx="469.3" cy="103.8" r="1.75"/><circle cx="530.8" cy="205.8" r="1.75"/><circle cx="540.3" cy="166.8" r="1.75"/><circle cx="466.1" cy="36.6" r="1.75"/><circle cx="533.6" cy="149.9" r="1.75"/><circle cx="484.3" cy="184.9" r="1.75"/><circle cx="646.0" cy="119.0" r="1.75"/><circle cx="557.2" cy="184.1" r="1.75"/><circle cx="565.5" cy="82.2" r="1.75"/><circle cx="476.0" cy="84.7" r="1.75"/><circle cx="511.3" cy="73.1" r="1.75"/><circle cx="484.0" cy="49.2" r="1.75"/><circle cx="430.6" cy="63.1" r="1.75"/><circle cx="580.4" cy="70.8" r="1.75"/><circle cx="608.4" cy="109.3" r="1.75"/><circle cx="486.3" cy="87.0" r="1.75"/><circle cx="568.9" cy="189.0" r="1.75"/><circle cx="625.7" cy="133.3" r="1.75"/><circle cx="578.5" cy="123.0" r="1.75"/><circle cx="543.0" cy="87.1" r="1.75"/><circle cx="510.0" cy="125.6" r="1.75"/><circle cx="582.9" cy="163.7" r="1.75"/><circle cx="474.6" cy="84.9" r="1.75"/><circle cx="552.0" cy="176.1" r="1.75"/><circle cx="576.2" cy="131.1" r="1.75"/><circle cx="516.8" cy="84.7" r="1.75"/><circle cx="566.9" cy="84.4" r="1.75"/><circle cx="496.2" cy="108.5" r="1.75"/><circle cx="628.4" cy="150.1" r="1.75"/><circle cx="562.3" cy="169.7" r="1.75"/><circle cx="502.7" cy="40.7" r="1.75"/><circle cx="560.3" cy="86.0" r="1.75"/><circle cx="449.4" cy="44.0" r="1.75"/><circle cx="518.8" cy="224.7" r="1.75"/><circle cx="581.8" cy="150.6" r="1.75"/><circle cx="585.2" cy="89.0" r="1.75"/><circle cx="442.5" cy="167.7" r="1.75"/><circle cx="606.7" cy="119.0" r="1.75"/><circle cx="470.2" cy="88.7" r="1.75"/><circle cx="463.2" cy="55.9" r="1.75"/><circle cx="510.8" cy="154.5" r="1.75"/><circle cx="489.0" cy="230.6" r="1.75"/><circle cx="585.8" cy="136.8" r="1.75"/><circle cx="537.3" cy="45.5" r="1.75"/><circle cx="530.9" cy="57.7" r="1.75"/><circle cx="458.3" cy="159.0" r="1.75"/><circle cx="525.9" cy="33.2" r="1.75"/><circle cx="544.7" cy="64.4" r="1.75"/><circle cx="561.0" cy="172.0" r="1.75"/><circle cx="611.5" cy="116.1" r="1.75"/><circle cx="468.8" cy="213.5" r="1.75"/><circle cx="602.3" cy="124.7" r="1.75"/><circle cx="535.2" cy="205.9" r="1.75"/><circle cx="564.0" cy="234.6" r="1.75"/><circle cx="634.0" cy="129.8" r="1.75"/><circle cx="571.0" cy="98.1" r="1.75"/><circle cx="504.4" cy="22.3" r="1.75"/><circle cx="591.7" cy="95.5" r="1.75"/><circle cx="612.8" cy="191.9" r="1.75"/><circle cx="607.8" cy="66.7" r="1.75"/><circle cx="521.7" cy="97.7" r="1.75"/><circle cx="523.3" cy="91.9" r="1.75"/><circle cx="561.5" cy="101.9" r="1.75"/><circle cx="568.2" cy="184.7" r="1.75"/><circle cx="567.2" cy="104.5" r="1.75"/><circle cx="558.9" cy="200.4" r="1.75"/><circle cx="571.5" cy="34.7" r="1.75"/><circle cx="636.9" cy="78.3" r="1.75"/><circle cx="501.9" cy="241.5" r="1.75"/><circle cx="569.2" cy="126.8" r="1.75"/><circle cx="524.7" cy="20.4" r="1.75"/><circle cx="443.2" cy="126.1" r="1.75"/><circle cx="425.5" cy="174.5" r="1.75"/><circle cx="629.7" cy="150.9" r="1.75"/><circle cx="420.3" cy="150.3" r="1.75"/><circle cx="434.3" cy="102.3" r="1.75"/><circle cx="550.0" cy="147.4" r="1.75"/><circle cx="532.2" cy="111.4" r="1.75"/><circle cx="622.2" cy="109.2" r="1.75"/><circle cx="479.4" cy="140.8" r="1.75"/><circle cx="643.6" cy="103.6" r="1.75"/><circle cx="496.0" cy="42.7" r="1.75"/><circle cx="499.0" cy="220.8" r="1.75"/><circle cx="620.2" cy="101.7" r="1.75"/><circle cx="541.6" cy="168.2" r="1.75"/><circle cx="607.5" cy="78.9" r="1.75"/><circle cx="499.8" cy="192.0" r="1.75"/><circle cx="615.1" cy="172.8" r="1.75"/><circle cx="469.1" cy="78.4" r="1.75"/><circle cx="555.1" cy="29.2" r="1.75"/><circle cx="570.5" cy="165.1" r="1.75"/><circle cx="483.3" cy="84.9" r="1.75"/><circle cx="431.2" cy="69.9" r="1.75"/><circle cx="419.5" cy="118.0" r="1.75"/><circle cx="525.7" cy="52.8" r="1.75"/><circle cx="446.6" cy="94.8" r="1.75"/><circle cx="519.0" cy="167.1" r="1.75"/><circle cx="448.4" cy="172.9" r="1.75"/><circle cx="614.0" cy="92.9" r="1.75"/><circle cx="595.5" cy="62.3" r="1.75"/><circle cx="507.7" cy="148.1" r="1.75"/><circle cx="573.1" cy="216.6" r="1.75"/><circle cx="502.1" cy="29.5" r="1.75"/><circle cx="463.8" cy="213.2" r="1.75"/><circle cx="470.3" cy="50.0" r="1.75"/><circle cx="458.3" cy="156.2" r="1.75"/><circle cx="539.8" cy="108.8" r="1.75"/><circle cx="457.0" cy="72.9" r="1.75"/><circle cx="487.3" cy="205.9" r="1.75"/><circle cx="587.1" cy="21.8" r="1.75"/><circle cx="440.0" cy="150.4" r="1.75"/><circle cx="565.2" cy="144.8" r="1.75"/><circle cx="571.1" cy="172.0" r="1.75"/><circle cx="491.7" cy="29.8" r="1.75"/><circle cx="528.0" cy="12.3" r="1.75"/><circle cx="620.4" cy="155.1" r="1.75"/><circle cx="412.5" cy="106.7" r="1.75"/><circle cx="502.5" cy="97.3" r="1.75"/><circle cx="485.1" cy="193.1" r="1.75"/><circle cx="629.6" cy="86.5" r="1.75"/><circle cx="494.7" cy="215.2" r="1.75"/><circle cx="608.2" cy="171.6" r="1.75"/><circle cx="577.5" cy="74.2" r="1.75"/><circle cx="506.0" cy="72.4" r="1.75"/><circle cx="461.5" cy="96.0" r="1.75"/><circle cx="545.1" cy="10.4" r="1.75"/><circle cx="558.3" cy="131.0" r="1.75"/><circle cx="562.7" cy="199.2" r="1.75"/><circle cx="546.4" cy="127.5" r="1.75"/><circle cx="508.8" cy="140.4" r="1.75"/><circle cx="492.9" cy="110.0" r="1.75"/><circle cx="619.4" cy="62.2" r="1.75"/><circle cx="591.3" cy="98.2" r="1.75"/><circle cx="539.2" cy="26.6" r="1.75"/><circle cx="443.7" cy="109.7" r="1.75"/><circle cx="490.8" cy="204.9" r="1.75"/><circle cx="592.4" cy="189.4" r="1.75"/><circle cx="474.3" cy="195.5" r="1.75"/><circle cx="633.8" cy="134.4" r="1.75"/><circle cx="551.2" cy="137.5" r="1.75"/><circle cx="574.0" cy="235.8" r="1.75"/><circle cx="628.1" cy="79.4" r="1.75"/><circle cx="455.0" cy="98.8" r="1.75"/><circle cx="503.4" cy="51.7" r="1.75"/><circle cx="624.1" cy="86.2" r="1.75"/><circle cx="558.4" cy="119.2" r="1.75"/><circle cx="495.9" cy="36.7" r="1.75"/><circle cx="505.2" cy="216.4" r="1.75"/><circle cx="462.3" cy="47.9" r="1.75"/><circle cx="466.2" cy="129.8" r="1.75"/><circle cx="637.4" cy="84.4" r="1.75"/><circle cx="639.0" cy="134.0" r="1.75"/><circle cx="572.7" cy="169.7" r="1.75"/><circle cx="583.9" cy="203.3" r="1.75"/><circle cx="442.2" cy="90.2" r="1.75"/><circle cx="620.4" cy="94.7" r="1.75"/><circle cx="467.5" cy="116.7" r="1.75"/><circle cx="609.1" cy="41.3" r="1.75"/><circle cx="542.0" cy="175.5" r="1.75"/><circle cx="634.7" cy="84.9" r="1.75"/><circle cx="581.5" cy="35.1" r="1.75"/><circle cx="603.5" cy="53.7" r="1.75"/><circle cx="428.9" cy="122.8" r="1.75"/><circle cx="430.5" cy="158.4" r="1.75"/><circle cx="532.6" cy="86.1" r="1.75"/><circle cx="576.7" cy="47.6" r="1.75"/><circle cx="564.5" cy="35.2" r="1.75"/><circle cx="530.4" cy="187.1" r="1.75"/><circle cx="485.3" cy="163.0" r="1.75"/><circle cx="625.3" cy="166.4" r="1.75"/><circle cx="459.3" cy="123.7" r="1.75"/><circle cx="580.7" cy="194.8" r="1.75"/><circle cx="597.6" cy="140.8" r="1.75"/><circle cx="505.2" cy="68.9" r="1.75"/><circle cx="575.1" cy="35.8" r="1.75"/><circle cx="566.5" cy="220.7" r="1.75"/><circle cx="498.9" cy="90.0" r="1.75"/><circle cx="601.4" cy="71.6" r="1.75"/><circle cx="576.6" cy="82.4" r="1.75"/><circle cx="490.4" cy="67.1" r="1.75"/><circle cx="541.6" cy="157.8" r="1.75"/><circle cx="501.0" cy="114.4" r="1.75"/><circle cx="631.9" cy="87.5" r="1.75"/><circle cx="428.4" cy="84.8" r="1.75"/><circle cx="550.1" cy="180.1" r="1.75"/><circle cx="428.3" cy="97.6" r="1.75"/><circle cx="435.5" cy="146.1" r="1.75"/><circle cx="418.5" cy="131.8" r="1.75"/><circle cx="597.4" cy="138.8" r="1.75"/><circle cx="533.9" cy="61.3" r="1.75"/><circle cx="570.8" cy="101.2" r="1.75"/><circle cx="508.1" cy="223.3" r="1.75"/><circle cx="597.3" cy="90.1" r="1.75"/><circle cx="415.2" cy="142.8" r="1.75"/><circle cx="479.9" cy="140.3" r="1.75"/><circle cx="577.4" cy="127.6" r="1.75"/><circle cx="539.3" cy="111.3" r="1.75"/><circle cx="581.1" cy="176.9" r="1.75"/><circle cx="474.5" cy="106.2" r="1.75"/><circle cx="531.1" cy="70.8" r="1.75"/><circle cx="430.9" cy="149.6" r="1.75"/><circle cx="582.1" cy="218.2" r="1.75"/><circle cx="567.6" cy="184.9" r="1.75"/><circle cx="460.9" cy="180.4" r="1.75"/><circle cx="520.5" cy="85.4" r="1.75"/><circle cx="563.9" cy="222.7" r="1.75"/><circle cx="594.0" cy="150.8" r="1.75"/><circle cx="556.0" cy="163.9" r="1.75"/><circle cx="527.9" cy="145.7" r="1.75"/><circle cx="604.7" cy="91.6" r="1.75"/><circle cx="584.5" cy="198.5" r="1.75"/><circle cx="550.0" cy="229.4" r="1.75"/><circle cx="597.7" cy="70.6" r="1.75"/><circle cx="599.4" cy="94.0" r="1.75"/><circle cx="522.5" cy="232.2" r="1.75"/><circle cx="426.9" cy="133.1" r="1.75"/><circle cx="441.2" cy="122.3" r="1.75"/><circle cx="424.8" cy="85.6" r="1.75"/><circle cx="478.0" cy="110.6" r="1.75"/><circle cx="471.7" cy="123.3" r="1.75"/><circle cx="416.5" cy="134.4" r="1.75"/><circle cx="603.9" cy="115.1" r="1.75"/><circle cx="526.8" cy="136.7" r="1.75"/><circle cx="485.6" cy="165.7" r="1.75"/><circle cx="473.5" cy="217.8" r="1.75"/><circle cx="575.9" cy="86.5" r="1.75"/><circle cx="494.5" cy="22.1" r="1.75"/><circle cx="534.8" cy="221.8" r="1.75"/><circle cx="434.8" cy="168.9" r="1.75"/><circle cx="454.4" cy="68.4" r="1.75"/><circle cx="472.1" cy="103.8" r="1.75"/><circle cx="425.4" cy="62.0" r="1.75"/><circle cx="619.9" cy="79.6" r="1.75"/><circle cx="473.0" cy="231.8" r="1.75"/><circle cx="447.9" cy="190.9" r="1.75"/><circle cx="486.3" cy="173.8" r="1.75"/><circle cx="623.0" cy="143.0" r="1.75"/><circle cx="553.4" cy="142.0" r="1.75"/><circle cx="550.2" cy="23.7" r="1.75"/><circle cx="479.6" cy="158.1" r="1.75"/><circle cx="556.8" cy="205.9" r="1.75"/><circle cx="474.1" cy="80.9" r="1.75"/><circle cx="590.7" cy="190.1" r="1.75"/><circle cx="616.6" cy="178.5" r="1.75"/><circle cx="508.8" cy="22.4" r="1.75"/><circle cx="618.9" cy="100.0" r="1.75"/><circle cx="610.3" cy="176.8" r="1.75"/><circle cx="540.2" cy="229.4" r="1.75"/><circle cx="471.8" cy="100.4" r="1.75"/><circle cx="635.1" cy="133.5" r="1.75"/><circle cx="536.2" cy="230.2" r="1.75"/><circle cx="422.7" cy="98.1" r="1.75"/><circle cx="575.8" cy="200.9" r="1.75"/><circle cx="605.4" cy="148.8" r="1.75"/><circle cx="570.6" cy="36.7" r="1.75"/><circle cx="429.8" cy="133.7" r="1.75"/><circle cx="478.4" cy="60.9" r="1.75"/><circle cx="500.0" cy="27.0" r="1.75"/><circle cx="486.4" cy="189.6" r="1.75"/><circle cx="548.6" cy="135.0" r="1.75"/><circle cx="453.7" cy="117.2" r="1.75"/><circle cx="632.2" cy="124.5" r="1.75"/><circle cx="604.0" cy="172.3" r="1.75"/><circle cx="434.9" cy="92.6" r="1.75"/><circle cx="632.1" cy="79.0" r="1.75"/><circle cx="546.8" cy="37.1" r="1.75"/><circle cx="441.6" cy="113.1" r="1.75"/><circle cx="584.9" cy="184.6" r="1.75"/><circle cx="507.7" cy="17.1" r="1.75"/><circle cx="452.6" cy="170.7" r="1.75"/><circle cx="576.8" cy="173.9" r="1.75"/><circle cx="524.9" cy="141.7" r="1.75"/><circle cx="530.3" cy="24.3" r="1.75"/><circle cx="536.5" cy="119.4" r="1.75"/><circle cx="559.9" cy="100.2" r="1.75"/><circle cx="415.9" cy="147.3" r="1.75"/><circle cx="617.4" cy="119.0" r="1.75"/><circle cx="569.3" cy="218.5" r="1.75"/><circle cx="503.4" cy="90.9" r="1.75"/><circle cx="547.3" cy="141.2" r="1.75"/><circle cx="594.7" cy="217.5" r="1.75"/><circle cx="487.5" cy="209.8" r="1.75"/><circle cx="621.5" cy="175.0" r="1.75"/><circle cx="563.5" cy="28.4" r="1.75"/><circle cx="529.1" cy="47.3" r="1.75"/><circle cx="472.2" cy="33.1" r="1.75"/><circle cx="596.0" cy="141.8" r="1.75"/><circle cx="591.8" cy="200.9" r="1.75"/><circle cx="534.7" cy="129.9" r="1.75"/><circle cx="533.1" cy="140.1" r="1.75"/><circle cx="442.6" cy="95.8" r="1.75"/><circle cx="448.6" cy="191.4" r="1.75"/><circle cx="622.1" cy="86.0" r="1.75"/><circle cx="422.7" cy="128.9" r="1.75"/><circle cx="533.2" cy="129.7" r="1.75"/><circle cx="595.1" cy="79.2" r="1.75"/><circle cx="584.9" cy="76.0" r="1.75"/><circle cx="572.9" cy="126.2" r="1.75"/><circle cx="510.4" cy="76.8" r="1.75"/><circle cx="539.9" cy="109.1" r="1.75"/><circle cx="534.6" cy="165.5" r="1.75"/><circle cx="483.0" cy="213.2" r="1.75"/><circle cx="482.5" cy="40.6" r="1.75"/><circle cx="459.3" cy="150.4" r="1.75"/><circle cx="460.8" cy="86.1" r="1.75"/><circle cx="453.4" cy="169.3" r="1.75"/><circle cx="569.3" cy="173.7" r="1.75"/><circle cx="542.2" cy="158.4" r="1.75"/><circle cx="566.9" cy="192.9" r="1.75"/><circle cx="615.6" cy="110.3" r="1.75"/><circle cx="566.9" cy="86.1" r="1.75"/><circle cx="499.1" cy="124.0" r="1.75"/><circle cx="580.8" cy="74.8" r="1.75"/><circle cx="464.8" cy="195.5" r="1.75"/><circle cx="554.1" cy="81.3" r="1.75"/><circle cx="483.8" cy="109.7" r="1.75"/><circle cx="639.4" cy="125.7" r="1.75"/><circle cx="501.2" cy="219.0" r="1.75"/><circle cx="453.2" cy="40.7" r="1.75"/><circle cx="630.0" cy="66.8" r="1.75"/><circle cx="564.5" cy="75.7" r="1.75"/><circle cx="538.5" cy="54.5" r="1.75"/><circle cx="458.8" cy="200.3" r="1.75"/><circle cx="635.1" cy="91.1" r="1.75"/><circle cx="434.0" cy="70.1" r="1.75"/><circle cx="625.8" cy="145.6" r="1.75"/><circle cx="484.8" cy="205.6" r="1.75"/><circle cx="545.6" cy="101.0" r="1.75"/><circle cx="494.8" cy="36.7" r="1.75"/><circle cx="604.8" cy="189.9" r="1.75"/><circle cx="546.2" cy="227.4" r="1.75"/><circle cx="559.4" cy="105.2" r="1.75"/><circle cx="491.8" cy="60.6" r="1.75"/><circle cx="605.7" cy="177.9" r="1.75"/><circle cx="454.8" cy="150.1" r="1.75"/><circle cx="629.9" cy="99.5" r="1.75"/><circle cx="483.0" cy="127.5" r="1.75"/><circle cx="578.3" cy="178.2" r="1.75"/><circle cx="504.8" cy="229.8" r="1.75"/><circle cx="438.6" cy="192.8" r="1.75"/><circle cx="503.2" cy="151.8" r="1.75"/><circle cx="441.2" cy="156.5" r="1.75"/><circle cx="534.0" cy="106.5" r="1.75"/><circle cx="444.0" cy="97.3" r="1.75"/><circle cx="441.0" cy="163.9" r="1.75"/><circle cx="569.3" cy="196.5" r="1.75"/><circle cx="481.5" cy="209.3" r="1.75"/><circle cx="511.3" cy="71.2" r="1.75"/><circle cx="528.0" cy="205.2" r="1.75"/><circle cx="509.7" cy="234.2" r="1.75"/><circle cx="484.2" cy="123.8" r="1.75"/><circle cx="503.7" cy="123.8" r="1.75"/><circle cx="555.3" cy="144.6" r="1.75"/><circle cx="580.7" cy="92.5" r="1.75"/><circle cx="474.1" cy="87.5" r="1.75"/><circle cx="528.2" cy="160.6" r="1.75"/><circle cx="485.1" cy="115.3" r="1.75"/><circle cx="498.1" cy="17.7" r="1.75"/><circle cx="419.3" cy="159.6" r="1.75"/><circle cx="631.0" cy="128.9" r="1.75"/><circle cx="502.9" cy="185.3" r="1.75"/><circle cx="494.5" cy="16.8" r="1.75"/><circle cx="517.9" cy="56.9" r="1.75"/><circle cx="421.0" cy="177.3" r="1.75"/><circle cx="601.5" cy="148.3" r="1.75"/><circle cx="479.5" cy="150.2" r="1.75"/><circle cx="454.3" cy="149.0" r="1.75"/><circle cx="604.9" cy="211.3" r="1.75"/><circle cx="593.1" cy="81.7" r="1.75"/><circle cx="444.9" cy="94.3" r="1.75"/><circle cx="577.7" cy="152.8" r="1.75"/><circle cx="587.6" cy="60.9" r="1.75"/><circle cx="483.8" cy="165.2" r="1.75"/><circle cx="508.3" cy="97.5" r="1.75"/><circle cx="538.8" cy="130.5" r="1.75"/><circle cx="584.5" cy="50.8" r="1.75"/><circle cx="473.8" cy="96.0" r="1.75"/><circle cx="490.9" cy="64.0" r="1.75"/><circle cx="611.3" cy="102.1" r="1.75"/><circle cx="547.7" cy="214.3" r="1.75"/><circle cx="633.6" cy="107.1" r="1.75"/><circle cx="493.3" cy="68.5" r="1.75"/><circle cx="485.9" cy="91.0" r="1.75"/><circle cx="611.3" cy="124.2" r="1.75"/><circle cx="530.7" cy="120.8" r="1.75"/><circle cx="464.0" cy="126.2" r="1.75"/><circle cx="466.7" cy="108.6" r="1.75"/><circle cx="589.8" cy="224.6" r="1.75"/><circle cx="489.0" cy="180.7" r="1.75"/><circle cx="418.7" cy="122.7" r="1.75"/><circle cx="552.4" cy="46.9" r="1.75"/><circle cx="595.9" cy="147.3" r="1.75"/><circle cx="501.1" cy="165.6" r="1.75"/><circle cx="578.1" cy="27.3" r="1.75"/><circle cx="620.3" cy="143.2" r="1.75"/><circle cx="601.2" cy="25.5" r="1.75"/><circle cx="582.4" cy="208.9" r="1.75"/><circle cx="595.5" cy="155.6" r="1.75"/><circle cx="501.3" cy="77.5" r="1.75"/><circle cx="530.1" cy="42.8" r="1.75"/><circle cx="536.6" cy="49.0" r="1.75"/><circle cx="469.6" cy="37.7" r="1.75"/><circle cx="478.9" cy="160.5" r="1.75"/><circle cx="594.4" cy="104.4" r="1.75"/><circle cx="585.9" cy="84.9" r="1.75"/><circle cx="471.1" cy="57.4" r="1.75"/><circle cx="575.7" cy="58.6" r="1.75"/><circle cx="496.7" cy="51.9" r="1.75"/><circle cx="601.0" cy="129.8" r="1.75"/><circle cx="523.8" cy="37.1" r="1.75"/><circle cx="539.5" cy="199.7" r="1.75"/><circle cx="566.7" cy="149.3" r="1.75"/><circle cx="461.4" cy="145.3" r="1.75"/><circle cx="592.2" cy="21.9" r="1.75"/><circle cx="469.5" cy="78.7" r="1.75"/><circle cx="459.7" cy="185.0" r="1.75"/><circle cx="587.5" cy="76.4" r="1.75"/><circle cx="502.8" cy="55.8" r="1.75"/><circle cx="454.3" cy="87.2" r="1.75"/><circle cx="467.2" cy="111.9" r="1.75"/><circle cx="547.7" cy="125.6" r="1.75"/><circle cx="466.6" cy="29.9" r="1.75"/><circle cx="514.3" cy="44.6" r="1.75"/><circle cx="548.1" cy="36.9" r="1.75"/><circle cx="463.0" cy="198.4" r="1.75"/><circle cx="534.2" cy="57.5" r="1.75"/><circle cx="525.0" cy="24.9" r="1.75"/><circle cx="516.0" cy="15.7" r="1.75"/><circle cx="527.2" cy="221.4" r="1.75"/><circle cx="545.2" cy="71.9" r="1.75"/><circle cx="633.1" cy="156.2" r="1.75"/><circle cx="511.9" cy="131.8" r="1.75"/><circle cx="463.9" cy="56.0" r="1.75"/><circle cx="563.4" cy="131.5" r="1.75"/><circle cx="498.4" cy="219.6" r="1.75"/><circle cx="616.8" cy="172.0" r="1.75"/><circle cx="571.8" cy="191.8" r="1.75"/><circle cx="574.7" cy="80.8" r="1.75"/><circle cx="455.8" cy="211.4" r="1.75"/><circle cx="451.1" cy="128.3" r="1.75"/><circle cx="565.0" cy="90.0" r="1.75"/><circle cx="502.1" cy="63.0" r="1.75"/><circle cx="567.7" cy="165.3" r="1.75"/><circle cx="494.3" cy="215.3" r="1.75"/><circle cx="549.5" cy="87.7" r="1.75"/><circle cx="456.0" cy="96.0" r="1.75"/><circle cx="549.4" cy="52.5" r="1.75"/><circle cx="466.9" cy="29.2" r="1.75"/><circle cx="546.6" cy="111.4" r="1.75"/><circle cx="434.8" cy="103.2" r="1.75"/><circle cx="547.5" cy="75.8" r="1.75"/><circle cx="562.3" cy="139.9" r="1.75"/><circle cx="583.7" cy="116.0" r="1.75"/><circle cx="478.4" cy="82.4" r="1.75"/><circle cx="549.3" cy="235.5" r="1.75"/><circle cx="590.5" cy="143.8" r="1.75"/><circle cx="481.9" cy="119.6" r="1.75"/><circle cx="493.9" cy="178.8" r="1.75"/><circle cx="625.7" cy="127.6" r="1.75"/><circle cx="468.0" cy="37.7" r="1.75"/><circle cx="628.4" cy="104.6" r="1.75"/><circle cx="462.2" cy="139.8" r="1.75"/><circle cx="440.9" cy="75.1" r="1.75"/><circle cx="429.4" cy="107.6" r="1.75"/><circle cx="532.7" cy="14.1" r="1.75"/><circle cx="516.3" cy="230.7" r="1.75"/><circle cx="562.6" cy="121.5" r="1.75"/><circle cx="563.4" cy="85.9" r="1.75"/><circle cx="616.9" cy="92.3" r="1.75"/><circle cx="515.5" cy="232.6" r="1.75"/><circle cx="599.3" cy="111.0" r="1.75"/><circle cx="552.1" cy="17.0" r="1.75"/><circle cx="614.7" cy="130.3" r="1.75"/><circle cx="520.4" cy="7.4" r="1.75"/><circle cx="512.5" cy="217.9" r="1.75"/><circle cx="578.5" cy="62.7" r="1.75"/><circle cx="636.5" cy="123.0" r="1.75"/><circle cx="539.5" cy="30.2" r="1.75"/><circle cx="430.2" cy="64.0" r="1.75"/><circle cx="470.9" cy="172.1" r="1.75"/><circle cx="461.2" cy="180.7" r="1.75"/><circle cx="580.4" cy="222.9" r="1.75"/><circle cx="506.0" cy="134.6" r="1.75"/><circle cx="589.8" cy="137.0" r="1.75"/><circle cx="581.1" cy="27.2" r="1.75"/><circle cx="603.6" cy="34.8" r="1.75"/><circle cx="568.3" cy="65.4" r="1.75"/><circle cx="631.0" cy="97.8" r="1.75"/><circle cx="577.0" cy="112.2" r="1.75"/><circle cx="564.6" cy="163.4" r="1.75"/><circle cx="492.9" cy="212.7" r="1.75"/><circle cx="500.8" cy="61.8" r="1.75"/><circle cx="581.7" cy="79.6" r="1.75"/><circle cx="486.5" cy="77.1" r="1.75"/><circle cx="546.0" cy="231.2" r="1.75"/><circle cx="621.8" cy="118.9" r="1.75"/><circle cx="525.0" cy="46.6" r="1.75"/><circle cx="503.3" cy="90.3" r="1.75"/><circle cx="612.2" cy="205.0" r="1.75"/><circle cx="449.1" cy="166.1" r="1.75"/><circle cx="424.6" cy="92.8" r="1.75"/><circle cx="434.9" cy="168.3" r="1.75"/><circle cx="560.2" cy="214.6" r="1.75"/><circle cx="559.1" cy="117.3" r="1.75"/><circle cx="586.4" cy="149.2" r="1.75"/><circle cx="567.3" cy="133.2" r="1.75"/><circle cx="589.8" cy="123.7" r="1.75"/><circle cx="472.9" cy="172.5" r="1.75"/><circle cx="609.1" cy="166.8" r="1.75"/><circle cx="493.7" cy="170.4" r="1.75"/><circle cx="464.5" cy="198.8" r="1.75"/><circle cx="542.5" cy="228.5" r="1.75"/><circle cx="647.1" cy="112.9" r="1.75"/><circle cx="419.1" cy="139.1" r="1.75"/><circle cx="479.8" cy="202.2" r="1.75"/><circle cx="511.0" cy="198.5" r="1.75"/><circle cx="581.0" cy="130.4" r="1.75"/><circle cx="504.5" cy="180.4" r="1.75"/><circle cx="556.9" cy="221.8" r="1.75"/><circle cx="480.2" cy="111.9" r="1.75"/><circle cx="527.7" cy="115.2" r="1.75"/><circle cx="516.9" cy="215.8" r="1.75"/><circle cx="469.1" cy="150.8" r="1.75"/><circle cx="593.4" cy="86.0" r="1.75"/><circle cx="498.3" cy="205.1" r="1.75"/><circle cx="504.8" cy="193.3" r="1.75"/><circle cx="441.4" cy="95.3" r="1.75"/><circle cx="483.2" cy="185.1" r="1.75"/><circle cx="568.1" cy="212.3" r="1.75"/><circle cx="622.4" cy="130.1" r="1.75"/><circle cx="587.7" cy="69.0" r="1.75"/><circle cx="480.2" cy="105.0" r="1.75"/><circle cx="441.4" cy="124.8" r="1.75"/><circle cx="601.8" cy="40.8" r="1.75"/><circle cx="482.8" cy="52.5" r="1.75"/><circle cx="573.9" cy="228.3" r="1.75"/><circle cx="479.5" cy="185.1" r="1.75"/><circle cx="502.6" cy="198.1" r="1.75"/><circle cx="559.1" cy="160.8" r="1.75"/><circle cx="512.2" cy="155.1" r="1.75"/><circle cx="574.2" cy="137.3" r="1.75"/><circle cx="616.9" cy="84.1" r="1.75"/><circle cx="606.9" cy="170.4" r="1.75"/><circle cx="544.8" cy="81.9" r="1.75"/><circle cx="440.1" cy="144.4" r="1.75"/><circle cx="589.9" cy="125.0" r="1.75"/><circle cx="449.6" cy="104.0" r="1.75"/><circle cx="515.6" cy="179.0" r="1.75"/><circle cx="495.4" cy="28.8" r="1.75"/><circle cx="504.3" cy="185.0" r="1.75"/><circle cx="430.5" cy="110.8" r="1.75"/><circle cx="589.5" cy="107.4" r="1.75"/><circle cx="569.7" cy="177.0" r="1.75"/><circle cx="469.8" cy="46.9" r="1.75"/><circle cx="448.9" cy="90.4" r="1.75"/><circle cx="458.9" cy="110.3" r="1.75"/><circle cx="461.9" cy="160.4" r="1.75"/><circle cx="496.6" cy="187.5" r="1.75"/><circle cx="559.9" cy="68.5" r="1.75"/><circle cx="568.1" cy="156.1" r="1.75"/><circle cx="572.4" cy="219.3" r="1.75"/><circle cx="630.4" cy="128.7" r="1.75"/><circle cx="529.5" cy="34.0" r="1.75"/><circle cx="638.6" cy="161.6" r="1.75"/><circle cx="551.9" cy="63.2" r="1.75"/><circle cx="520.8" cy="46.0" r="1.75"/><circle cx="477.6" cy="174.2" r="1.75"/><circle cx="587.5" cy="165.5" r="1.75"/><circle cx="633.2" cy="66.9" r="1.75"/><circle cx="570.2" cy="196.1" r="1.75"/><circle cx="483.2" cy="140.4" r="1.75"/><circle cx="432.0" cy="85.2" r="1.75"/><circle cx="465.5" cy="193.9" r="1.75"/><circle cx="524.6" cy="170.1" r="1.75"/><circle cx="516.5" cy="207.8" r="1.75"/><circle cx="523.0" cy="75.9" r="1.75"/><circle cx="578.7" cy="91.2" r="1.75"/><circle cx="504.3" cy="110.8" r="1.75"/><circle cx="579.2" cy="127.0" r="1.75"/><circle cx="550.7" cy="213.2" r="1.75"/><circle cx="587.4" cy="65.7" r="1.75"/><circle cx="454.8" cy="63.3" r="1.75"/><circle cx="453.1" cy="60.9" r="1.75"/><circle cx="489.0" cy="183.4" r="1.75"/><circle cx="555.5" cy="42.1" r="1.75"/><circle cx="602.6" cy="155.6" r="1.75"/><circle cx="499.7" cy="166.8" r="1.75"/><circle cx="499.5" cy="14.1" r="1.75"/><circle cx="598.5" cy="75.1" r="1.75"/><circle cx="457.7" cy="148.0" r="1.75"/><circle cx="538.0" cy="93.9" r="1.75"/><circle cx="588.4" cy="173.5" r="1.75"/><circle cx="434.0" cy="95.0" r="1.75"/><circle cx="621.6" cy="160.6" r="1.75"/><circle cx="559.1" cy="189.4" r="1.75"/><circle cx="581.4" cy="116.7" r="1.75"/><circle cx="618.4" cy="52.9" r="1.75"/><circle cx="439.6" cy="87.0" r="1.75"/><circle cx="456.4" cy="42.3" r="1.75"/><circle cx="411.0" cy="122.5" r="1.75"/><circle cx="604.6" cy="126.0" r="1.75"/><circle cx="550.7" cy="156.2" r="1.75"/><circle cx="466.2" cy="125.4" r="1.75"/><circle cx="451.7" cy="202.4" r="1.75"/><circle cx="505.1" cy="203.0" r="1.75"/><circle cx="593.4" cy="57.4" r="1.75"/><circle cx="446.1" cy="99.4" r="1.75"/><circle cx="490.5" cy="82.8" r="1.75"/><circle cx="628.6" cy="116.8" r="1.75"/><circle cx="494.8" cy="145.5" r="1.75"/><circle cx="591.1" cy="116.3" r="1.75"/><circle cx="520.2" cy="31.7" r="1.75"/><circle cx="428.0" cy="99.2" r="1.75"/><circle cx="646.6" cy="101.7" r="1.75"/><circle cx="569.2" cy="177.0" r="1.75"/><circle cx="467.7" cy="80.1" r="1.75"/><circle cx="560.7" cy="154.9" r="1.75"/><circle cx="502.6" cy="232.7" r="1.75"/><circle cx="490.7" cy="189.0" r="1.75"/><circle cx="551.4" cy="227.0" r="1.75"/><circle cx="473.7" cy="86.1" r="1.75"/><circle cx="587.2" cy="197.8" r="1.75"/><circle cx="491.8" cy="157.8" r="1.75"/><circle cx="604.8" cy="103.3" r="1.75"/><circle cx="461.8" cy="162.1" r="1.75"/><circle cx="623.7" cy="149.5" r="1.75"/><circle cx="470.7" cy="216.9" r="1.75"/><circle cx="450.7" cy="167.3" r="1.75"/><circle cx="611.8" cy="184.9" r="1.75"/><circle cx="600.4" cy="157.0" r="1.75"/><circle cx="569.8" cy="172.2" r="1.75"/><circle cx="577.2" cy="195.5" r="1.75"/><circle cx="525.8" cy="223.5" r="1.75"/><circle cx="417.8" cy="111.4" r="1.75"/><circle cx="439.9" cy="110.8" r="1.75"/><circle cx="521.0" cy="7.6" r="1.75"/><circle cx="621.3" cy="170.2" r="1.75"/><circle cx="625.4" cy="161.2" r="1.75"/><circle cx="619.3" cy="180.3" r="1.75"/><circle cx="610.9" cy="91.5" r="1.75"/><circle cx="435.7" cy="182.0" r="1.75"/><circle cx="534.1" cy="136.4" r="1.75"/><circle cx="615.9" cy="87.6" r="1.75"/><circle cx="443.0" cy="168.6" r="1.75"/><circle cx="463.0" cy="171.7" r="1.75"/><circle cx="447.3" cy="112.6" r="1.75"/><circle cx="501.9" cy="224.4" r="1.75"/><circle cx="564.3" cy="234.7" r="1.75"/><circle cx="555.7" cy="82.7" r="1.75"/><circle cx="595.3" cy="160.4" r="1.75"/><circle cx="529.2" cy="20.8" r="1.75"/><circle cx="427.0" cy="160.6" r="1.75"/><circle cx="457.6" cy="30.7" r="1.75"/><circle cx="568.3" cy="184.8" r="1.75"/><circle cx="487.3" cy="26.4" r="1.75"/><circle cx="612.1" cy="179.6" r="1.75"/><circle cx="473.6" cy="180.4" r="1.75"/><circle cx="461.5" cy="175.8" r="1.75"/><circle cx="503.9" cy="13.3" r="1.75"/><circle cx="589.7" cy="69.0" r="1.75"/><circle cx="485.8" cy="196.8" r="1.75"/><circle cx="592.5" cy="109.5" r="1.75"/><circle cx="458.1" cy="72.4" r="1.75"/><circle cx="562.0" cy="53.2" r="1.75"/><circle cx="502.9" cy="47.6" r="1.75"/><circle cx="457.1" cy="184.1" r="1.75"/><circle cx="547.5" cy="77.0" r="1.75"/><circle cx="562.7" cy="17.4" r="1.75"/><circle cx="577.7" cy="140.6" r="1.75"/><circle cx="537.4" cy="61.8" r="1.75"/><circle cx="609.0" cy="123.8" r="1.75"/><circle cx="573.4" cy="143.7" r="1.75"/><circle cx="599.3" cy="60.4" r="1.75"/><circle cx="527.4" cy="234.2" r="1.75"/><circle cx="445.9" cy="79.9" r="1.75"/><circle cx="577.6" cy="149.1" r="1.75"/><circle cx="543.5" cy="43.0" r="1.75"/><circle cx="502.0" cy="228.6" r="1.75"/><circle cx="615.7" cy="98.6" r="1.75"/><circle cx="494.7" cy="199.9" r="1.75"/><circle cx="501.0" cy="181.6" r="1.75"/><circle cx="613.7" cy="145.6" r="1.75"/><circle cx="529.7" cy="12.3" r="1.75"/><circle cx="559.4" cy="72.3" r="1.75"/><circle cx="508.8" cy="235.9" r="1.75"/><circle cx="481.4" cy="63.7" r="1.75"/><circle cx="480.7" cy="205.2" r="1.75"/><circle cx="504.0" cy="214.2" r="1.75"/><circle cx="525.6" cy="203.2" r="1.75"/><circle cx="458.9" cy="113.7" r="1.75"/><circle cx="520.3" cy="231.8" r="1.75"/><circle cx="574.7" cy="67.1" r="1.75"/><circle cx="461.4" cy="199.2" r="1.75"/><circle cx="566.8" cy="194.2" r="1.75"/><circle cx="625.6" cy="132.2" r="1.75"/><circle cx="640.0" cy="137.4" r="1.75"/><circle cx="435.5" cy="94.0" r="1.75"/><circle cx="519.4" cy="114.4" r="1.75"/><circle cx="504.6" cy="218.0" r="1.75"/><circle cx="492.4" cy="178.7" r="1.75"/><circle cx="427.3" cy="89.6" r="1.75"/><circle cx="493.3" cy="98.0" r="1.75"/><circle cx="569.8" cy="213.7" r="1.75"/><circle cx="630.0" cy="104.6" r="1.75"/><circle cx="470.6" cy="23.7" r="1.75"/><circle cx="469.2" cy="109.3" r="1.75"/><circle cx="614.1" cy="90.2" r="1.75"/><circle cx="470.0" cy="119.1" r="1.75"/><circle cx="625.7" cy="88.5" r="1.75"/><circle cx="545.1" cy="121.6" r="1.75"/><circle cx="609.1" cy="117.8" r="1.75"/><circle cx="432.4" cy="125.4" r="1.75"/><circle cx="475.4" cy="59.8" r="1.75"/><circle cx="574.9" cy="37.6" r="1.75"/><circle cx="451.6" cy="161.9" r="1.75"/><circle cx="443.3" cy="52.9" r="1.75"/><circle cx="571.9" cy="142.1" r="1.75"/><circle cx="482.7" cy="119.8" r="1.75"/><circle cx="501.2" cy="144.9" r="1.75"/><circle cx="574.8" cy="30.6" r="1.75"/><circle cx="560.9" cy="188.4" r="1.75"/><circle cx="496.1" cy="114.5" r="1.75"/><circle cx="534.6" cy="76.7" r="1.75"/><circle cx="554.5" cy="44.3" r="1.75"/><circle cx="582.0" cy="178.7" r="1.75"/><circle cx="530.9" cy="19.0" r="1.75"/><circle cx="448.3" cy="105.8" r="1.75"/><circle cx="597.5" cy="181.0" r="1.75"/><circle cx="568.4" cy="101.3" r="1.75"/><circle cx="501.5" cy="182.1" r="1.75"/><circle cx="475.5" cy="150.1" r="1.75"/><circle cx="617.8" cy="128.5" r="1.75"/><circle cx="554.8" cy="143.1" r="1.75"/><circle cx="455.4" cy="88.0" r="1.75"/><circle cx="573.3" cy="190.4" r="1.75"/><circle cx="457.4" cy="196.5" r="1.75"/><circle cx="493.9" cy="161.1" r="1.75"/><circle cx="572.7" cy="51.3" r="1.75"/><circle cx="508.9" cy="23.9" r="1.75"/><circle cx="565.0" cy="70.2" r="1.75"/><circle cx="603.8" cy="48.4" r="1.75"/><circle cx="568.7" cy="101.2" r="1.75"/><circle cx="467.7" cy="221.5" r="1.75"/><circle cx="473.3" cy="177.7" r="1.75"/><circle cx="574.0" cy="90.4" r="1.75"/><circle cx="488.8" cy="78.6" r="1.75"/><circle cx="471.1" cy="172.3" r="1.75"/><circle cx="488.6" cy="82.0" r="1.75"/><circle cx="559.8" cy="229.3" r="1.75"/><circle cx="492.2" cy="139.8" r="1.75"/><circle cx="546.2" cy="145.5" r="1.75"/><circle cx="532.4" cy="160.9" r="1.75"/><circle cx="474.1" cy="132.5" r="1.75"/><circle cx="574.4" cy="163.9" r="1.75"/><circle cx="444.0" cy="91.0" r="1.75"/><circle cx="567.6" cy="97.0" r="1.75"/><circle cx="535.2" cy="203.6" r="1.75"/><circle cx="468.3" cy="124.4" r="1.75"/><circle cx="509.7" cy="102.8" r="1.75"/><circle cx="538.5" cy="194.4" r="1.75"/><circle cx="541.7" cy="108.4" r="1.75"/><circle cx="611.1" cy="37.6" r="1.75"/><circle cx="459.5" cy="200.2" r="1.75"/><circle cx="517.4" cy="127.8" r="1.75"/><circle cx="619.9" cy="114.1" r="1.75"/><circle cx="608.1" cy="133.7" r="1.75"/><circle cx="597.8" cy="41.0" r="1.75"/><circle cx="449.8" cy="101.8" r="1.75"/><circle cx="520.1" cy="113.0" r="1.75"/><circle cx="500.5" cy="132.3" r="1.75"/><circle cx="476.8" cy="58.5" r="1.75"/><circle cx="439.1" cy="159.2" r="1.75"/><circle cx="637.9" cy="174.6" r="1.75"/><circle cx="632.5" cy="128.4" r="1.75"/><circle cx="583.6" cy="188.2" r="1.75"/><circle cx="466.4" cy="81.6" r="1.75"/><circle cx="615.4" cy="133.8" r="1.75"/><circle cx="498.6" cy="156.8" r="1.75"/><circle cx="483.2" cy="48.8" r="1.75"/><circle cx="482.1" cy="62.5" r="1.75"/><circle cx="464.4" cy="35.1" r="1.75"/><circle cx="453.9" cy="160.4" r="1.75"/><circle cx="495.0" cy="233.9" r="1.75"/><circle cx="457.5" cy="187.3" r="1.75"/><circle cx="567.6" cy="191.9" r="1.75"/><circle cx="598.5" cy="57.5" r="1.75"/><circle cx="504.5" cy="54.5" r="1.75"/><circle cx="527.9" cy="120.2" r="1.75"/><circle cx="428.4" cy="109.1" r="1.75"/><circle cx="471.2" cy="64.8" r="1.75"/><circle cx="505.5" cy="172.7" r="1.75"/><circle cx="438.9" cy="160.9" r="1.75"/><circle cx="625.5" cy="152.4" r="1.75"/><circle cx="544.9" cy="175.9" r="1.75"/><circle cx="547.4" cy="119.4" r="1.75"/><circle cx="557.0" cy="9.5" r="1.75"/><circle cx="441.6" cy="125.8" r="1.75"/><circle cx="559.7" cy="188.3" r="1.75"/><circle cx="447.8" cy="58.1" r="1.75"/><circle cx="534.9" cy="101.7" r="1.75"/><circle cx="505.8" cy="54.3" r="1.75"/><circle cx="550.0" cy="194.0" r="1.75"/><circle cx="409.9" cy="120.6" r="1.75"/><circle cx="465.3" cy="190.4" r="1.75"/><circle cx="620.9" cy="60.0" r="1.75"/><circle cx="618.0" cy="207.8" r="1.75"/><circle cx="476.0" cy="147.0" r="1.75"/><circle cx="540.1" cy="176.9" r="1.75"/><circle cx="546.1" cy="148.6" r="1.75"/><circle cx="601.8" cy="161.2" r="1.75"/><circle cx="417.3" cy="132.3" r="1.75"/><circle cx="629.6" cy="77.8" r="1.75"/><circle cx="577.6" cy="60.7" r="1.75"/><circle cx="510.1" cy="51.7" r="1.75"/><circle cx="520.3" cy="46.2" r="1.75"/><circle cx="558.3" cy="117.3" r="1.75"/><circle cx="456.2" cy="142.9" r="1.75"/><circle cx="487.2" cy="177.6" r="1.75"/><circle cx="502.3" cy="205.8" r="1.75"/><circle cx="545.3" cy="63.4" r="1.75"/><circle cx="525.2" cy="86.9" r="1.75"/><circle cx="638.0" cy="171.0" r="1.75"/><circle cx="426.4" cy="167.4" r="1.75"/><circle cx="530.0" cy="171.2" r="1.75"/><circle cx="560.7" cy="216.5" r="1.75"/><circle cx="536.1" cy="151.7" r="1.75"/><circle cx="489.4" cy="177.3" r="1.75"/><circle cx="508.4" cy="62.7" r="1.75"/><circle cx="633.7" cy="180.8" r="1.75"/><circle cx="455.0" cy="210.3" r="1.75"/><circle cx="535.3" cy="165.5" r="1.75"/><circle cx="575.4" cy="28.8" r="1.75"/><circle cx="630.3" cy="68.4" r="1.75"/><circle cx="635.8" cy="115.0" r="1.75"/><circle cx="505.0" cy="46.0" r="1.75"/><circle cx="523.1" cy="132.7" r="1.75"/><circle cx="551.1" cy="92.6" r="1.75"/><circle cx="450.3" cy="88.2" r="1.75"/><circle cx="610.1" cy="181.5" r="1.75"/><circle cx="455.1" cy="125.4" r="1.75"/><circle cx="613.3" cy="152.2" r="1.75"/><circle cx="548.7" cy="81.4" r="1.75"/><circle cx="633.8" cy="141.8" r="1.75"/><circle cx="462.2" cy="137.3" r="1.75"/><circle cx="467.8" cy="154.6" r="1.75"/><circle cx="541.8" cy="242.8" r="1.75"/><circle cx="586.0" cy="128.3" r="1.75"/><circle cx="507.7" cy="204.3" r="1.75"/><circle cx="493.4" cy="148.0" r="1.75"/><circle cx="608.2" cy="156.6" r="1.75"/><circle cx="565.5" cy="99.0" r="1.75"/><circle cx="535.1" cy="99.8" r="1.75"/><circle cx="614.7" cy="68.8" r="1.75"/><circle cx="445.2" cy="125.4" r="1.75"/><circle cx="464.8" cy="159.9" r="1.75"/><circle cx="454.7" cy="135.5" r="1.75"/><circle cx="548.5" cy="47.0" r="1.75"/><circle cx="423.8" cy="166.8" r="1.75"/><circle cx="642.5" cy="100.1" r="1.75"/><circle cx="598.4" cy="92.2" r="1.75"/><circle cx="599.5" cy="98.8" r="1.75"/><circle cx="558.4" cy="29.0" r="1.75"/><circle cx="555.7" cy="172.3" r="1.75"/><circle cx="461.1" cy="136.0" r="1.75"/><circle cx="453.6" cy="193.2" r="1.75"/><circle cx="424.7" cy="165.6" r="1.75"/><circle cx="431.4" cy="103.5" r="1.75"/><circle cx="534.9" cy="169.2" r="1.75"/><circle cx="578.1" cy="19.9" r="1.75"/><circle cx="603.0" cy="141.5" r="1.75"/><circle cx="592.8" cy="223.6" r="1.75"/><circle cx="604.2" cy="167.9" r="1.75"/><circle cx="514.7" cy="30.0" r="1.75"/><circle cx="582.3" cy="137.0" r="1.75"/><circle cx="470.3" cy="58.4" r="1.75"/><circle cx="641.4" cy="92.1" r="1.75"/><circle cx="527.8" cy="210.9" r="1.75"/><circle cx="566.1" cy="225.4" r="1.75"/><circle cx="563.7" cy="184.1" r="1.75"/><circle cx="471.2" cy="147.2" r="1.75"/><circle cx="520.2" cy="138.1" r="1.75"/><circle cx="487.3" cy="162.9" r="1.75"/><circle cx="430.6" cy="130.3" r="1.75"/><circle cx="576.1" cy="236.7" r="1.75"/><circle cx="558.4" cy="174.2" r="1.75"/><circle cx="513.4" cy="176.1" r="1.75"/><circle cx="509.6" cy="162.4" r="1.75"/><circle cx="429.5" cy="90.0" r="1.75"/><circle cx="446.8" cy="129.8" r="1.75"/><circle cx="554.3" cy="33.3" r="1.75"/><circle cx="574.4" cy="198.5" r="1.75"/><circle cx="540.1" cy="212.1" r="1.75"/><circle cx="547.2" cy="102.6" r="1.75"/><circle cx="561.2" cy="185.8" r="1.75"/><circle cx="598.0" cy="142.2" r="1.75"/><circle cx="437.9" cy="166.6" r="1.75"/><circle cx="434.3" cy="93.1" r="1.75"/><circle cx="566.8" cy="124.2" r="1.75"/><circle cx="615.7" cy="89.4" r="1.75"/><circle cx="584.3" cy="159.9" r="1.75"/><circle cx="607.4" cy="83.3" r="1.75"/><circle cx="517.6" cy="83.1" r="1.75"/><circle cx="573.0" cy="103.8" r="1.75"/><circle cx="614.4" cy="90.7" r="1.75"/><circle cx="497.5" cy="63.3" r="1.75"/><circle cx="566.0" cy="207.0" r="1.75"/><circle cx="490.5" cy="17.1" r="1.75"/><circle cx="518.4" cy="130.2" r="1.75"/><circle cx="466.3" cy="146.2" r="1.75"/><circle cx="454.6" cy="41.3" r="1.75"/><circle cx="548.2" cy="60.8" r="1.75"/><circle cx="564.2" cy="101.1" r="1.75"/><circle cx="592.4" cy="36.3" r="1.75"/><circle cx="434.7" cy="176.2" r="1.75"/><circle cx="518.3" cy="25.1" r="1.75"/><circle cx="590.0" cy="164.7" r="1.75"/><circle cx="496.4" cy="48.8" r="1.75"/><circle cx="508.0" cy="224.0" r="1.75"/><circle cx="455.3" cy="131.0" r="1.75"/><circle cx="480.5" cy="185.9" r="1.75"/><circle cx="482.4" cy="71.3" r="1.75"/><circle cx="552.1" cy="64.6" r="1.75"/><circle cx="576.3" cy="178.0" r="1.75"/><circle cx="441.3" cy="51.1" r="1.75"/><circle cx="512.5" cy="201.1" r="1.75"/><circle cx="480.9" cy="30.6" r="1.75"/><circle cx="581.4" cy="199.6" r="1.75"/><circle cx="536.1" cy="218.8" r="1.75"/><circle cx="603.2" cy="189.8" r="1.75"/><circle cx="597.0" cy="187.4" r="1.75"/><circle cx="541.1" cy="127.0" r="1.75"/><circle cx="631.3" cy="65.0" r="1.75"/><circle cx="612.7" cy="110.4" r="1.75"/><circle cx="524.9" cy="216.8" r="1.75"/><circle cx="579.9" cy="189.9" r="1.75"/><circle cx="544.8" cy="149.9" r="1.75"/><circle cx="509.1" cy="191.8" r="1.75"/><circle cx="492.1" cy="59.1" r="1.75"/><circle cx="473.9" cy="104.5" r="1.75"/><circle cx="556.4" cy="165.2" r="1.75"/><circle cx="601.3" cy="189.5" r="1.75"/><circle cx="591.5" cy="107.1" r="1.75"/><circle cx="536.9" cy="115.2" r="1.75"/><circle cx="577.8" cy="110.9" r="1.75"/><circle cx="454.6" cy="59.5" r="1.75"/><circle cx="629.5" cy="170.9" r="1.75"/><circle cx="595.9" cy="119.3" r="1.75"/><circle cx="430.6" cy="185.1" r="1.75"/><circle cx="586.2" cy="160.1" r="1.75"/><circle cx="561.1" cy="107.5" r="1.75"/><circle cx="572.5" cy="219.5" r="1.75"/><circle cx="555.9" cy="143.6" r="1.75"/><circle cx="562.7" cy="29.9" r="1.75"/><circle cx="619.6" cy="199.2" r="1.75"/><circle cx="494.7" cy="158.1" r="1.75"/><circle cx="582.8" cy="79.8" r="1.75"/><circle cx="462.2" cy="117.1" r="1.75"/><circle cx="527.6" cy="202.6" r="1.75"/><circle cx="582.3" cy="89.3" r="1.75"/><circle cx="606.2" cy="86.4" r="1.75"/><circle cx="488.7" cy="152.6" r="1.75"/><circle cx="537.9" cy="118.2" r="1.75"/><circle cx="525.9" cy="68.8" r="1.75"/><circle cx="527.9" cy="130.5" r="1.75"/><circle cx="550.4" cy="192.0" r="1.75"/><circle cx="486.1" cy="159.5" r="1.75"/><circle cx="441.8" cy="64.8" r="1.75"/><circle cx="485.5" cy="209.1" r="1.75"/><circle cx="603.8" cy="169.0" r="1.75"/><circle cx="505.3" cy="231.3" r="1.75"/><circle cx="581.6" cy="37.3" r="1.75"/><circle cx="431.6" cy="88.9" r="1.75"/><circle cx="513.1" cy="187.5" r="1.75"/><circle cx="597.7" cy="97.2" r="1.75"/><circle cx="533.2" cy="196.3" r="1.75"/><circle cx="598.0" cy="95.4" r="1.75"/><circle cx="463.1" cy="116.8" r="1.75"/><circle cx="586.0" cy="141.0" r="1.75"/><circle cx="550.3" cy="71.8" r="1.75"/><circle cx="463.5" cy="102.5" r="1.75"/><circle cx="461.2" cy="189.0" r="1.75"/><circle cx="627.3" cy="94.2" r="1.75"/><circle cx="463.8" cy="64.2" r="1.75"/><circle cx="437.9" cy="111.7" r="1.75"/><circle cx="565.8" cy="117.6" r="1.75"/><circle cx="505.1" cy="26.9" r="1.75"/><circle cx="603.3" cy="205.6" r="1.75"/><circle cx="468.7" cy="173.5" r="1.75"/><circle cx="554.2" cy="99.0" r="1.75"/><circle cx="503.8" cy="221.3" r="1.75"/><circle cx="443.4" cy="139.7" r="1.75"/><circle cx="528.8" cy="8.2" r="1.75"/><circle cx="580.9" cy="152.3" r="1.75"/><circle cx="445.9" cy="115.9" r="1.75"/><circle cx="526.8" cy="134.1" r="1.75"/><circle cx="505.3" cy="215.7" r="1.75"/><circle cx="502.6" cy="201.7" r="1.75"/><circle cx="515.9" cy="45.3" r="1.75"/><circle cx="466.2" cy="161.1" r="1.75"/><circle cx="566.1" cy="220.3" r="1.75"/><circle cx="558.0" cy="169.1" r="1.75"/><circle cx="590.4" cy="135.3" r="1.75"/><circle cx="623.6" cy="128.7" r="1.75"/><circle cx="557.4" cy="122.9" r="1.75"/><circle cx="587.0" cy="182.5" r="1.75"/><circle cx="527.2" cy="34.4" r="1.75"/><circle cx="580.6" cy="213.0" r="1.75"/><circle cx="553.3" cy="69.9" r="1.75"/><circle cx="587.3" cy="159.1" r="1.75"/><circle cx="453.5" cy="149.7" r="1.75"/><circle cx="558.1" cy="31.2" r="1.75"/><circle cx="479.7" cy="159.0" r="1.75"/><circle cx="618.0" cy="138.5" r="1.75"/><circle cx="574.6" cy="145.5" r="1.75"/><circle cx="522.9" cy="95.8" r="1.75"/><circle cx="528.7" cy="150.4" r="1.75"/><circle cx="457.0" cy="47.0" r="1.75"/><circle cx="542.7" cy="194.0" r="1.75"/><circle cx="488.4" cy="231.7" r="1.75"/><circle cx="446.7" cy="108.4" r="1.75"/><circle cx="563.4" cy="207.5" r="1.75"/><circle cx="506.2" cy="146.7" r="1.75"/><circle cx="515.9" cy="111.9" r="1.75"/><circle cx="457.2" cy="87.6" r="1.75"/><circle cx="511.4" cy="209.3" r="1.75"/><circle cx="450.5" cy="194.3" r="1.75"/><circle cx="598.7" cy="124.1" r="1.75"/><circle cx="559.5" cy="233.6" r="1.75"/><circle cx="554.3" cy="66.7" r="1.75"/><circle cx="606.2" cy="163.4" r="1.75"/><circle cx="533.4" cy="194.9" r="1.75"/><circle cx="572.0" cy="131.1" r="1.75"/><circle cx="558.4" cy="206.1" r="1.75"/><circle cx="622.0" cy="130.2" r="1.75"/><circle cx="508.1" cy="125.9" r="1.75"/><circle cx="555.0" cy="122.5" r="1.75"/><circle cx="575.1" cy="180.2" r="1.75"/><circle cx="433.5" cy="121.5" r="1.75"/><circle cx="610.8" cy="164.6" r="1.75"/><circle cx="640.1" cy="118.2" r="1.75"/><circle cx="554.0" cy="25.2" r="1.75"/><circle cx="530.7" cy="182.4" r="1.75"/><circle cx="600.5" cy="195.6" r="1.75"/><circle cx="502.1" cy="9.5" r="1.75"/><circle cx="566.7" cy="79.7" r="1.75"/><circle cx="485.0" cy="175.4" r="1.75"/><circle cx="519.1" cy="198.2" r="1.75"/><circle cx="428.8" cy="184.6" r="1.75"/><circle cx="550.5" cy="87.1" r="1.75"/><circle cx="593.0" cy="49.7" r="1.75"/><circle cx="436.2" cy="102.0" r="1.75"/><circle cx="567.5" cy="167.2" r="1.75"/><circle cx="479.8" cy="58.6" r="1.75"/><circle cx="440.5" cy="136.3" r="1.75"/><circle cx="533.0" cy="187.6" r="1.75"/><circle cx="484.3" cy="120.0" r="1.75"/><circle cx="574.5" cy="37.2" r="1.75"/><circle cx="526.7" cy="86.8" r="1.75"/><circle cx="456.8" cy="133.8" r="1.75"/><circle cx="465.8" cy="193.8" r="1.75"/><circle cx="561.9" cy="219.1" r="1.75"/><circle cx="616.4" cy="143.0" r="1.75"/><circle cx="555.4" cy="178.5" r="1.75"/><circle cx="505.1" cy="185.4" r="1.75"/><circle cx="632.1" cy="105.9" r="1.75"/><circle cx="494.4" cy="151.7" r="1.75"/><circle cx="441.8" cy="145.7" r="1.75"/><circle cx="557.1" cy="150.0" r="1.75"/><circle cx="498.2" cy="155.2" r="1.75"/><circle cx="481.8" cy="43.5" r="1.75"/><circle cx="518.1" cy="93.6" r="1.75"/><circle cx="505.2" cy="20.3" r="1.75"/><circle cx="497.9" cy="233.4" r="1.75"/><circle cx="507.7" cy="173.0" r="1.75"/><circle cx="630.8" cy="94.1" r="1.75"/><circle cx="422.9" cy="142.1" r="1.75"/><circle cx="475.6" cy="162.6" r="1.75"/><circle cx="535.2" cy="234.3" r="1.75"/><circle cx="594.2" cy="198.7" r="1.75"/><circle cx="532.5" cy="195.2" r="1.75"/><circle cx="510.3" cy="95.6" r="1.75"/><circle cx="467.8" cy="157.6" r="1.75"/><circle cx="493.3" cy="87.7" r="1.75"/><circle cx="453.0" cy="53.0" r="1.75"/><circle cx="575.6" cy="226.2" r="1.75"/><circle cx="595.5" cy="175.8" r="1.75"/><circle cx="524.2" cy="74.0" r="1.75"/><circle cx="500.8" cy="211.6" r="1.75"/><circle cx="544.8" cy="203.5" r="1.75"/><circle cx="498.4" cy="92.8" r="1.75"/><circle cx="505.6" cy="71.0" r="1.75"/><circle cx="496.2" cy="124.2" r="1.75"/><circle cx="503.2" cy="56.0" r="1.75"/><circle cx="601.2" cy="72.6" r="1.75"/><circle cx="600.6" cy="140.4" r="1.75"/><circle cx="500.8" cy="213.4" r="1.75"/><circle cx="475.9" cy="60.3" r="1.75"/><circle cx="517.1" cy="99.8" r="1.75"/><circle cx="511.9" cy="57.9" r="1.75"/><circle cx="455.2" cy="160.5" r="1.75"/><circle cx="559.0" cy="44.6" r="1.75"/><circle cx="498.2" cy="168.6" r="1.75"/><circle cx="522.1" cy="134.0" r="1.75"/><circle cx="540.0" cy="132.2" r="1.75"/><circle cx="493.9" cy="39.8" r="1.75"/><circle cx="543.5" cy="177.8" r="1.75"/><circle cx="455.6" cy="165.3" r="1.75"/><circle cx="518.2" cy="53.7" r="1.75"/><circle cx="504.0" cy="171.9" r="1.75"/><circle cx="556.6" cy="74.6" r="1.75"/><circle cx="543.5" cy="210.8" r="1.75"/><circle cx="430.7" cy="176.7" r="1.75"/><circle cx="622.0" cy="127.8" r="1.75"/><circle cx="459.0" cy="206.6" r="1.75"/><circle cx="525.5" cy="93.6" r="1.75"/><circle cx="601.5" cy="58.0" r="1.75"/><circle cx="624.7" cy="53.8" r="1.75"/><circle cx="581.5" cy="189.1" r="1.75"/><circle cx="609.5" cy="201.7" r="1.75"/><circle cx="618.3" cy="145.9" r="1.75"/><circle cx="498.3" cy="81.2" r="1.75"/><circle cx="464.3" cy="202.7" r="1.75"/><circle cx="578.0" cy="203.0" r="1.75"/><circle cx="471.5" cy="30.3" r="1.75"/><circle cx="600.2" cy="144.3" r="1.75"/><circle cx="459.4" cy="147.0" r="1.75"/><circle cx="486.7" cy="172.7" r="1.75"/><circle cx="543.5" cy="167.7" r="1.75"/><circle cx="473.3" cy="103.1" r="1.75"/><circle cx="618.0" cy="91.8" r="1.75"/><circle cx="542.0" cy="71.6" r="1.75"/><circle cx="561.7" cy="153.6" r="1.75"/><circle cx="596.2" cy="166.1" r="1.75"/><circle cx="489.6" cy="193.8" r="1.75"/><circle cx="558.6" cy="99.5" r="1.75"/><circle cx="638.4" cy="106.0" r="1.75"/><circle cx="538.0" cy="147.1" r="1.75"/><circle cx="622.3" cy="72.0" r="1.75"/><circle cx="510.4" cy="21.0" r="1.75"/><circle cx="573.0" cy="65.9" r="1.75"/><circle cx="503.1" cy="202.5" r="1.75"/><circle cx="465.7" cy="192.0" r="1.75"/><circle cx="579.7" cy="18.1" r="1.75"/><circle cx="458.0" cy="122.4" r="1.75"/><circle cx="477.2" cy="21.7" r="1.75"/><circle cx="642.5" cy="110.5" r="1.75"/><circle cx="469.5" cy="186.6" r="1.75"/><circle cx="439.5" cy="158.3" r="1.75"/><circle cx="521.5" cy="120.7" r="1.75"/><circle cx="608.7" cy="182.7" r="1.75"/><circle cx="567.2" cy="71.2" r="1.75"/><circle cx="547.5" cy="154.6" r="1.75"/><circle cx="478.6" cy="225.5" r="1.75"/><circle cx="485.1" cy="131.3" r="1.75"/><circle cx="580.0" cy="25.8" r="1.75"/><circle cx="445.4" cy="199.1" r="1.75"/><circle cx="538.9" cy="169.1" r="1.75"/><circle cx="595.0" cy="159.7" r="1.75"/><circle cx="550.9" cy="172.4" r="1.75"/><circle cx="595.6" cy="154.9" r="1.75"/><circle cx="629.7" cy="155.9" r="1.75"/><circle cx="585.2" cy="83.4" r="1.75"/><circle cx="497.4" cy="212.0" r="1.75"/><circle cx="500.7" cy="203.5" r="1.75"/><circle cx="490.7" cy="27.4" r="1.75"/><circle cx="468.5" cy="125.9" r="1.75"/><circle cx="562.0" cy="16.8" r="1.75"/><circle cx="560.6" cy="208.2" r="1.75"/><circle cx="478.3" cy="99.5" r="1.75"/><circle cx="435.1" cy="95.8" r="1.75"/><circle cx="570.8" cy="79.6" r="1.75"/><circle cx="604.1" cy="102.2" r="1.75"/><circle cx="614.2" cy="176.7" r="1.75"/><circle cx="481.3" cy="22.1" r="1.75"/><circle cx="435.0" cy="128.2" r="1.75"/><circle cx="568.0" cy="144.0" r="1.75"/><circle cx="514.3" cy="192.9" r="1.75"/><circle cx="460.5" cy="131.4" r="1.75"/><circle cx="438.5" cy="105.2" r="1.75"/><circle cx="534.3" cy="96.3" r="1.75"/><circle cx="600.5" cy="115.1" r="1.75"/><circle cx="467.0" cy="180.5" r="1.75"/><circle cx="564.4" cy="166.6" r="1.75"/><circle cx="610.2" cy="96.0" r="1.75"/><circle cx="614.8" cy="186.0" r="1.75"/><circle cx="608.4" cy="85.1" r="1.75"/><circle cx="497.3" cy="227.2" r="1.75"/><circle cx="499.1" cy="64.4" r="1.75"/><circle cx="469.9" cy="167.1" r="1.75"/><circle cx="595.2" cy="113.1" r="1.75"/><circle cx="469.1" cy="121.2" r="1.75"/><circle cx="475.7" cy="138.6" r="1.75"/><circle cx="510.1" cy="81.8" r="1.75"/><circle cx="515.3" cy="27.0" r="1.75"/><circle cx="587.6" cy="157.5" r="1.75"/><circle cx="606.7" cy="85.5" r="1.75"/><circle cx="453.9" cy="82.5" r="1.75"/><circle cx="571.5" cy="175.7" r="1.75"/><circle cx="500.0" cy="122.4" r="1.75"/><circle cx="627.7" cy="108.9" r="1.75"/><circle cx="600.5" cy="99.2" r="1.75"/><circle cx="521.4" cy="29.0" r="1.75"/><circle cx="538.8" cy="187.5" r="1.75"/><circle cx="587.2" cy="96.9" r="1.75"/><circle cx="494.1" cy="125.8" r="1.75"/><circle cx="595.2" cy="203.7" r="1.75"/><circle cx="480.5" cy="146.9" r="1.75"/><circle cx="580.2" cy="59.3" r="1.75"/><circle cx="573.2" cy="140.6" r="1.75"/><circle cx="583.1" cy="105.3" r="1.75"/><circle cx="488.7" cy="83.0" r="1.75"/><circle cx="516.9" cy="54.2" r="1.75"/><circle cx="535.3" cy="30.7" r="1.75"/><circle cx="451.2" cy="204.7" r="1.75"/><circle cx="600.1" cy="205.8" r="1.75"/><circle cx="587.2" cy="133.9" r="1.75"/><circle cx="568.0" cy="43.9" r="1.75"/><circle cx="507.0" cy="31.8" r="1.75"/><circle cx="580.1" cy="163.9" r="1.75"/><circle cx="438.5" cy="65.3" r="1.75"/><circle cx="588.3" cy="103.7" r="1.75"/><circle cx="497.0" cy="149.5" r="1.75"/><circle cx="510.3" cy="117.0" r="1.75"/><circle cx="435.4" cy="168.6" r="1.75"/><circle cx="453.9" cy="121.0" r="1.75"/><circle cx="496.2" cy="45.9" r="1.75"/><circle cx="559.1" cy="229.4" r="1.75"/><circle cx="509.8" cy="181.8" r="1.75"/><circle cx="492.9" cy="216.2" r="1.75"/><circle cx="491.2" cy="83.1" r="1.75"/><circle cx="508.4" cy="70.0" r="1.75"/><circle cx="602.2" cy="199.4" r="1.75"/><circle cx="646.5" cy="127.1" r="1.75"/><circle cx="469.5" cy="83.4" r="1.75"/><circle cx="530.3" cy="53.0" r="1.75"/><circle cx="497.6" cy="51.4" r="1.75"/><circle cx="523.8" cy="194.5" r="1.75"/><circle cx="567.8" cy="77.2" r="1.75"/><circle cx="563.1" cy="198.4" r="1.75"/><circle cx="514.4" cy="30.9" r="1.75"/><circle cx="528.9" cy="234.8" r="1.75"/><circle cx="607.2" cy="65.0" r="1.75"/><circle cx="627.8" cy="111.9" r="1.75"/><circle cx="483.6" cy="184.6" r="1.75"/><circle cx="561.0" cy="54.5" r="1.75"/><circle cx="612.5" cy="115.2" r="1.75"/><circle cx="556.3" cy="194.4" r="1.75"/><circle cx="544.8" cy="185.0" r="1.75"/><circle cx="427.4" cy="170.6" r="1.75"/><circle cx="473.7" cy="168.7" r="1.75"/><circle cx="570.3" cy="193.4" r="1.75"/><circle cx="608.9" cy="151.4" r="1.75"/><circle cx="450.0" cy="123.3" r="1.75"/><circle cx="496.3" cy="235.0" r="1.75"/><circle cx="453.5" cy="133.2" r="1.75"/><circle cx="561.2" cy="73.7" r="1.75"/><circle cx="575.5" cy="168.3" r="1.75"/><circle cx="545.9" cy="140.7" r="1.75"/><circle cx="498.3" cy="150.3" r="1.75"/><circle cx="598.5" cy="208.8" r="1.75"/><circle cx="470.8" cy="181.3" r="1.75"/><circle cx="421.1" cy="105.6" r="1.75"/><circle cx="609.8" cy="182.1" r="1.75"/><circle cx="419.8" cy="103.7" r="1.75"/><circle cx="543.0" cy="112.8" r="1.75"/><circle cx="559.6" cy="191.4" r="1.75"/><circle cx="526.4" cy="94.7" r="1.75"/><circle cx="483.8" cy="14.5" r="1.75"/><circle cx="641.4" cy="102.6" r="1.75"/><circle cx="501.0" cy="114.9" r="1.75"/><circle cx="508.2" cy="220.5" r="1.75"/><circle cx="454.3" cy="159.3" r="1.75"/><circle cx="531.4" cy="193.9" r="1.75"/><circle cx="551.6" cy="49.9" r="1.75"/><circle cx="564.3" cy="84.7" r="1.75"/><circle cx="486.4" cy="188.5" r="1.75"/><circle cx="554.6" cy="66.0" r="1.75"/><circle cx="461.0" cy="195.2" r="1.75"/><circle cx="443.7" cy="69.9" r="1.75"/><circle cx="519.4" cy="167.5" r="1.75"/><circle cx="523.6" cy="203.5" r="1.75"/><circle cx="460.4" cy="76.6" r="1.75"/><circle cx="627.6" cy="185.5" r="1.75"/><circle cx="485.0" cy="181.9" r="1.75"/><circle cx="470.6" cy="192.7" r="1.75"/><circle cx="581.3" cy="215.8" r="1.75"/><circle cx="433.2" cy="99.4" r="1.75"/><circle cx="438.3" cy="132.4" r="1.75"/><circle cx="514.5" cy="71.0" r="1.75"/><circle cx="457.7" cy="66.5" r="1.75"/><circle cx="590.8" cy="220.5" r="1.75"/><circle cx="422.0" cy="96.3" r="1.75"/><circle cx="511.9" cy="64.7" r="1.75"/><circle cx="589.0" cy="216.3" r="1.75"/><circle cx="505.9" cy="40.7" r="1.75"/><circle cx="521.5" cy="171.9" r="1.75"/><circle cx="448.6" cy="130.3" r="1.75"/><circle cx="547.7" cy="213.6" r="1.75"/><circle cx="573.4" cy="156.9" r="1.75"/><circle cx="452.5" cy="126.8" r="1.75"/><circle cx="492.4" cy="63.0" r="1.75"/><circle cx="513.5" cy="127.3" r="1.75"/><circle cx="535.5" cy="98.3" r="1.75"/><circle cx="481.5" cy="39.4" r="1.75"/><circle cx="524.0" cy="151.2" r="1.75"/><circle cx="492.3" cy="83.1" r="1.75"/><circle cx="632.2" cy="146.4" r="1.75"/><circle cx="479.8" cy="46.9" r="1.75"/><circle cx="469.7" cy="138.8" r="1.75"/><circle cx="497.8" cy="213.9" r="1.75"/><circle cx="483.7" cy="44.1" r="1.75"/><circle cx="454.2" cy="164.5" r="1.75"/><circle cx="553.6" cy="176.1" r="1.75"/><circle cx="547.9" cy="48.5" r="1.75"/><circle cx="413.9" cy="118.7" r="1.75"/><circle cx="578.1" cy="165.5" r="1.75"/><circle cx="550.6" cy="176.1" r="1.75"/><circle cx="443.0" cy="93.2" r="1.75"/><circle cx="547.3" cy="26.8" r="1.75"/><circle cx="526.8" cy="148.9" r="1.75"/><circle cx="507.7" cy="224.3" r="1.75"/><circle cx="567.5" cy="107.1" r="1.75"/><circle cx="535.0" cy="210.8" r="1.75"/><circle cx="472.5" cy="135.4" r="1.75"/><circle cx="500.5" cy="198.5" r="1.75"/><circle cx="550.2" cy="128.7" r="1.75"/><circle cx="587.3" cy="56.3" r="1.75"/><circle cx="507.0" cy="37.4" r="1.75"/><circle cx="594.8" cy="154.8" r="1.75"/><circle cx="609.6" cy="73.5" r="1.75"/><circle cx="617.2" cy="95.8" r="1.75"/><circle cx="611.3" cy="156.1" r="1.75"/><circle cx="508.2" cy="74.8" r="1.75"/><circle cx="607.5" cy="118.7" r="1.75"/><circle cx="577.3" cy="202.5" r="1.75"/><circle cx="439.8" cy="184.1" r="1.75"/><circle cx="543.2" cy="65.9" r="1.75"/><circle cx="524.1" cy="81.6" r="1.75"/><circle cx="563.6" cy="46.4" r="1.75"/><circle cx="464.6" cy="219.4" r="1.75"/><circle cx="479.3" cy="187.6" r="1.75"/><circle cx="546.8" cy="94.7" r="1.75"/><circle cx="546.1" cy="69.0" r="1.75"/><circle cx="470.7" cy="131.3" r="1.75"/><circle cx="600.4" cy="131.0" r="1.75"/><circle cx="512.7" cy="61.2" r="1.75"/><circle cx="464.8" cy="81.3" r="1.75"/><circle cx="562.9" cy="82.5" r="1.75"/><circle cx="495.3" cy="225.8" r="1.75"/><circle cx="549.0" cy="89.0" r="1.75"/><circle cx="436.2" cy="85.0" r="1.75"/><circle cx="573.0" cy="191.7" r="1.75"/><circle cx="630.6" cy="95.9" r="1.75"/><circle cx="641.3" cy="124.4" r="1.75"/><circle cx="509.5" cy="186.7" r="1.75"/><circle cx="528.1" cy="141.3" r="1.75"/><circle cx="553.6" cy="154.3" r="1.75"/><circle cx="474.0" cy="112.0" r="1.75"/><circle cx="519.4" cy="146.9" r="1.75"/><circle cx="504.3" cy="184.9" r="1.75"/><circle cx="593.7" cy="178.9" r="1.75"/><circle cx="510.9" cy="222.5" r="1.75"/><circle cx="603.1" cy="182.9" r="1.75"/><circle cx="503.1" cy="186.1" r="1.75"/><circle cx="603.1" cy="146.6" r="1.75"/><circle cx="468.1" cy="38.8" r="1.75"/><circle cx="531.0" cy="85.8" r="1.75"/><circle cx="475.3" cy="195.5" r="1.75"/><circle cx="446.3" cy="71.4" r="1.75"/><circle cx="492.6" cy="95.1" r="1.75"/><circle cx="561.3" cy="40.3" r="1.75"/><circle cx="623.5" cy="122.9" r="1.75"/><circle cx="460.2" cy="73.6" r="1.75"/><circle cx="523.6" cy="183.2" r="1.75"/><circle cx="579.2" cy="113.0" r="1.75"/><circle cx="477.5" cy="210.1" r="1.75"/><circle cx="625.0" cy="122.8" r="1.75"/><circle cx="577.5" cy="84.2" r="1.75"/><circle cx="615.9" cy="58.3" r="1.75"/><circle cx="527.9" cy="166.9" r="1.75"/><circle cx="460.9" cy="96.4" r="1.75"/><circle cx="530.6" cy="184.7" r="1.75"/><circle cx="622.5" cy="98.0" r="1.75"/><circle cx="604.9" cy="178.9" r="1.75"/><circle cx="518.7" cy="186.2" r="1.75"/><circle cx="643.7" cy="95.7" r="1.75"/><circle cx="524.3" cy="191.7" r="1.75"/><circle cx="615.6" cy="132.0" r="1.75"/><circle cx="490.5" cy="154.6" r="1.75"/><circle cx="532.1" cy="168.4" r="1.75"/><circle cx="577.3" cy="124.5" r="1.75"/><circle cx="457.6" cy="90.4" r="1.75"/><circle cx="622.4" cy="144.2" r="1.75"/><circle cx="544.1" cy="230.9" r="1.75"/><circle cx="481.3" cy="185.2" r="1.75"/><circle cx="494.7" cy="27.9" r="1.75"/><circle cx="627.2" cy="116.9" r="1.75"/><circle cx="548.5" cy="81.9" r="1.75"/><circle cx="436.0" cy="171.2" r="1.75"/><circle cx="589.2" cy="35.7" r="1.75"/><circle cx="503.0" cy="38.4" r="1.75"/><circle cx="514.3" cy="78.7" r="1.75"/><circle cx="600.3" cy="85.8" r="1.75"/><circle cx="563.4" cy="105.0" r="1.75"/><circle cx="505.4" cy="73.7" r="1.75"/><circle cx="570.1" cy="224.4" r="1.75"/><circle cx="609.3" cy="165.5" r="1.75"/><circle cx="469.1" cy="207.2" r="1.75"/><circle cx="479.2" cy="160.5" r="1.75"/><circle cx="574.3" cy="205.8" r="1.75"/><circle cx="561.1" cy="112.2" r="1.75"/><circle cx="497.2" cy="188.8" r="1.75"/><circle cx="570.0" cy="118.8" r="1.75"/><circle cx="570.3" cy="116.8" r="1.75"/><circle cx="549.5" cy="73.2" r="1.75"/><circle cx="601.5" cy="96.6" r="1.75"/><circle cx="528.5" cy="19.6" r="1.75"/><circle cx="423.9" cy="137.3" r="1.75"/><circle cx="612.4" cy="146.0" r="1.75"/><circle cx="571.4" cy="173.3" r="1.75"/><circle cx="539.4" cy="35.7" r="1.75"/><circle cx="546.6" cy="45.8" r="1.75"/><circle cx="592.0" cy="107.0" r="1.75"/><circle cx="575.1" cy="86.7" r="1.75"/><circle cx="460.4" cy="126.9" r="1.75"/><circle cx="524.3" cy="83.6" r="1.75"/><circle cx="509.6" cy="105.9" r="1.75"/><circle cx="583.5" cy="177.5" r="1.75"/><circle cx="637.4" cy="88.6" r="1.75"/><circle cx="534.0" cy="224.0" r="1.75"/><circle cx="613.9" cy="167.8" r="1.75"/><circle cx="506.4" cy="133.3" r="1.75"/><circle cx="518.1" cy="228.5" r="1.75"/><circle cx="519.8" cy="224.1" r="1.75"/><circle cx="627.9" cy="121.4" r="1.75"/><circle cx="577.6" cy="64.0" r="1.75"/><circle cx="518.6" cy="161.3" r="1.75"/><circle cx="444.4" cy="95.9" r="1.75"/><circle cx="436.8" cy="83.8" r="1.75"/><circle cx="453.5" cy="47.6" r="1.75"/><circle cx="512.1" cy="29.2" r="1.75"/><circle cx="591.4" cy="169.7" r="1.75"/><circle cx="586.0" cy="50.3" r="1.75"/><circle cx="497.9" cy="52.0" r="1.75"/><circle cx="610.3" cy="103.2" r="1.75"/><circle cx="525.5" cy="140.7" r="1.75"/><circle cx="457.3" cy="85.7" r="1.75"/><circle cx="425.1" cy="136.7" r="1.75"/><circle cx="618.7" cy="48.5" r="1.75"/><circle cx="501.3" cy="187.5" r="1.75"/><circle cx="491.9" cy="180.5" r="1.75"/><circle cx="517.9" cy="216.5" r="1.75"/><circle cx="467.4" cy="90.7" r="1.75"/><circle cx="537.9" cy="105.3" r="1.75"/><circle cx="505.0" cy="19.3" r="1.75"/><circle cx="450.9" cy="55.2" r="1.75"/><circle cx="468.1" cy="150.6" r="1.75"/><circle cx="568.1" cy="67.8" r="1.75"/><circle cx="549.9" cy="70.5" r="1.75"/><circle cx="432.3" cy="160.2" r="1.75"/><circle cx="524.0" cy="127.8" r="1.75"/><circle cx="526.7" cy="12.0" r="1.75"/><circle cx="530.1" cy="35.4" r="1.75"/><circle cx="551.6" cy="126.2" r="1.75"/><circle cx="417.0" cy="125.0" r="1.75"/><circle cx="506.5" cy="199.7" r="1.75"/><circle cx="623.9" cy="171.8" r="1.75"/><circle cx="584.2" cy="107.3" r="1.75"/><circle cx="641.7" cy="98.3" r="1.75"/><circle cx="545.1" cy="95.9" r="1.75"/><circle cx="549.2" cy="220.7" r="1.75"/><circle cx="490.7" cy="48.7" r="1.75"/><circle cx="563.5" cy="55.5" r="1.75"/><circle cx="479.4" cy="193.8" r="1.75"/><circle cx="612.7" cy="109.4" r="1.75"/><circle cx="514.9" cy="82.1" r="1.75"/><circle cx="525.5" cy="42.3" r="1.75"/><circle cx="548.8" cy="175.1" r="1.75"/><circle cx="456.9" cy="102.0" r="1.75"/><circle cx="526.9" cy="156.7" r="1.75"/><circle cx="507.1" cy="137.0" r="1.75"/><circle cx="557.6" cy="52.6" r="1.75"/><circle cx="460.2" cy="170.5" r="1.75"/><circle cx="463.4" cy="94.6" r="1.75"/><circle cx="581.3" cy="119.6" r="1.75"/><circle cx="622.7" cy="94.6" r="1.75"/><circle cx="603.3" cy="95.6" r="1.75"/><circle cx="489.5" cy="68.4" r="1.75"/><circle cx="476.7" cy="115.9" r="1.75"/><circle cx="591.7" cy="33.4" r="1.75"/><circle cx="561.5" cy="155.9" r="1.75"/><circle cx="483.9" cy="127.2" r="1.75"/><circle cx="545.3" cy="159.4" r="1.75"/><circle cx="598.6" cy="223.7" r="1.75"/><circle cx="521.2" cy="121.5" r="1.75"/><circle cx="482.2" cy="134.4" r="1.75"/><circle cx="451.2" cy="133.0" r="1.75"/><circle cx="464.7" cy="123.9" r="1.75"/><circle cx="512.1" cy="36.4" r="1.75"/><circle cx="548.3" cy="153.0" r="1.75"/><circle cx="546.4" cy="15.2" r="1.75"/><circle cx="555.8" cy="125.2" r="1.75"/><circle cx="458.3" cy="155.5" r="1.75"/><circle cx="518.0" cy="155.9" r="1.75"/><circle cx="522.2" cy="65.4" r="1.75"/><circle cx="551.2" cy="100.9" r="1.75"/><circle cx="587.8" cy="195.9" r="1.75"/><circle cx="545.0" cy="226.0" r="1.75"/><circle cx="531.7" cy="211.7" r="1.75"/><circle cx="609.2" cy="149.8" r="1.75"/><circle cx="529.5" cy="196.4" r="1.75"/><circle cx="490.7" cy="26.2" r="1.75"/><circle cx="506.8" cy="220.8" r="1.75"/><circle cx="627.2" cy="73.0" r="1.75"/><circle cx="426.1" cy="154.0" r="1.75"/><circle cx="520.4" cy="107.8" r="1.75"/><circle cx="600.4" cy="51.3" r="1.75"/><circle cx="583.0" cy="99.3" r="1.75"/><circle cx="550.3" cy="127.0" r="1.75"/><circle cx="491.6" cy="131.2" r="1.75"/><circle cx="555.9" cy="85.5" r="1.75"/><circle cx="437.3" cy="123.4" r="1.75"/><circle cx="524.2" cy="181.2" r="1.75"/><circle cx="423.1" cy="155.5" r="1.75"/><circle cx="503.3" cy="235.5" r="1.75"/><circle cx="458.1" cy="125.5" r="1.75"/><circle cx="517.9" cy="72.0" r="1.75"/><circle cx="590.5" cy="175.8" r="1.75"/><circle cx="631.6" cy="135.8" r="1.75"/><circle cx="568.1" cy="92.5" r="1.75"/><circle cx="547.3" cy="163.0" r="1.75"/><circle cx="598.8" cy="40.6" r="1.75"/><circle cx="539.9" cy="198.7" r="1.75"/><circle cx="417.6" cy="117.7" r="1.75"/><circle cx="539.1" cy="29.7" r="1.75"/><circle cx="530.0" cy="166.6" r="1.75"/><circle cx="558.2" cy="224.6" r="1.75"/><circle cx="583.1" cy="43.3" r="1.75"/><circle cx="427.5" cy="78.4" r="1.75"/><circle cx="430.8" cy="117.4" r="1.75"/><circle cx="503.6" cy="129.8" r="1.75"/><circle cx="608.2" cy="112.2" r="1.75"/><circle cx="482.0" cy="219.6" r="1.75"/><circle cx="513.6" cy="225.2" r="1.75"/><circle cx="611.7" cy="80.7" r="1.75"/><circle cx="607.1" cy="168.2" r="1.75"/><circle cx="629.1" cy="140.9" r="1.75"/><circle cx="582.1" cy="224.7" r="1.75"/><circle cx="480.9" cy="39.3" r="1.75"/><circle cx="559.0" cy="99.9" r="1.75"/><circle cx="627.3" cy="83.9" r="1.75"/><circle cx="538.6" cy="203.4" r="1.75"/><circle cx="473.9" cy="82.7" r="1.75"/><circle cx="558.5" cy="54.5" r="1.75"/><circle cx="436.5" cy="174.3" r="1.75"/><circle cx="602.5" cy="93.9" r="1.75"/><circle cx="566.2" cy="119.8" r="1.75"/><circle cx="568.8" cy="107.0" r="1.75"/><circle cx="472.8" cy="155.0" r="1.75"/><circle cx="509.9" cy="72.8" r="1.75"/><circle cx="534.6" cy="39.1" r="1.75"/><circle cx="462.9" cy="141.7" r="1.75"/><circle cx="515.0" cy="172.9" r="1.75"/><circle cx="607.9" cy="56.4" r="1.75"/><circle cx="445.9" cy="48.0" r="1.75"/><circle cx="547.6" cy="122.6" r="1.75"/><circle cx="528.0" cy="43.9" r="1.75"/><circle cx="618.6" cy="160.5" r="1.75"/><circle cx="508.0" cy="110.0" r="1.75"/><circle cx="519.5" cy="42.7" r="1.75"/><circle cx="519.4" cy="40.6" r="1.75"/><circle cx="560.7" cy="178.4" r="1.75"/><circle cx="503.3" cy="119.9" r="1.75"/><circle cx="431.7" cy="98.3" r="1.75"/><circle cx="532.3" cy="165.1" r="1.75"/><circle cx="501.2" cy="184.8" r="1.75"/><circle cx="533.0" cy="241.8" r="1.75"/><circle cx="525.3" cy="228.4" r="1.75"/><circle cx="532.8" cy="104.1" r="1.75"/><circle cx="513.8" cy="149.4" r="1.75"/><circle cx="575.6" cy="134.3" r="1.75"/><circle cx="614.3" cy="202.9" r="1.75"/><circle cx="460.8" cy="153.9" r="1.75"/><circle cx="553.0" cy="153.8" r="1.75"/><circle cx="583.7" cy="145.7" r="1.75"/><circle cx="508.9" cy="148.2" r="1.75"/><circle cx="484.3" cy="52.9" r="1.75"/><circle cx="432.8" cy="98.5" r="1.75"/><circle cx="481.1" cy="95.5" r="1.75"/><circle cx="600.5" cy="33.8" r="1.75"/><circle cx="545.2" cy="23.8" r="1.75"/><circle cx="539.9" cy="18.0" r="1.75"/><circle cx="561.1" cy="188.6" r="1.75"/><circle cx="551.6" cy="152.8" r="1.75"/><circle cx="452.3" cy="86.0" r="1.75"/><circle cx="456.1" cy="74.7" r="1.75"/><circle cx="470.2" cy="183.9" r="1.75"/><circle cx="512.5" cy="145.0" r="1.75"/><circle cx="562.8" cy="105.6" r="1.75"/><circle cx="509.1" cy="115.8" r="1.75"/><circle cx="455.2" cy="94.7" r="1.75"/><circle cx="448.4" cy="193.3" r="1.75"/><circle cx="519.9" cy="226.3" r="1.75"/><circle cx="609.2" cy="192.6" r="1.75"/><circle cx="452.4" cy="127.9" r="1.75"/><circle cx="532.2" cy="126.4" r="1.75"/><circle cx="471.1" cy="88.8" r="1.75"/><circle cx="470.9" cy="202.6" r="1.75"/><circle cx="505.1" cy="32.0" r="1.75"/><circle cx="446.3" cy="92.5" r="1.75"/><circle cx="627.4" cy="70.8" r="1.75"/><circle cx="572.1" cy="66.7" r="1.75"/><circle cx="513.2" cy="86.4" r="1.75"/><circle cx="544.4" cy="79.5" r="1.75"/><circle cx="564.1" cy="182.3" r="1.75"/><circle cx="568.3" cy="36.9" r="1.75"/><circle cx="562.3" cy="181.3" r="1.75"/><circle cx="570.6" cy="36.0" r="1.75"/><circle cx="516.3" cy="209.8" r="1.75"/><circle cx="443.6" cy="124.7" r="1.75"/><circle cx="578.4" cy="78.1" r="1.75"/><circle cx="595.9" cy="180.5" r="1.75"/><circle cx="444.4" cy="182.6" r="1.75"/><circle cx="528.7" cy="158.4" r="1.75"/><circle cx="539.2" cy="164.8" r="1.75"/><circle cx="612.9" cy="166.7" r="1.75"/><circle cx="569.5" cy="150.6" r="1.75"/><circle cx="634.5" cy="76.2" r="1.75"/><circle cx="573.4" cy="78.6" r="1.75"/><circle cx="574.8" cy="167.3" r="1.75"/><circle cx="446.5" cy="46.6" r="1.75"/><circle cx="448.8" cy="125.4" r="1.75"/><circle cx="600.5" cy="214.3" r="1.75"/><circle cx="537.5" cy="152.7" r="1.75"/><circle cx="468.8" cy="203.6" r="1.75"/><circle cx="629.0" cy="117.3" r="1.75"/><circle cx="507.7" cy="56.6" r="1.75"/><circle cx="448.3" cy="191.9" r="1.75"/><circle cx="552.5" cy="87.2" r="1.75"/><circle cx="533.6" cy="115.8" r="1.75"/><circle cx="595.1" cy="58.4" r="1.75"/><circle cx="600.8" cy="58.8" r="1.75"/><circle cx="439.3" cy="110.6" r="1.75"/><circle cx="450.7" cy="148.4" r="1.75"/><circle cx="528.7" cy="171.5" r="1.75"/><circle cx="513.6" cy="44.5" r="1.75"/><circle cx="540.6" cy="121.3" r="1.75"/><circle cx="593.1" cy="194.5" r="1.75"/><circle cx="519.5" cy="115.7" r="1.75"/><circle cx="635.5" cy="147.3" r="1.75"/><circle cx="612.6" cy="85.2" r="1.75"/><circle cx="591.5" cy="152.8" r="1.75"/><circle cx="613.3" cy="186.5" r="1.75"/><circle cx="531.5" cy="174.2" r="1.75"/><circle cx="581.0" cy="60.2" r="1.75"/><circle cx="511.4" cy="103.0" r="1.75"/><circle cx="565.2" cy="66.8" r="1.75"/><circle cx="646.7" cy="112.2" r="1.75"/><circle cx="567.3" cy="92.2" r="1.75"/><circle cx="477.8" cy="195.7" r="1.75"/><circle cx="524.8" cy="239.8" r="1.75"/><circle cx="522.5" cy="89.4" r="1.75"/><circle cx="483.8" cy="19.9" r="1.75"/><circle cx="437.0" cy="93.2" r="1.75"/><circle cx="546.2" cy="157.7" r="1.75"/><circle cx="478.7" cy="33.4" r="1.75"/><circle cx="446.3" cy="156.7" r="1.75"/><circle cx="531.7" cy="139.2" r="1.75"/><circle cx="482.6" cy="97.1" r="1.75"/><circle cx="622.2" cy="95.7" r="1.75"/><circle cx="615.9" cy="101.5" r="1.75"/><circle cx="465.9" cy="119.9" r="1.75"/><circle cx="468.7" cy="53.0" r="1.75"/><circle cx="551.2" cy="74.2" r="1.75"/><circle cx="518.1" cy="141.1" r="1.75"/><circle cx="632.3" cy="80.1" r="1.75"/><circle cx="516.7" cy="185.2" r="1.75"/><circle cx="505.3" cy="67.3" r="1.75"/><circle cx="636.0" cy="100.5" r="1.75"/><circle cx="468.3" cy="219.0" r="1.75"/><circle cx="501.0" cy="24.5" r="1.75"/><circle cx="554.4" cy="29.3" r="1.75"/><circle cx="472.9" cy="53.9" r="1.75"/><circle cx="431.9" cy="113.0" r="1.75"/><circle cx="575.8" cy="148.6" r="1.75"/><circle cx="497.8" cy="62.7" r="1.75"/><circle cx="591.2" cy="134.8" r="1.75"/><circle cx="605.3" cy="173.8" r="1.75"/><circle cx="561.2" cy="209.6" r="1.75"/><circle cx="588.6" cy="114.6" r="1.75"/><circle cx="527.8" cy="74.3" r="1.75"/><circle cx="440.5" cy="59.1" r="1.75"/><circle cx="555.4" cy="183.9" r="1.75"/><circle cx="554.4" cy="52.5" r="1.75"/><circle cx="590.3" cy="201.2" r="1.75"/><circle cx="446.5" cy="188.0" r="1.75"/><circle cx="518.9" cy="107.9" r="1.75"/><circle cx="553.3" cy="211.9" r="1.75"/><circle cx="589.3" cy="202.3" r="1.75"/><circle cx="491.8" cy="106.9" r="1.75"/><circle cx="497.5" cy="218.3" r="1.75"/><circle cx="553.8" cy="163.4" r="1.75"/><circle cx="489.7" cy="93.3" r="1.75"/><circle cx="620.3" cy="113.0" r="1.75"/><circle cx="472.5" cy="155.8" r="1.75"/><circle cx="538.4" cy="46.9" r="1.75"/><circle cx="567.2" cy="81.0" r="1.75"/><circle cx="493.0" cy="192.9" r="1.75"/><circle cx="602.0" cy="91.0" r="1.75"/><circle cx="556.7" cy="231.9" r="1.75"/><circle cx="596.0" cy="112.0" r="1.75"/><circle cx="448.7" cy="62.7" r="1.75"/><circle cx="615.3" cy="76.6" r="1.75"/><circle cx="437.8" cy="131.7" r="1.75"/><circle cx="484.6" cy="223.6" r="1.75"/><circle cx="483.6" cy="186.4" r="1.75"/><circle cx="588.3" cy="199.3" r="1.75"/><circle cx="459.9" cy="57.1" r="1.75"/><circle cx="454.7" cy="105.0" r="1.75"/><circle cx="551.0" cy="120.5" r="1.75"/><circle cx="583.7" cy="149.8" r="1.75"/><circle cx="596.1" cy="114.9" r="1.75"/><circle cx="479.4" cy="34.4" r="1.75"/><circle cx="506.5" cy="87.0" r="1.75"/><circle cx="451.9" cy="151.4" r="1.75"/><circle cx="503.4" cy="49.8" r="1.75"/><circle cx="432.8" cy="95.8" r="1.75"/><circle cx="585.1" cy="133.1" r="1.75"/><circle cx="570.7" cy="159.8" r="1.75"/><circle cx="621.9" cy="137.3" r="1.75"/><circle cx="580.6" cy="59.0" r="1.75"/><circle cx="575.0" cy="200.9" r="1.75"/><circle cx="602.9" cy="191.8" r="1.75"/><circle cx="436.3" cy="182.4" r="1.75"/><circle cx="485.4" cy="120.3" r="1.75"/><circle cx="592.8" cy="64.1" r="1.75"/><circle cx="566.0" cy="68.8" r="1.75"/><circle cx="508.5" cy="21.0" r="1.75"/><circle cx="458.2" cy="113.3" r="1.75"/><circle cx="594.1" cy="77.5" r="1.75"/><circle cx="579.3" cy="153.1" r="1.75"/><circle cx="426.3" cy="147.8" r="1.75"/><circle cx="562.7" cy="165.1" r="1.75"/><circle cx="450.4" cy="128.3" r="1.75"/><circle cx="501.1" cy="174.7" r="1.75"/><circle cx="497.3" cy="203.3" r="1.75"/><circle cx="581.2" cy="104.8" r="1.75"/><circle cx="457.6" cy="198.3" r="1.75"/><circle cx="644.1" cy="153.4" r="1.75"/><circle cx="478.8" cy="142.6" r="1.75"/><circle cx="555.8" cy="92.2" r="1.75"/><circle cx="514.7" cy="60.2" r="1.75"/><circle cx="502.0" cy="46.4" r="1.75"/><circle cx="436.6" cy="85.2" r="1.75"/><circle cx="424.5" cy="93.2" r="1.75"/><circle cx="424.4" cy="179.2" r="1.75"/><circle cx="594.8" cy="103.9" r="1.75"/><circle cx="495.6" cy="102.4" r="1.75"/><circle cx="568.3" cy="224.3" r="1.75"/><circle cx="570.6" cy="25.4" r="1.75"/><circle cx="459.4" cy="76.9" r="1.75"/><circle cx="502.5" cy="39.1" r="1.75"/><circle cx="508.0" cy="83.8" r="1.75"/><circle cx="591.1" cy="168.1" r="1.75"/><circle cx="540.9" cy="107.4" r="1.75"/><circle cx="503.7" cy="227.8" r="1.75"/><circle cx="461.6" cy="214.4" r="1.75"/><circle cx="528.1" cy="80.1" r="1.75"/><circle cx="517.7" cy="178.0" r="1.75"/><circle cx="575.5" cy="78.1" r="1.75"/><circle cx="601.6" cy="120.7" r="1.75"/><circle cx="492.8" cy="144.6" r="1.75"/><circle cx="477.9" cy="27.4" r="1.75"/><circle cx="445.6" cy="177.5" r="1.75"/><circle cx="599.5" cy="101.8" r="1.75"/><circle cx="553.0" cy="186.5" r="1.75"/><circle cx="508.7" cy="25.7" r="1.75"/><circle cx="512.8" cy="116.9" r="1.75"/><circle cx="506.2" cy="105.4" r="1.75"/><circle cx="588.0" cy="168.7" r="1.75"/><circle cx="546.9" cy="66.9" r="1.75"/><circle cx="427.5" cy="83.4" r="1.75"/><circle cx="432.9" cy="190.0" r="1.75"/><circle cx="520.8" cy="198.5" r="1.75"/><circle cx="471.1" cy="186.3" r="1.75"/><circle cx="529.0" cy="25.0" r="1.75"/><circle cx="574.9" cy="195.8" r="1.75"/><circle cx="490.0" cy="36.5" r="1.75"/><circle cx="439.9" cy="142.8" r="1.75"/><circle cx="573.9" cy="153.8" r="1.75"/><circle cx="434.5" cy="131.2" r="1.75"/><circle cx="504.4" cy="146.4" r="1.75"/><circle cx="566.3" cy="172.5" r="1.75"/><circle cx="585.0" cy="184.3" r="1.75"/><circle cx="540.4" cy="101.8" r="1.75"/><circle cx="595.3" cy="180.4" r="1.75"/><circle cx="459.1" cy="155.3" r="1.75"/><circle cx="445.4" cy="140.1" r="1.75"/><circle cx="473.0" cy="203.9" r="1.75"/><circle cx="542.6" cy="3.9" r="1.75"/><circle cx="439.0" cy="160.4" r="1.75"/><circle cx="496.7" cy="159.8" r="1.75"/><circle cx="617.3" cy="61.2" r="1.75"/><circle cx="507.9" cy="206.3" r="1.75"/><circle cx="617.5" cy="111.5" r="1.75"/><circle cx="521.6" cy="131.0" r="1.75"/><circle cx="502.9" cy="35.1" r="1.75"/><circle cx="615.0" cy="154.2" r="1.75"/><circle cx="522.5" cy="231.0" r="1.75"/><circle cx="586.3" cy="75.5" r="1.75"/><circle cx="492.0" cy="128.1" r="1.75"/><circle cx="622.7" cy="132.2" r="1.75"/><circle cx="512.0" cy="58.5" r="1.75"/><circle cx="566.0" cy="228.7" r="1.75"/><circle cx="586.9" cy="173.9" r="1.75"/><circle cx="533.3" cy="35.6" r="1.75"/><circle cx="496.4" cy="161.6" r="1.75"/><circle cx="546.7" cy="41.8" r="1.75"/><circle cx="484.8" cy="212.7" r="1.75"/><circle cx="547.3" cy="41.8" r="1.75"/><circle cx="531.8" cy="73.4" r="1.75"/><circle cx="640.2" cy="150.0" r="1.75"/><circle cx="432.6" cy="129.7" r="1.75"/><circle cx="429.1" cy="153.6" r="1.75"/><circle cx="434.7" cy="145.4" r="1.75"/><circle cx="531.0" cy="205.5" r="1.75"/><circle cx="603.5" cy="112.2" r="1.75"/><circle cx="441.9" cy="133.9" r="1.75"/><circle cx="449.4" cy="88.6" r="1.75"/><circle cx="545.2" cy="61.8" r="1.75"/><circle cx="505.2" cy="209.2" r="1.75"/><circle cx="548.9" cy="40.7" r="1.75"/><circle cx="592.5" cy="59.2" r="1.75"/><circle cx="613.9" cy="71.5" r="1.75"/><circle cx="509.8" cy="125.7" r="1.75"/><circle cx="431.9" cy="154.2" r="1.75"/><circle cx="448.9" cy="44.0" r="1.75"/><circle cx="498.0" cy="159.2" r="1.75"/><circle cx="533.9" cy="44.9" r="1.75"/><circle cx="570.6" cy="88.7" r="1.75"/><circle cx="502.7" cy="195.3" r="1.75"/><circle cx="527.4" cy="97.4" r="1.75"/><circle cx="569.2" cy="181.2" r="1.75"/><circle cx="582.9" cy="128.3" r="1.75"/><circle cx="536.1" cy="219.7" r="1.75"/><circle cx="492.4" cy="213.1" r="1.75"/><circle cx="595.4" cy="136.3" r="1.75"/><circle cx="549.8" cy="54.1" r="1.75"/><circle cx="528.5" cy="141.9" r="1.75"/><circle cx="543.9" cy="192.7" r="1.75"/><circle cx="500.3" cy="68.5" r="1.75"/><circle cx="596.6" cy="164.8" r="1.75"/><circle cx="489.7" cy="174.3" r="1.75"/><circle cx="570.2" cy="214.7" r="1.75"/><circle cx="567.1" cy="70.4" r="1.75"/><circle cx="547.4" cy="146.7" r="1.75"/><circle cx="504.8" cy="45.6" r="1.75"/><circle cx="573.3" cy="171.1" r="1.75"/><circle cx="537.5" cy="132.4" r="1.75"/><circle cx="460.9" cy="40.8" r="1.75"/><circle cx="620.6" cy="156.4" r="1.75"/><circle cx="614.6" cy="136.7" r="1.75"/><circle cx="550.0" cy="41.5" r="1.75"/><circle cx="473.1" cy="79.1" r="1.75"/><circle cx="596.2" cy="140.0" r="1.75"/><circle cx="582.2" cy="117.7" r="1.75"/><circle cx="604.1" cy="199.8" r="1.75"/><circle cx="565.7" cy="139.3" r="1.75"/><circle cx="421.7" cy="160.7" r="1.75"/><circle cx="589.2" cy="77.7" r="1.75"/><circle cx="472.7" cy="171.4" r="1.75"/><circle cx="446.2" cy="71.8" r="1.75"/><circle cx="514.1" cy="223.7" r="1.75"/><circle cx="584.7" cy="40.6" r="1.75"/><circle cx="461.9" cy="56.0" r="1.75"/><circle cx="502.3" cy="177.6" r="1.75"/><circle cx="464.9" cy="80.9" r="1.75"/><circle cx="561.1" cy="202.7" r="1.75"/><circle cx="498.9" cy="155.3" r="1.75"/><circle cx="531.1" cy="216.6" r="1.75"/><circle cx="611.8" cy="177.9" r="1.75"/><circle cx="461.0" cy="193.5" r="1.75"/><circle cx="561.3" cy="33.8" r="1.75"/><circle cx="606.0" cy="61.8" r="1.75"/><circle cx="601.9" cy="220.9" r="1.75"/><circle cx="458.6" cy="118.3" r="1.75"/><circle cx="510.0" cy="205.9" r="1.75"/><circle cx="478.9" cy="175.0" r="1.75"/><circle cx="571.1" cy="129.0" r="1.75"/><circle cx="557.0" cy="80.2" r="1.75"/><circle cx="556.8" cy="185.1" r="1.75"/><circle cx="547.2" cy="19.6" r="1.75"/><circle cx="565.8" cy="168.8" r="1.75"/><circle cx="516.9" cy="200.1" r="1.75"/><circle cx="592.5" cy="94.7" r="1.75"/><circle cx="568.7" cy="25.8" r="1.75"/><circle cx="575.9" cy="189.7" r="1.75"/><circle cx="491.5" cy="61.6" r="1.75"/><circle cx="563.4" cy="113.6" r="1.75"/><circle cx="550.8" cy="196.5" r="1.75"/><circle cx="602.3" cy="55.3" r="1.75"/><circle cx="419.6" cy="100.9" r="1.75"/><circle cx="487.0" cy="94.4" r="1.75"/><circle cx="608.4" cy="98.6" r="1.75"/><circle cx="516.5" cy="92.0" r="1.75"/><circle cx="579.0" cy="103.8" r="1.75"/><circle cx="557.8" cy="235.7" r="1.75"/><circle cx="592.6" cy="50.0" r="1.75"/><circle cx="502.0" cy="73.7" r="1.75"/><circle cx="579.7" cy="149.5" r="1.75"/><circle cx="585.5" cy="75.9" r="1.75"/><circle cx="473.0" cy="157.7" r="1.75"/><circle cx="526.7" cy="104.2" r="1.75"/><circle cx="513.4" cy="126.3" r="1.75"/><circle cx="443.5" cy="94.1" r="1.75"/><circle cx="616.3" cy="136.1" r="1.75"/><circle cx="447.4" cy="158.8" r="1.75"/><circle cx="537.0" cy="238.3" r="1.75"/><circle cx="518.9" cy="198.0" r="1.75"/><circle cx="613.8" cy="43.0" r="1.75"/><circle cx="546.5" cy="169.3" r="1.75"/><circle cx="601.9" cy="119.9" r="1.75"/><circle cx="495.3" cy="89.8" r="1.75"/><circle cx="569.0" cy="190.2" r="1.75"/><circle cx="559.0" cy="65.1" r="1.75"/><circle cx="506.4" cy="228.6" r="1.75"/><circle cx="426.5" cy="158.4" r="1.75"/><circle cx="487.1" cy="53.7" r="1.75"/><circle cx="616.2" cy="111.0" r="1.75"/><circle cx="489.3" cy="200.5" r="1.75"/><circle cx="518.2" cy="112.2" r="1.75"/><circle cx="477.7" cy="98.4" r="1.75"/><circle cx="448.7" cy="90.2" r="1.75"/><circle cx="476.7" cy="162.5" r="1.75"/><circle cx="461.0" cy="173.3" r="1.75"/><circle cx="492.5" cy="53.1" r="1.75"/><circle cx="614.0" cy="98.6" r="1.75"/><circle cx="629.4" cy="176.4" r="1.75"/><circle cx="495.1" cy="239.2" r="1.75"/><circle cx="573.1" cy="39.3" r="1.75"/><circle cx="514.6" cy="84.4" r="1.75"/><circle cx="507.5" cy="42.3" r="1.75"/><circle cx="427.6" cy="109.0" r="1.75"/><circle cx="419.2" cy="129.5" r="1.75"/><circle cx="552.8" cy="80.7" r="1.75"/><circle cx="620.1" cy="78.5" r="1.75"/><circle cx="623.6" cy="157.6" r="1.75"/><circle cx="536.8" cy="211.3" r="1.75"/><circle cx="625.0" cy="128.3" r="1.75"/><circle cx="491.8" cy="75.2" r="1.75"/><circle cx="473.2" cy="138.5" r="1.75"/><circle cx="521.5" cy="158.9" r="1.75"/><circle cx="418.0" cy="112.8" r="1.75"/><circle cx="561.6" cy="178.0" r="1.75"/><circle cx="484.1" cy="172.5" r="1.75"/><circle cx="553.7" cy="59.3" r="1.75"/><circle cx="575.7" cy="154.5" r="1.75"/><circle cx="601.9" cy="109.5" r="1.75"/><circle cx="603.8" cy="159.0" r="1.75"/><circle cx="560.8" cy="77.1" r="1.75"/><circle cx="608.3" cy="87.5" r="1.75"/><circle cx="478.7" cy="128.7" r="1.75"/><circle cx="475.7" cy="160.1" r="1.75"/><circle cx="449.4" cy="158.6" r="1.75"/><circle cx="555.6" cy="70.8" r="1.75"/><circle cx="550.8" cy="163.3" r="1.75"/><circle cx="560.3" cy="41.0" r="1.75"/><circle cx="440.1" cy="90.5" r="1.75"/><circle cx="516.0" cy="42.0" r="1.75"/><circle cx="591.8" cy="188.8" r="1.75"/><circle cx="567.3" cy="131.9" r="1.75"/><circle cx="581.3" cy="80.3" r="1.75"/><circle cx="531.8" cy="138.6" r="1.75"/><circle cx="466.5" cy="146.0" r="1.75"/><circle cx="555.2" cy="73.3" r="1.75"/><circle cx="531.4" cy="195.8" r="1.75"/><circle cx="526.6" cy="159.9" r="1.75"/><circle cx="604.3" cy="101.9" r="1.75"/><circle cx="542.3" cy="239.0" r="1.75"/><circle cx="511.6" cy="126.1" r="1.75"/><circle cx="447.2" cy="148.8" r="1.75"/><circle cx="625.1" cy="87.4" r="1.75"/><circle cx="469.7" cy="97.3" r="1.75"/><circle cx="476.3" cy="97.4" r="1.75"/><circle cx="509.0" cy="73.0" r="1.75"/><circle cx="491.7" cy="166.2" r="1.75"/><circle cx="529.9" cy="5.6" r="1.75"/><circle cx="565.7" cy="160.9" r="1.75"/><circle cx="559.5" cy="106.8" r="1.75"/><circle cx="548.7" cy="130.7" r="1.75"/><circle cx="475.4" cy="113.2" r="1.75"/><circle cx="442.4" cy="79.7" r="1.75"/><circle cx="505.2" cy="13.5" r="1.75"/><circle cx="586.0" cy="41.4" r="1.75"/><circle cx="575.8" cy="25.1" r="1.75"/><circle cx="516.9" cy="187.6" r="1.75"/><circle cx="644.0" cy="126.1" r="1.75"/><circle cx="451.5" cy="133.8" r="1.75"/><circle cx="621.4" cy="152.8" r="1.75"/><circle cx="435.0" cy="69.7" r="1.75"/><circle cx="539.6" cy="121.5" r="1.75"/><circle cx="504.2" cy="87.9" r="1.75"/><circle cx="526.1" cy="102.7" r="1.75"/><circle cx="564.5" cy="134.1" r="1.75"/><circle cx="602.9" cy="62.2" r="1.75"/><circle cx="454.0" cy="59.1" r="1.75"/><circle cx="574.7" cy="157.9" r="1.75"/><circle cx="421.1" cy="118.8" r="1.75"/><circle cx="446.3" cy="171.1" r="1.75"/><circle cx="547.2" cy="101.9" r="1.75"/><circle cx="576.4" cy="20.7" r="1.75"/><circle cx="474.4" cy="119.7" r="1.75"/><circle cx="444.7" cy="198.2" r="1.75"/><circle cx="467.5" cy="169.3" r="1.75"/><circle cx="503.9" cy="204.2" r="1.75"/><circle cx="500.3" cy="120.2" r="1.75"/><circle cx="522.0" cy="36.7" r="1.75"/><circle cx="459.9" cy="132.9" r="1.75"/><circle cx="519.2" cy="25.7" r="1.75"/><circle cx="521.9" cy="52.2" r="1.75"/><circle cx="473.4" cy="203.3" r="1.75"/><circle cx="463.0" cy="203.5" r="1.75"/><circle cx="443.3" cy="139.6" r="1.75"/><circle cx="539.4" cy="235.4" r="1.75"/><circle cx="542.7" cy="127.7" r="1.75"/><circle cx="556.6" cy="63.1" r="1.75"/><circle cx="616.9" cy="131.7" r="1.75"/><circle cx="443.0" cy="58.4" r="1.75"/><circle cx="550.8" cy="35.7" r="1.75"/><circle cx="526.7" cy="240.3" r="1.75"/><circle cx="520.8" cy="195.5" r="1.75"/><circle cx="598.8" cy="134.0" r="1.75"/><circle cx="438.9" cy="83.1" r="1.75"/><circle cx="433.7" cy="101.0" r="1.75"/><circle cx="537.7" cy="120.3" r="1.75"/><circle cx="604.3" cy="68.3" r="1.75"/><circle cx="537.8" cy="37.7" r="1.75"/><circle cx="456.9" cy="51.4" r="1.75"/><circle cx="514.5" cy="135.9" r="1.75"/><circle cx="640.2" cy="145.7" r="1.75"/><circle cx="569.8" cy="159.6" r="1.75"/><circle cx="512.0" cy="25.6" r="1.75"/><circle cx="560.5" cy="215.6" r="1.75"/><circle cx="461.8" cy="201.4" r="1.75"/><circle cx="454.8" cy="115.3" r="1.75"/><circle cx="537.6" cy="225.7" r="1.75"/><circle cx="496.3" cy="115.4" r="1.75"/><circle cx="583.9" cy="45.6" r="1.75"/><circle cx="430.4" cy="178.5" r="1.75"/><circle cx="599.7" cy="43.4" r="1.75"/><circle cx="621.2" cy="180.5" r="1.75"/><circle cx="431.9" cy="148.1" r="1.75"/><circle cx="506.8" cy="174.0" r="1.75"/><circle cx="646.6" cy="101.8" r="1.75"/><circle cx="460.4" cy="145.0" r="1.75"/><circle cx="627.8" cy="106.2" r="1.75"/><circle cx="629.4" cy="152.2" r="1.75"/><circle cx="597.9" cy="164.5" r="1.75"/><circle cx="450.5" cy="86.4" r="1.75"/><circle cx="482.2" cy="169.1" r="1.75"/><circle cx="476.0" cy="97.9" r="1.75"/><circle cx="471.0" cy="162.6" r="1.75"/><circle cx="599.0" cy="92.6" r="1.75"/><circle cx="478.9" cy="87.3" r="1.75"/><circle cx="589.7" cy="175.2" r="1.75"/><circle cx="492.6" cy="204.5" r="1.75"/><circle cx="517.9" cy="194.8" r="1.75"/><circle cx="527.3" cy="234.7" r="1.75"/><circle cx="537.5" cy="152.7" r="1.75"/><circle cx="580.1" cy="37.9" r="1.75"/><circle cx="488.2" cy="73.2" r="1.75"/><circle cx="585.3" cy="47.1" r="1.75"/><circle cx="461.1" cy="102.8" r="1.75"/><circle cx="635.6" cy="142.8" r="1.75"/><circle cx="626.1" cy="183.4" r="1.75"/><circle cx="610.0" cy="155.8" r="1.75"/><circle cx="598.4" cy="49.4" r="1.75"/><circle cx="606.7" cy="131.1" r="1.75"/><circle cx="532.8" cy="87.4" r="1.75"/><circle cx="434.9" cy="150.6" r="1.75"/><circle cx="502.1" cy="79.6" r="1.75"/><circle cx="459.7" cy="173.4" r="1.75"/><circle cx="448.1" cy="158.1" r="1.75"/><circle cx="480.0" cy="177.6" r="1.75"/><circle cx="540.0" cy="207.6" r="1.75"/><circle cx="441.9" cy="196.1" r="1.75"/><circle cx="456.9" cy="128.7" r="1.75"/><circle cx="536.2" cy="199.9" r="1.75"/><circle cx="550.2" cy="166.9" r="1.75"/><circle cx="481.0" cy="63.1" r="1.75"/><circle cx="443.7" cy="101.4" r="1.75"/><circle cx="625.4" cy="133.4" r="1.75"/><circle cx="514.7" cy="17.2" r="1.75"/><circle cx="574.6" cy="62.4" r="1.75"/><circle cx="507.8" cy="197.9" r="1.75"/><circle cx="559.6" cy="176.0" r="1.75"/><circle cx="566.4" cy="218.2" r="1.75"/><circle cx="589.3" cy="145.3" r="1.75"/><circle cx="573.1" cy="163.4" r="1.75"/><circle cx="540.3" cy="26.0" r="1.75"/><circle cx="621.9" cy="93.6" r="1.75"/><circle cx="590.7" cy="68.1" r="1.75"/><circle cx="571.6" cy="109.1" r="1.75"/><circle cx="599.1" cy="108.1" r="1.75"/><circle cx="425.0" cy="83.8" r="1.75"/><circle cx="491.2" cy="45.6" r="1.75"/><circle cx="488.6" cy="16.9" r="1.75"/><circle cx="508.1" cy="149.2" r="1.75"/><circle cx="505.9" cy="233.3" r="1.75"/><circle cx="525.7" cy="123.8" r="1.75"/><circle cx="448.8" cy="116.5" r="1.75"/><circle cx="537.6" cy="84.0" r="1.75"/><circle cx="455.8" cy="166.0" r="1.75"/><circle cx="599.7" cy="184.8" r="1.75"/><circle cx="441.9" cy="195.3" r="1.75"/><circle cx="540.6" cy="173.9" r="1.75"/><circle cx="623.4" cy="132.2" r="1.75"/><circle cx="559.4" cy="151.3" r="1.75"/><circle cx="512.8" cy="139.0" r="1.75"/><circle cx="459.3" cy="49.4" r="1.75"/><circle cx="452.0" cy="104.5" r="1.75"/><circle cx="541.5" cy="79.0" r="1.75"/><circle cx="514.5" cy="216.5" r="1.75"/><circle cx="538.5" cy="15.7" r="1.75"/><circle cx="449.9" cy="122.2" r="1.75"/><circle cx="485.2" cy="185.9" r="1.75"/><circle cx="592.1" cy="181.0" r="1.75"/><circle cx="521.4" cy="212.6" r="1.75"/><circle cx="572.2" cy="136.4" r="1.75"/><circle cx="634.0" cy="108.8" r="1.75"/><circle cx="541.6" cy="23.0" r="1.75"/><circle cx="507.1" cy="73.5" r="1.75"/><circle cx="458.8" cy="49.6" r="1.75"/><circle cx="449.1" cy="135.8" r="1.75"/><circle cx="588.1" cy="134.2" r="1.75"/><circle cx="492.4" cy="64.0" r="1.75"/><circle cx="474.3" cy="111.0" r="1.75"/><circle cx="492.6" cy="136.6" r="1.75"/><circle cx="579.0" cy="179.8" r="1.75"/><circle cx="549.4" cy="205.6" r="1.75"/><circle cx="568.9" cy="194.8" r="1.75"/><circle cx="469.3" cy="110.7" r="1.75"/><circle cx="462.8" cy="194.2" r="1.75"/><circle cx="542.1" cy="128.6" r="1.75"/><circle cx="535.1" cy="23.1" r="1.75"/><circle cx="531.5" cy="65.7" r="1.75"/><circle cx="453.1" cy="92.5" r="1.75"/><circle cx="613.1" cy="139.1" r="1.75"/><circle cx="615.6" cy="112.6" r="1.75"/><circle cx="592.9" cy="163.9" r="1.75"/><circle cx="509.3" cy="180.5" r="1.75"/><circle cx="530.1" cy="221.3" r="1.75"/><circle cx="466.5" cy="176.8" r="1.75"/><circle cx="438.7" cy="54.9" r="1.75"/><circle cx="549.4" cy="123.4" r="1.75"/><circle cx="557.8" cy="140.2" r="1.75"/><circle cx="572.6" cy="85.3" r="1.75"/><circle cx="586.6" cy="59.6" r="1.75"/><circle cx="557.7" cy="23.2" r="1.75"/><circle cx="571.1" cy="39.0" r="1.75"/><circle cx="506.0" cy="156.1" r="1.75"/><circle cx="582.1" cy="122.8" r="1.75"/><circle cx="522.8" cy="41.1" r="1.75"/><circle cx="506.3" cy="167.1" r="1.75"/><circle cx="561.7" cy="82.9" r="1.75"/><circle cx="544.4" cy="154.1" r="1.75"/><circle cx="419.3" cy="148.5" r="1.75"/><circle cx="455.9" cy="204.0" r="1.75"/><circle cx="567.7" cy="103.5" r="1.75"/><circle cx="522.6" cy="120.7" r="1.75"/><circle cx="509.9" cy="155.2" r="1.75"/><circle cx="608.1" cy="49.4" r="1.75"/><circle cx="616.1" cy="50.7" r="1.75"/><circle cx="534.7" cy="81.2" r="1.75"/><circle cx="536.5" cy="128.0" r="1.75"/><circle cx="603.3" cy="73.7" r="1.75"/><circle cx="551.8" cy="111.6" r="1.75"/><circle cx="583.5" cy="181.7" r="1.75"/><circle cx="501.9" cy="184.7" r="1.75"/><circle cx="608.8" cy="162.5" r="1.75"/><circle cx="622.3" cy="116.2" r="1.75"/><circle cx="449.0" cy="170.0" r="1.75"/><circle cx="432.8" cy="113.6" r="1.75"/><circle cx="506.8" cy="44.4" r="1.75"/><circle cx="422.6" cy="161.7" r="1.75"/><circle cx="570.8" cy="85.5" r="1.75"/><circle cx="532.7" cy="74.7" r="1.75"/><circle cx="567.6" cy="80.7" r="1.75"/><circle cx="545.9" cy="208.4" r="1.75"/><circle cx="531.1" cy="61.2" r="1.75"/><circle cx="488.9" cy="138.5" r="1.75"/><circle cx="516.9" cy="81.2" r="1.75"/><circle cx="468.5" cy="86.4" r="1.75"/><circle cx="591.0" cy="21.8" r="1.75"/><circle cx="555.2" cy="42.8" r="1.75"/><circle cx="497.0" cy="154.6" r="1.75"/><circle cx="423.9" cy="97.9" r="1.75"/><circle cx="605.0" cy="140.9" r="1.75"/><circle cx="593.8" cy="163.7" r="1.75"/><circle cx="459.0" cy="141.0" r="1.75"/><circle cx="639.9" cy="130.6" r="1.75"/><circle cx="449.1" cy="107.5" r="1.75"/><circle cx="544.1" cy="161.6" r="1.75"/><circle cx="569.9" cy="154.2" r="1.75"/><circle cx="500.3" cy="176.9" r="1.75"/><circle cx="581.0" cy="92.7" r="1.75"/><circle cx="622.4" cy="163.0" r="1.75"/><circle cx="476.2" cy="154.5" r="1.75"/><circle cx="452.2" cy="104.3" r="1.75"/><circle cx="437.0" cy="171.6" r="1.75"/><circle cx="508.3" cy="208.1" r="1.75"/><circle cx="412.9" cy="132.0" r="1.75"/><circle cx="573.8" cy="49.4" r="1.75"/><circle cx="638.0" cy="138.0" r="1.75"/><circle cx="613.8" cy="113.0" r="1.75"/><circle cx="489.5" cy="152.3" r="1.75"/><circle cx="574.9" cy="181.2" r="1.75"/><circle cx="559.2" cy="81.0" r="1.75"/><circle cx="502.1" cy="159.4" r="1.75"/><circle cx="472.6" cy="161.3" r="1.75"/><circle cx="611.5" cy="202.6" r="1.75"/><circle cx="471.3" cy="86.3" r="1.75"/><circle cx="513.9" cy="239.6" r="1.75"/><circle cx="458.0" cy="100.3" r="1.75"/><circle cx="472.9" cy="142.7" r="1.75"/><circle cx="429.9" cy="122.6" r="1.75"/><circle cx="455.9" cy="58.3" r="1.75"/><circle cx="485.8" cy="72.2" r="1.75"/><circle cx="546.9" cy="198.6" r="1.75"/><circle cx="607.2" cy="102.0" r="1.75"/><circle cx="622.5" cy="109.9" r="1.75"/><circle cx="505.7" cy="146.6" r="1.75"/><circle cx="530.6" cy="82.5" r="1.75"/><circle cx="507.4" cy="88.1" r="1.75"/><circle cx="488.5" cy="89.0" r="1.75"/><circle cx="608.8" cy="106.0" r="1.75"/><circle cx="508.6" cy="118.8" r="1.75"/><circle cx="447.6" cy="124.4" r="1.75"/><circle cx="606.6" cy="39.4" r="1.75"/><circle cx="579.4" cy="85.1" r="1.75"/><circle cx="472.0" cy="81.5" r="1.75"/><circle cx="564.9" cy="74.1" r="1.75"/><circle cx="472.0" cy="46.4" r="1.75"/><circle cx="449.2" cy="124.1" r="1.75"/><circle cx="637.3" cy="151.5" r="1.75"/><circle cx="492.8" cy="48.4" r="1.75"/><circle cx="604.2" cy="99.1" r="1.75"/><circle cx="474.6" cy="33.3" r="1.75"/><circle cx="606.7" cy="67.5" r="1.75"/><circle cx="450.3" cy="161.8" r="1.75"/><circle cx="537.4" cy="124.8" r="1.75"/><circle cx="556.7" cy="118.9" r="1.75"/><circle cx="474.7" cy="153.0" r="1.75"/><circle cx="579.0" cy="23.4" r="1.75"/><circle cx="577.8" cy="219.3" r="1.75"/><circle cx="466.7" cy="162.7" r="1.75"/><circle cx="615.7" cy="125.9" r="1.75"/><circle cx="482.7" cy="131.0" r="1.75"/><circle cx="559.6" cy="195.5" r="1.75"/><circle cx="513.3" cy="107.0" r="1.75"/><circle cx="498.5" cy="228.7" r="1.75"/><circle cx="499.2" cy="202.4" r="1.75"/><circle cx="509.5" cy="73.2" r="1.75"/><circle cx="442.0" cy="142.4" r="1.75"/><circle cx="518.5" cy="188.3" r="1.75"/><circle cx="569.2" cy="95.6" r="1.75"/><circle cx="476.3" cy="68.8" r="1.75"/><circle cx="595.4" cy="37.3" r="1.75"/><circle cx="592.9" cy="172.8" r="1.75"/><circle cx="548.0" cy="230.6" r="1.75"/><circle cx="465.8" cy="207.7" r="1.75"/><circle cx="437.5" cy="108.6" r="1.75"/><circle cx="494.8" cy="173.3" r="1.75"/><circle cx="510.6" cy="210.6" r="1.75"/><circle cx="429.1" cy="91.3" r="1.75"/><circle cx="553.9" cy="21.7" r="1.75"/><circle cx="527.5" cy="205.0" r="1.75"/><circle cx="543.5" cy="30.5" r="1.75"/><circle cx="566.7" cy="120.0" r="1.75"/><circle cx="510.0" cy="227.9" r="1.75"/><circle cx="573.5" cy="190.2" r="1.75"/><circle cx="449.9" cy="153.4" r="1.75"/><circle cx="480.2" cy="121.3" r="1.75"/><circle cx="460.0" cy="141.6" r="1.75"/><circle cx="451.2" cy="98.6" r="1.75"/><circle cx="558.2" cy="155.1" r="1.75"/><circle cx="536.1" cy="207.3" r="1.75"/><circle cx="564.1" cy="172.9" r="1.75"/><circle cx="533.9" cy="89.5" r="1.75"/><circle cx="491.7" cy="176.2" r="1.75"/><circle cx="553.5" cy="183.6" r="1.75"/><circle cx="524.1" cy="243.5" r="1.75"/><circle cx="589.3" cy="32.1" r="1.75"/><circle cx="627.9" cy="183.4" r="1.75"/><circle cx="613.5" cy="119.2" r="1.75"/><circle cx="554.9" cy="189.9" r="1.75"/><circle cx="583.9" cy="74.7" r="1.75"/><circle cx="445.1" cy="82.7" r="1.75"/><circle cx="477.7" cy="53.8" r="1.75"/><circle cx="514.7" cy="156.7" r="1.75"/><circle cx="564.6" cy="152.4" r="1.75"/><circle cx="543.9" cy="194.4" r="1.75"/><circle cx="458.7" cy="126.1" r="1.75"/><circle cx="551.8" cy="135.2" r="1.75"/><circle cx="437.5" cy="118.4" r="1.75"/><circle cx="552.6" cy="125.2" r="1.75"/><circle cx="537.1" cy="213.7" r="1.75"/><circle cx="608.4" cy="149.9" r="1.75"/><circle cx="453.5" cy="105.2" r="1.75"/><circle cx="524.4" cy="231.3" r="1.75"/><circle cx="586.7" cy="171.5" r="1.75"/><circle cx="513.8" cy="142.2" r="1.75"/><circle cx="607.2" cy="60.6" r="1.75"/><circle cx="527.1" cy="90.4" r="1.75"/><circle cx="546.3" cy="14.1" r="1.75"/><circle cx="568.3" cy="190.8" r="1.75"/><circle cx="621.6" cy="119.0" r="1.75"/><circle cx="431.9" cy="144.8" r="1.75"/><circle cx="516.4" cy="123.3" r="1.75"/><circle cx="460.2" cy="65.1" r="1.75"/><circle cx="536.8" cy="123.7" r="1.75"/><circle cx="537.9" cy="127.2" r="1.75"/><circle cx="411.7" cy="110.8" r="1.75"/><circle cx="486.0" cy="38.9" r="1.75"/><circle cx="479.4" cy="160.8" r="1.75"/><circle cx="578.7" cy="68.9" r="1.75"/><circle cx="620.3" cy="122.8" r="1.75"/><circle cx="516.3" cy="8.9" r="1.75"/><circle cx="506.4" cy="239.3" r="1.75"/><circle cx="493.1" cy="149.3" r="1.75"/><circle cx="480.2" cy="156.6" r="1.75"/><circle cx="535.1" cy="213.3" r="1.75"/><circle cx="436.8" cy="83.0" r="1.75"/><circle cx="635.7" cy="77.5" r="1.75"/><circle cx="598.8" cy="55.7" r="1.75"/><circle cx="508.5" cy="22.7" r="1.75"/><circle cx="617.3" cy="84.7" r="1.75"/><circle cx="440.4" cy="90.1" r="1.75"/><circle cx="433.5" cy="69.7" r="1.75"/><circle cx="478.2" cy="108.4" r="1.75"/><circle cx="635.4" cy="114.7" r="1.75"/><circle cx="531.8" cy="236.1" r="1.75"/><circle cx="617.7" cy="139.1" r="1.75"/><circle cx="560.9" cy="207.4" r="1.75"/><circle cx="582.5" cy="176.9" r="1.75"/><circle cx="494.0" cy="170.4" r="1.75"/><circle cx="608.3" cy="48.9" r="1.75"/><circle cx="584.7" cy="212.8" r="1.75"/><circle cx="627.1" cy="162.4" r="1.75"/><circle cx="582.5" cy="108.7" r="1.75"/><circle cx="490.7" cy="24.8" r="1.75"/><circle cx="481.5" cy="99.3" r="1.75"/><circle cx="616.2" cy="154.5" r="1.75"/><circle cx="551.6" cy="191.2" r="1.75"/><circle cx="575.3" cy="211.3" r="1.75"/><circle cx="591.6" cy="205.6" r="1.75"/><circle cx="515.2" cy="217.8" r="1.75"/><circle cx="485.1" cy="48.2" r="1.75"/><circle cx="618.2" cy="70.6" r="1.75"/><circle cx="566.9" cy="71.7" r="1.75"/><circle cx="594.2" cy="194.0" r="1.75"/><circle cx="493.3" cy="202.2" r="1.75"/><circle cx="459.2" cy="81.9" r="1.75"/><circle cx="502.5" cy="200.1" r="1.75"/><circle cx="513.8" cy="37.3" r="1.75"/><circle cx="563.9" cy="66.5" r="1.75"/><circle cx="640.1" cy="145.3" r="1.75"/><circle cx="609.5" cy="90.4" r="1.75"/><circle cx="485.3" cy="60.3" r="1.75"/><circle cx="459.6" cy="176.7" r="1.75"/><circle cx="545.4" cy="78.4" r="1.75"/><circle cx="595.9" cy="103.0" r="1.75"/><circle cx="507.6" cy="13.4" r="1.75"/><circle cx="466.0" cy="40.6" r="1.75"/><circle cx="634.8" cy="127.1" r="1.75"/><circle cx="537.5" cy="151.8" r="1.75"/><circle cx="447.1" cy="77.8" r="1.75"/><circle cx="447.7" cy="98.4" r="1.75"/><circle cx="507.4" cy="94.3" r="1.75"/><circle cx="450.6" cy="133.3" r="1.75"/><circle cx="486.1" cy="37.9" r="1.75"/><circle cx="495.4" cy="134.4" r="1.75"/><circle cx="481.1" cy="116.9" r="1.75"/><circle cx="490.4" cy="225.5" r="1.75"/><circle cx="472.2" cy="65.3" r="1.75"/><circle cx="524.7" cy="88.4" r="1.75"/><circle cx="502.1" cy="198.7" r="1.75"/><circle cx="478.1" cy="206.5" r="1.75"/><circle cx="433.3" cy="68.7" r="1.75"/><circle cx="533.1" cy="227.8" r="1.75"/><circle cx="578.3" cy="205.5" r="1.75"/><circle cx="573.3" cy="21.7" r="1.75"/><circle cx="505.4" cy="219.0" r="1.75"/><circle cx="503.8" cy="133.5" r="1.75"/><circle cx="547.3" cy="83.8" r="1.75"/><circle cx="494.0" cy="165.9" r="1.75"/><circle cx="434.2" cy="156.4" r="1.75"/><circle cx="560.0" cy="20.5" r="1.75"/><circle cx="447.8" cy="104.4" r="1.75"/><circle cx="480.6" cy="27.7" r="1.75"/><circle cx="532.6" cy="73.6" r="1.75"/><circle cx="613.1" cy="67.1" r="1.75"/><circle cx="497.4" cy="50.9" r="1.75"/><circle cx="480.0" cy="148.6" r="1.75"/><circle cx="473.8" cy="189.8" r="1.75"/><circle cx="542.7" cy="143.1" r="1.75"/><circle cx="552.3" cy="145.1" r="1.75"/><circle cx="584.8" cy="33.2" r="1.75"/><circle cx="506.2" cy="237.5" r="1.75"/><circle cx="597.1" cy="125.2" r="1.75"/><circle cx="485.6" cy="145.8" r="1.75"/><circle cx="423.6" cy="126.6" r="1.75"/><circle cx="461.0" cy="86.8" r="1.75"/><circle cx="588.8" cy="72.5" r="1.75"/><circle cx="610.9" cy="136.3" r="1.75"/><circle cx="574.1" cy="200.9" r="1.75"/><circle cx="552.1" cy="99.6" r="1.75"/><circle cx="571.1" cy="130.3" r="1.75"/><circle cx="503.3" cy="181.1" r="1.75"/><circle cx="433.1" cy="118.4" r="1.75"/><circle cx="522.8" cy="244.8" r="1.75"/><circle cx="605.1" cy="217.0" r="1.75"/><circle cx="472.8" cy="21.3" r="1.75"/><circle cx="540.2" cy="224.1" r="1.75"/><circle cx="619.9" cy="63.2" r="1.75"/><circle cx="497.1" cy="192.6" r="1.75"/><circle cx="539.7" cy="101.4" r="1.75"/><circle cx="517.5" cy="62.0" r="1.75"/><circle cx="550.1" cy="87.5" r="1.75"/><circle cx="598.5" cy="48.1" r="1.75"/><circle cx="560.2" cy="184.5" r="1.75"/><circle cx="459.4" cy="97.4" r="1.75"/><circle cx="532.1" cy="193.1" r="1.75"/><circle cx="510.6" cy="82.7" r="1.75"/><circle cx="488.6" cy="179.9" r="1.75"/><circle cx="452.1" cy="155.6" r="1.75"/><circle cx="626.7" cy="87.4" r="1.75"/><circle cx="555.3" cy="153.3" r="1.75"/><circle cx="473.0" cy="195.2" r="1.75"/><circle cx="474.3" cy="150.2" r="1.75"/><circle cx="516.9" cy="127.4" r="1.75"/><circle cx="504.9" cy="24.0" r="1.75"/><circle cx="619.7" cy="152.9" r="1.75"/><circle cx="537.5" cy="125.0" r="1.75"/><circle cx="585.3" cy="136.4" r="1.75"/><circle cx="427.1" cy="99.6" r="1.75"/><circle cx="500.9" cy="215.7" r="1.75"/><circle cx="532.1" cy="171.3" r="1.75"/><circle cx="544.8" cy="219.0" r="1.75"/><circle cx="476.3" cy="189.7" r="1.75"/><circle cx="518.5" cy="100.3" r="1.75"/><circle cx="597.8" cy="188.8" r="1.75"/><circle cx="554.5" cy="38.0" r="1.75"/><circle cx="570.1" cy="165.5" r="1.75"/><circle cx="607.0" cy="57.5" r="1.75"/><circle cx="537.1" cy="143.3" r="1.75"/><circle cx="465.3" cy="210.3" r="1.75"/><circle cx="612.4" cy="93.4" r="1.75"/><circle cx="585.8" cy="89.9" r="1.75"/><circle cx="500.4" cy="208.5" r="1.75"/><circle cx="517.9" cy="16.3" r="1.75"/><circle cx="540.7" cy="86.2" r="1.75"/><circle cx="563.1" cy="192.4" r="1.75"/><circle cx="495.6" cy="86.2" r="1.75"/><circle cx="465.2" cy="77.1" r="1.75"/><circle cx="501.3" cy="195.7" r="1.75"/><circle cx="589.0" cy="122.2" r="1.75"/><circle cx="581.9" cy="214.6" r="1.75"/><circle cx="496.9" cy="215.9" r="1.75"/><circle cx="592.4" cy="73.2" r="1.75"/><circle cx="454.9" cy="101.6" r="1.75"/><circle cx="475.5" cy="104.5" r="1.75"/><circle cx="576.7" cy="112.6" r="1.75"/><circle cx="577.7" cy="184.8" r="1.75"/><circle cx="477.4" cy="98.0" r="1.75"/><circle cx="612.2" cy="162.1" r="1.75"/><circle cx="484.4" cy="89.5" r="1.75"/><circle cx="521.2" cy="101.3" r="1.75"/><circle cx="445.4" cy="144.1" r="1.75"/><circle cx="622.3" cy="126.9" r="1.75"/><circle cx="606.3" cy="166.5" r="1.75"/><circle cx="516.2" cy="148.9" r="1.75"/><circle cx="524.9" cy="204.7" r="1.75"/><circle cx="508.8" cy="206.0" r="1.75"/><circle cx="599.8" cy="79.5" r="1.75"/><circle cx="472.7" cy="128.3" r="1.75"/><circle cx="425.0" cy="103.1" r="1.75"/><circle cx="442.3" cy="94.7" r="1.75"/><circle cx="511.1" cy="63.3" r="1.75"/><circle cx="524.0" cy="128.2" r="1.75"/><circle cx="574.9" cy="92.4" r="1.75"/><circle cx="515.1" cy="69.7" r="1.75"/><circle cx="459.5" cy="149.9" r="1.75"/><circle cx="525.2" cy="32.9" r="1.75"/><circle cx="474.5" cy="40.9" r="1.75"/><circle cx="438.0" cy="180.4" r="1.75"/><circle cx="572.4" cy="171.9" r="1.75"/><circle cx="546.7" cy="209.2" r="1.75"/><circle cx="517.7" cy="214.0" r="1.75"/><circle cx="616.3" cy="152.1" r="1.75"/><circle cx="576.7" cy="36.2" r="1.75"/><circle cx="634.7" cy="97.7" r="1.75"/><circle cx="487.2" cy="55.3" r="1.75"/><circle cx="559.8" cy="235.4" r="1.75"/><circle cx="560.9" cy="111.5" r="1.75"/><circle cx="421.3" cy="118.1" r="1.75"/><circle cx="471.1" cy="36.6" r="1.75"/><circle cx="546.7" cy="210.4" r="1.75"/><circle cx="487.7" cy="63.0" r="1.75"/><circle cx="478.3" cy="40.7" r="1.75"/><circle cx="480.1" cy="28.6" r="1.75"/><circle cx="503.9" cy="28.0" r="1.75"/><circle cx="509.8" cy="38.2" r="1.75"/><circle cx="420.0" cy="105.4" r="1.75"/><circle cx="524.7" cy="215.7" r="1.75"/><circle cx="600.5" cy="176.3" r="1.75"/><circle cx="636.0" cy="128.0" r="1.75"/><circle cx="608.6" cy="143.6" r="1.75"/><circle cx="590.3" cy="145.9" r="1.75"/><circle cx="525.3" cy="60.1" r="1.75"/><circle cx="427.7" cy="68.4" r="1.75"/><circle cx="556.7" cy="115.5" r="1.75"/><circle cx="522.0" cy="151.7" r="1.75"/><circle cx="498.4" cy="136.1" r="1.75"/><circle cx="514.8" cy="15.1" r="1.75"/><circle cx="530.3" cy="237.7" r="1.75"/><circle cx="424.4" cy="152.3" r="1.75"/><circle cx="582.0" cy="124.7" r="1.75"/><circle cx="477.3" cy="71.3" r="1.75"/><circle cx="611.6" cy="153.1" r="1.75"/><circle cx="436.2" cy="64.2" r="1.75"/><circle cx="470.7" cy="51.9" r="1.75"/><circle cx="548.3" cy="25.5" r="1.75"/><circle cx="438.3" cy="147.2" r="1.75"/><circle cx="476.5" cy="95.9" r="1.75"/><circle cx="559.7" cy="100.1" r="1.75"/><circle cx="570.1" cy="78.5" r="1.75"/><circle cx="601.2" cy="81.5" r="1.75"/><circle cx="490.8" cy="169.0" r="1.75"/><circle cx="539.8" cy="110.2" r="1.75"/><circle cx="556.6" cy="162.4" r="1.75"/><circle cx="568.4" cy="68.5" r="1.75"/><circle cx="542.4" cy="110.2" r="1.75"/><circle cx="621.8" cy="177.1" r="1.75"/><circle cx="635.5" cy="142.1" r="1.75"/><circle cx="437.6" cy="112.0" r="1.75"/><circle cx="484.9" cy="228.7" r="1.75"/><circle cx="531.4" cy="230.7" r="1.75"/><circle cx="574.2" cy="118.8" r="1.75"/><circle cx="582.7" cy="41.7" r="1.75"/><circle cx="605.8" cy="167.2" r="1.75"/><circle cx="503.4" cy="54.2" r="1.75"/><circle cx="507.2" cy="198.7" r="1.75"/><circle cx="451.0" cy="199.6" r="1.75"/><circle cx="489.1" cy="144.8" r="1.75"/><circle cx="448.5" cy="67.1" r="1.75"/><circle cx="453.0" cy="69.8" r="1.75"/><circle cx="509.3" cy="53.3" r="1.75"/><circle cx="514.7" cy="201.8" r="1.75"/><circle cx="561.8" cy="221.2" r="1.75"/><circle cx="436.9" cy="120.9" r="1.75"/><circle cx="570.6" cy="212.4" r="1.75"/><circle cx="433.6" cy="87.7" r="1.75"/><circle cx="481.3" cy="179.5" r="1.75"/><circle cx="478.5" cy="138.8" r="1.75"/><circle cx="614.3" cy="198.4" r="1.75"/><circle cx="618.6" cy="93.4" r="1.75"/><circle cx="541.2" cy="235.0" r="1.75"/><circle cx="508.1" cy="45.6" r="1.75"/><circle cx="461.5" cy="72.8" r="1.75"/><circle cx="557.5" cy="134.6" r="1.75"/><circle cx="445.2" cy="123.4" r="1.75"/><circle cx="625.4" cy="142.5" r="1.75"/><circle cx="462.0" cy="184.3" r="1.75"/><circle cx="506.1" cy="17.4" r="1.75"/><circle cx="575.7" cy="128.3" r="1.75"/><circle cx="436.1" cy="167.6" r="1.75"/><circle cx="483.8" cy="88.2" r="1.75"/><circle cx="559.5" cy="200.6" r="1.75"/><circle cx="511.4" cy="196.0" r="1.75"/><circle cx="499.6" cy="208.3" r="1.75"/><circle cx="468.6" cy="136.8" r="1.75"/><circle cx="571.6" cy="154.0" r="1.75"/><circle cx="471.9" cy="137.3" r="1.75"/><circle cx="635.4" cy="73.6" r="1.75"/><circle cx="504.9" cy="78.0" r="1.75"/><circle cx="597.4" cy="96.1" r="1.75"/><circle cx="457.2" cy="119.0" r="1.75"/><circle cx="525.1" cy="60.8" r="1.75"/><circle cx="635.2" cy="120.6" r="1.75"/><circle cx="487.3" cy="49.5" r="1.75"/><circle cx="459.7" cy="126.8" r="1.75"/><circle cx="472.7" cy="174.1" r="1.75"/><circle cx="601.8" cy="188.3" r="1.75"/><circle cx="575.5" cy="18.1" r="1.75"/><circle cx="504.8" cy="215.4" r="1.75"/><circle cx="572.3" cy="165.7" r="1.75"/><circle cx="545.1" cy="117.5" r="1.75"/><circle cx="609.6" cy="134.9" r="1.75"/><circle cx="530.6" cy="15.6" r="1.75"/><circle cx="487.1" cy="182.5" r="1.75"/><circle cx="565.2" cy="49.5" r="1.75"/><circle cx="554.8" cy="171.4" r="1.75"/><circle cx="518.0" cy="184.4" r="1.75"/><circle cx="479.3" cy="186.3" r="1.75"/><circle cx="516.1" cy="207.9" r="1.75"/><circle cx="512.6" cy="213.2" r="1.75"/><circle cx="611.3" cy="136.2" r="1.75"/><circle cx="564.5" cy="111.4" r="1.75"/><circle cx="435.4" cy="190.4" r="1.75"/><circle cx="569.3" cy="61.3" r="1.75"/><circle cx="545.8" cy="58.5" r="1.75"/><circle cx="586.8" cy="209.5" r="1.75"/><circle cx="464.8" cy="149.4" r="1.75"/><circle cx="555.8" cy="62.1" r="1.75"/><circle cx="580.3" cy="140.8" r="1.75"/><circle cx="498.4" cy="133.7" r="1.75"/><circle cx="558.5" cy="84.3" r="1.75"/><circle cx="512.5" cy="179.9" r="1.75"/><circle cx="517.8" cy="146.3" r="1.75"/><circle cx="541.3" cy="216.9" r="1.75"/><circle cx="530.1" cy="34.1" r="1.75"/><circle cx="508.5" cy="94.2" r="1.75"/><circle cx="645.9" cy="129.0" r="1.75"/><circle cx="573.6" cy="112.5" r="1.75"/><circle cx="592.1" cy="89.4" r="1.75"/><circle cx="538.3" cy="175.0" r="1.75"/><circle cx="475.8" cy="211.3" r="1.75"/><circle cx="499.7" cy="17.2" r="1.75"/><circle cx="568.6" cy="168.9" r="1.75"/><circle cx="451.7" cy="203.0" r="1.75"/><circle cx="433.9" cy="170.2" r="1.75"/><circle cx="480.6" cy="37.7" r="1.75"/><circle cx="609.7" cy="81.7" r="1.75"/><circle cx="644.3" cy="132.9" r="1.75"/><circle cx="480.8" cy="43.6" r="1.75"/><circle cx="504.9" cy="73.6" r="1.75"/><circle cx="471.9" cy="211.9" r="1.75"/><circle cx="514.1" cy="30.9" r="1.75"/><circle cx="493.0" cy="18.9" r="1.75"/><circle cx="504.4" cy="111.5" r="1.75"/><circle cx="600.7" cy="55.0" r="1.75"/><circle cx="643.8" cy="115.6" r="1.75"/><circle cx="569.0" cy="151.0" r="1.75"/><circle cx="539.5" cy="126.5" r="1.75"/><circle cx="499.0" cy="227.5" r="1.75"/><circle cx="508.2" cy="140.0" r="1.75"/><circle cx="620.1" cy="112.4" r="1.75"/><circle cx="446.7" cy="180.5" r="1.75"/><circle cx="543.4" cy="39.2" r="1.75"/><circle cx="603.2" cy="176.8" r="1.75"/><circle cx="581.4" cy="96.5" r="1.75"/><circle cx="490.7" cy="205.6" r="1.75"/><circle cx="535.2" cy="184.0" r="1.75"/><circle cx="588.1" cy="153.2" r="1.75"/><circle cx="475.2" cy="151.3" r="1.75"/><circle cx="624.2" cy="176.3" r="1.75"/><circle cx="587.6" cy="184.9" r="1.75"/><circle cx="605.2" cy="56.6" r="1.75"/><circle cx="632.6" cy="140.7" r="1.75"/><circle cx="569.1" cy="233.8" r="1.75"/><circle cx="623.3" cy="77.2" r="1.75"/><circle cx="543.6" cy="165.3" r="1.75"/><circle cx="586.3" cy="94.5" r="1.75"/><circle cx="545.2" cy="107.3" r="1.75"/><circle cx="509.1" cy="120.8" r="1.75"/><circle cx="574.0" cy="112.3" r="1.75"/><circle cx="481.5" cy="201.4" r="1.75"/><circle cx="437.9" cy="160.3" r="1.75"/><circle cx="602.8" cy="137.6" r="1.75"/><circle cx="572.5" cy="113.0" r="1.75"/><circle cx="469.1" cy="128.0" r="1.75"/><circle cx="623.9" cy="137.5" r="1.75"/><circle cx="609.6" cy="83.4" r="1.75"/><circle cx="601.9" cy="85.1" r="1.75"/><circle cx="636.5" cy="104.3" r="1.75"/><circle cx="575.8" cy="50.5" r="1.75"/><circle cx="488.7" cy="180.1" r="1.75"/><circle cx="558.9" cy="126.6" r="1.75"/><circle cx="452.1" cy="52.0" r="1.75"/><circle cx="454.7" cy="113.1" r="1.75"/><circle cx="543.0" cy="130.9" r="1.75"/><circle cx="488.0" cy="201.0" r="1.75"/><circle cx="604.0" cy="128.6" r="1.75"/><circle cx="558.1" cy="159.5" r="1.75"/><circle cx="594.6" cy="195.4" r="1.75"/><circle cx="509.5" cy="107.1" r="1.75"/><circle cx="444.2" cy="80.8" r="1.75"/><circle cx="555.8" cy="162.1" r="1.75"/><circle cx="511.1" cy="45.0" r="1.75"/><circle cx="441.5" cy="181.7" r="1.75"/><circle cx="523.6" cy="62.4" r="1.75"/><circle cx="589.7" cy="195.0" r="1.75"/><circle cx="560.5" cy="157.4" r="1.75"/><circle cx="578.8" cy="203.6" r="1.75"/><circle cx="467.2" cy="70.0" r="1.75"/><circle cx="533.9" cy="208.4" r="1.75"/><circle cx="601.2" cy="162.0" r="1.75"/><circle cx="473.1" cy="50.9" r="1.75"/><circle cx="603.5" cy="72.8" r="1.75"/><circle cx="601.6" cy="198.5" r="1.75"/><circle cx="471.9" cy="187.6" r="1.75"/><circle cx="501.0" cy="197.7" r="1.75"/><circle cx="514.4" cy="123.7" r="1.75"/><circle cx="507.1" cy="30.1" r="1.75"/><circle cx="486.0" cy="218.0" r="1.75"/><circle cx="548.6" cy="124.4" r="1.75"/><circle cx="567.7" cy="123.7" r="1.75"/><circle cx="564.6" cy="40.6" r="1.75"/><circle cx="421.8" cy="140.0" r="1.75"/><circle cx="452.8" cy="109.4" r="1.75"/><circle cx="485.6" cy="54.4" r="1.75"/><circle cx="601.5" cy="148.8" r="1.75"/><circle cx="591.7" cy="137.8" r="1.75"/><circle cx="550.9" cy="40.2" r="1.75"/><circle cx="566.2" cy="71.4" r="1.75"/><circle cx="497.6" cy="226.5" r="1.75"/><circle cx="605.0" cy="124.7" r="1.75"/><circle cx="452.1" cy="149.8" r="1.75"/><circle cx="446.1" cy="68.6" r="1.75"/><circle cx="414.7" cy="137.7" r="1.75"/><circle cx="444.8" cy="129.2" r="1.75"/><circle cx="502.4" cy="163.6" r="1.75"/><circle cx="527.4" cy="226.9" r="1.75"/><circle cx="587.3" cy="94.1" r="1.75"/><circle cx="503.4" cy="19.9" r="1.75"/><circle cx="483.5" cy="204.8" r="1.75"/><circle cx="594.7" cy="123.6" r="1.75"/><circle cx="576.1" cy="125.2" r="1.75"/><circle cx="525.5" cy="13.6" r="1.75"/><circle cx="420.2" cy="108.6" r="1.75"/><circle cx="567.0" cy="206.5" r="1.75"/><circle cx="491.9" cy="102.5" r="1.75"/><circle cx="577.5" cy="134.2" r="1.75"/><circle cx="611.6" cy="100.4" r="1.75"/><circle cx="471.4" cy="57.8" r="1.75"/><circle cx="451.2" cy="66.4" r="1.75"/><circle cx="494.9" cy="174.4" r="1.75"/><circle cx="599.0" cy="149.3" r="1.75"/><circle cx="531.2" cy="66.9" r="1.75"/><circle cx="611.7" cy="168.2" r="1.75"/><circle cx="554.2" cy="207.6" r="1.75"/><circle cx="642.9" cy="138.6" r="1.75"/><circle cx="582.9" cy="146.5" r="1.75"/><circle cx="498.8" cy="139.6" r="1.75"/><circle cx="525.4" cy="227.0" r="1.75"/><circle cx="518.4" cy="240.1" r="1.75"/><circle cx="476.0" cy="71.0" r="1.75"/><circle cx="532.6" cy="128.0" r="1.75"/><circle cx="525.5" cy="114.8" r="1.75"/><circle cx="481.1" cy="44.2" r="1.75"/><circle cx="443.8" cy="193.8" r="1.75"/><circle cx="503.8" cy="29.5" r="1.75"/><circle cx="573.6" cy="56.0" r="1.75"/><circle cx="494.8" cy="157.3" r="1.75"/><circle cx="545.9" cy="153.5" r="1.75"/><circle cx="494.5" cy="151.4" r="1.75"/><circle cx="595.2" cy="184.5" r="1.75"/><circle cx="520.8" cy="64.6" r="1.75"/><circle cx="533.7" cy="40.2" r="1.75"/><circle cx="495.2" cy="77.1" r="1.75"/><circle cx="505.1" cy="117.1" r="1.75"/><circle cx="635.0" cy="162.3" r="1.75"/><circle cx="509.6" cy="96.6" r="1.75"/><circle cx="555.4" cy="72.7" r="1.75"/><circle cx="468.2" cy="224.9" r="1.75"/><circle cx="475.7" cy="61.5" r="1.75"/><circle cx="551.1" cy="103.1" r="1.75"/><circle cx="498.1" cy="126.2" r="1.75"/><circle cx="562.3" cy="213.8" r="1.75"/><circle cx="453.2" cy="56.0" r="1.75"/><circle cx="516.8" cy="31.0" r="1.75"/><circle cx="475.5" cy="57.7" r="1.75"/><circle cx="483.9" cy="84.3" r="1.75"/><circle cx="539.4" cy="75.7" r="1.75"/><circle cx="460.5" cy="166.1" r="1.75"/><circle cx="463.1" cy="86.2" r="1.75"/><circle cx="602.5" cy="187.7" r="1.75"/><circle cx="431.2" cy="123.2" r="1.75"/><circle cx="513.0" cy="180.6" r="1.75"/><circle cx="485.7" cy="228.9" r="1.75"/><circle cx="507.5" cy="185.0" r="1.75"/><circle cx="462.9" cy="101.1" r="1.75"/><circle cx="534.2" cy="216.7" r="1.75"/><circle cx="462.5" cy="217.4" r="1.75"/><circle cx="538.8" cy="203.8" r="1.75"/><circle cx="576.3" cy="34.3" r="1.75"/><circle cx="616.7" cy="182.7" r="1.75"/><circle cx="541.0" cy="146.7" r="1.75"/><circle cx="511.8" cy="140.1" r="1.75"/><circle cx="445.0" cy="127.7" r="1.75"/><circle cx="527.9" cy="219.8" r="1.75"/><circle cx="541.0" cy="104.3" r="1.75"/><circle cx="527.4" cy="237.2" r="1.75"/><circle cx="613.0" cy="108.4" r="1.75"/><circle cx="571.1" cy="52.3" r="1.75"/><circle cx="551.3" cy="104.6" r="1.75"/><circle cx="602.3" cy="137.6" r="1.75"/><circle cx="490.4" cy="111.1" r="1.75"/><circle cx="486.4" cy="31.1" r="1.75"/><circle cx="510.0" cy="149.8" r="1.75"/><circle cx="599.7" cy="83.9" r="1.75"/><circle cx="472.8" cy="48.1" r="1.75"/><circle cx="570.9" cy="55.1" r="1.75"/><circle cx="488.6" cy="188.4" r="1.75"/><circle cx="514.5" cy="166.7" r="1.75"/><circle cx="586.1" cy="52.0" r="1.75"/><circle cx="500.4" cy="174.6" r="1.75"/><circle cx="542.6" cy="185.5" r="1.75"/><circle cx="442.3" cy="114.1" r="1.75"/><circle cx="501.8" cy="46.2" r="1.75"/><circle cx="622.0" cy="171.5" r="1.75"/><circle cx="485.3" cy="15.8" r="1.75"/><circle cx="443.2" cy="160.7" r="1.75"/><circle cx="482.0" cy="43.3" r="1.75"/><circle cx="605.4" cy="92.3" r="1.75"/><circle cx="498.9" cy="160.7" r="1.75"/><circle cx="547.4" cy="15.3" r="1.75"/><circle cx="536.6" cy="148.1" r="1.75"/><circle cx="642.6" cy="125.7" r="1.75"/><circle cx="595.4" cy="118.5" r="1.75"/><circle cx="494.9" cy="138.7" r="1.75"/><circle cx="515.3" cy="3.7" r="1.75"/><circle cx="509.5" cy="240.7" r="1.75"/><circle cx="466.3" cy="113.7" r="1.75"/><circle cx="442.0" cy="92.6" r="1.75"/><circle cx="544.9" cy="37.7" r="1.75"/><circle cx="448.1" cy="88.5" r="1.75"/><circle cx="547.5" cy="134.1" r="1.75"/><circle cx="553.8" cy="199.9" r="1.75"/><circle cx="425.8" cy="98.0" r="1.75"/><circle cx="548.3" cy="213.0" r="1.75"/><circle cx="526.9" cy="209.1" r="1.75"/><circle cx="486.4" cy="148.3" r="1.75"/><circle cx="459.3" cy="199.4" r="1.75"/><circle cx="606.1" cy="38.2" r="1.75"/><circle cx="516.6" cy="220.9" r="1.75"/><circle cx="565.4" cy="163.1" r="1.75"/><circle cx="561.1" cy="231.9" r="1.75"/><circle cx="630.8" cy="170.5" r="1.75"/><circle cx="493.7" cy="65.7" r="1.75"/><circle cx="571.1" cy="122.1" r="1.75"/><circle cx="456.2" cy="34.4" r="1.75"/><circle cx="468.7" cy="176.9" r="1.75"/><circle cx="564.0" cy="225.0" r="1.75"/><circle cx="458.4" cy="188.6" r="1.75"/><circle cx="536.7" cy="95.9" r="1.75"/><circle cx="432.0" cy="163.5" r="1.75"/><circle cx="563.4" cy="78.3" r="1.75"/><circle cx="433.2" cy="171.2" r="1.75"/><circle cx="531.6" cy="219.1" r="1.75"/><circle cx="476.5" cy="226.0" r="1.75"/><circle cx="562.6" cy="176.7" r="1.75"/><circle cx="589.6" cy="51.9" r="1.75"/><circle cx="436.0" cy="114.7" r="1.75"/><circle cx="514.5" cy="138.0" r="1.75"/><circle cx="517.1" cy="244.2" r="1.75"/><circle cx="601.1" cy="141.2" r="1.75"/><circle cx="571.4" cy="85.7" r="1.75"/><circle cx="635.6" cy="125.5" r="1.75"/><circle cx="503.9" cy="143.4" r="1.75"/><circle cx="461.0" cy="121.4" r="1.75"/><circle cx="494.3" cy="27.9" r="1.75"/><circle cx="585.6" cy="101.8" r="1.75"/><circle cx="566.5" cy="154.6" r="1.75"/><circle cx="456.7" cy="85.3" r="1.75"/><circle cx="607.1" cy="183.3" r="1.75"/><circle cx="481.9" cy="215.3" r="1.75"/><circle cx="496.1" cy="84.2" r="1.75"/><circle cx="418.9" cy="106.3" r="1.75"/><circle cx="611.4" cy="84.4" r="1.75"/><circle cx="515.0" cy="72.8" r="1.75"/><circle cx="590.9" cy="192.5" r="1.75"/><circle cx="552.0" cy="25.6" r="1.75"/><circle cx="487.8" cy="76.5" r="1.75"/><circle cx="505.2" cy="24.0" r="1.75"/><circle cx="532.1" cy="215.8" r="1.75"/><circle cx="569.4" cy="191.2" r="1.75"/><circle cx="519.6" cy="154.3" r="1.75"/><circle cx="574.9" cy="37.1" r="1.75"/><circle cx="619.2" cy="76.6" r="1.75"/><circle cx="617.6" cy="176.1" r="1.75"/><circle cx="559.7" cy="211.7" r="1.75"/><circle cx="572.4" cy="140.7" r="1.75"/><circle cx="602.4" cy="191.3" r="1.75"/><circle cx="613.7" cy="39.3" r="1.75"/><circle cx="646.9" cy="135.4" r="1.75"/><circle cx="498.2" cy="209.9" r="1.75"/><circle cx="470.9" cy="190.5" r="1.75"/><circle cx="453.2" cy="142.7" r="1.75"/><circle cx="592.0" cy="89.7" r="1.75"/><circle cx="453.9" cy="116.6" r="1.75"/><circle cx="577.0" cy="64.9" r="1.75"/><circle cx="536.6" cy="43.4" r="1.75"/><circle cx="586.2" cy="42.8" r="1.75"/><circle cx="436.9" cy="120.6" r="1.75"/><circle cx="435.2" cy="168.8" r="1.75"/><circle cx="561.2" cy="167.4" r="1.75"/><circle cx="513.6" cy="68.2" r="1.75"/><circle cx="583.6" cy="129.9" r="1.75"/><circle cx="471.4" cy="197.8" r="1.75"/><circle cx="447.1" cy="70.6" r="1.75"/><circle cx="560.9" cy="75.6" r="1.75"/><circle cx="461.5" cy="80.3" r="1.75"/><circle cx="515.3" cy="12.7" r="1.75"/><circle cx="622.4" cy="130.3" r="1.75"/><circle cx="456.5" cy="193.3" r="1.75"/><circle cx="495.1" cy="183.0" r="1.75"/><circle cx="513.5" cy="89.2" r="1.75"/><circle cx="622.3" cy="143.7" r="1.75"/><circle cx="425.6" cy="123.7" r="1.75"/><circle cx="593.0" cy="153.4" r="1.75"/><circle cx="576.0" cy="98.0" r="1.75"/><circle cx="608.6" cy="111.1" r="1.75"/><circle cx="543.7" cy="209.8" r="1.75"/><circle cx="531.6" cy="186.3" r="1.75"/><circle cx="520.0" cy="27.4" r="1.75"/><circle cx="536.2" cy="187.6" r="1.75"/><circle cx="623.4" cy="184.3" r="1.75"/><circle cx="458.8" cy="161.1" r="1.75"/><circle cx="441.3" cy="180.4" r="1.75"/><circle cx="574.4" cy="205.2" r="1.75"/><circle cx="633.7" cy="142.3" r="1.75"/><circle cx="498.3" cy="74.7" r="1.75"/><circle cx="568.0" cy="134.3" r="1.75"/><circle cx="555.6" cy="126.7" r="1.75"/><circle cx="619.7" cy="128.7" r="1.75"/><circle cx="457.2" cy="74.2" r="1.75"/><circle cx="550.3" cy="208.9" r="1.75"/><circle cx="452.3" cy="161.6" r="1.75"/><circle cx="529.0" cy="32.0" r="1.75"/><circle cx="503.1" cy="38.1" r="1.75"/><circle cx="509.7" cy="77.2" r="1.75"/><circle cx="450.4" cy="77.3" r="1.75"/><circle cx="492.8" cy="33.6" r="1.75"/><circle cx="459.0" cy="144.1" r="1.75"/><circle cx="419.1" cy="103.9" r="1.75"/><circle cx="507.8" cy="142.3" r="1.75"/><circle cx="438.3" cy="166.6" r="1.75"/><circle cx="605.2" cy="124.5" r="1.75"/><circle cx="512.3" cy="93.1" r="1.75"/><circle cx="636.2" cy="77.1" r="1.75"/><circle cx="531.7" cy="153.7" r="1.75"/><circle cx="494.6" cy="14.7" r="1.75"/><circle cx="490.6" cy="108.6" r="1.75"/><circle cx="463.4" cy="196.3" r="1.75"/><circle cx="491.3" cy="136.0" r="1.75"/><circle cx="616.8" cy="100.7" r="1.75"/><circle cx="593.5" cy="151.0" r="1.75"/><circle cx="433.1" cy="112.3" r="1.75"/><circle cx="585.5" cy="58.0" r="1.75"/><circle cx="457.0" cy="182.2" r="1.75"/><circle cx="523.8" cy="82.0" r="1.75"/><circle cx="481.0" cy="113.4" r="1.75"/><circle cx="461.2" cy="152.9" r="1.75"/><circle cx="504.0" cy="59.1" r="1.75"/><circle cx="485.3" cy="228.6" r="1.75"/><circle cx="512.4" cy="214.3" r="1.75"/><circle cx="609.9" cy="131.5" r="1.75"/><circle cx="559.0" cy="191.6" r="1.75"/><circle cx="528.8" cy="195.5" r="1.75"/><circle cx="478.5" cy="101.3" r="1.75"/><circle cx="570.5" cy="187.7" r="1.75"/><circle cx="616.4" cy="181.2" r="1.75"/><circle cx="478.5" cy="171.6" r="1.75"/><circle cx="550.7" cy="30.4" r="1.75"/><circle cx="476.3" cy="109.6" r="1.75"/><circle cx="568.0" cy="58.0" r="1.75"/><circle cx="512.1" cy="144.0" r="1.75"/><circle cx="525.7" cy="150.2" r="1.75"/><circle cx="455.8" cy="206.8" r="1.75"/><circle cx="532.4" cy="78.9" r="1.75"/><circle cx="553.0" cy="85.9" r="1.75"/><circle cx="434.8" cy="153.4" r="1.75"/><circle cx="541.9" cy="186.9" r="1.75"/><circle cx="627.4" cy="166.7" r="1.75"/><circle cx="572.7" cy="172.3" r="1.75"/><circle cx="525.5" cy="59.8" r="1.75"/><circle cx="489.3" cy="106.2" r="1.75"/><circle cx="589.4" cy="51.3" r="1.75"/><circle cx="429.6" cy="161.2" r="1.75"/><circle cx="532.0" cy="15.4" r="1.75"/><circle cx="440.5" cy="118.4" r="1.75"/><circle cx="469.6" cy="64.9" r="1.75"/><circle cx="536.0" cy="83.9" r="1.75"/><circle cx="561.7" cy="92.5" r="1.75"/><circle cx="548.0" cy="54.2" r="1.75"/><circle cx="482.6" cy="84.6" r="1.75"/><circle cx="535.0" cy="39.6" r="1.75"/><circle cx="603.8" cy="142.7" r="1.75"/><circle cx="603.1" cy="139.8" r="1.75"/><circle cx="444.2" cy="120.1" r="1.75"/><circle cx="477.6" cy="83.0" r="1.75"/><circle cx="596.5" cy="197.7" r="1.75"/><circle cx="537.8" cy="102.5" r="1.75"/><circle cx="509.4" cy="234.0" r="1.75"/><circle cx="462.4" cy="32.9" r="1.75"/><circle cx="572.2" cy="156.6" r="1.75"/><circle cx="520.8" cy="194.1" r="1.75"/><circle cx="573.8" cy="47.9" r="1.75"/><circle cx="528.8" cy="180.0" r="1.75"/><circle cx="610.2" cy="192.3" r="1.75"/><circle cx="565.0" cy="64.5" r="1.75"/><circle cx="597.2" cy="67.2" r="1.75"/><circle cx="595.0" cy="137.0" r="1.75"/><circle cx="495.5" cy="50.3" r="1.75"/><circle cx="544.8" cy="128.7" r="1.75"/><circle cx="610.2" cy="42.7" r="1.75"/><circle cx="569.0" cy="94.0" r="1.75"/><circle cx="481.1" cy="51.1" r="1.75"/><circle cx="579.8" cy="141.1" r="1.75"/><circle cx="605.6" cy="75.2" r="1.75"/><circle cx="565.5" cy="164.0" r="1.75"/><circle cx="491.8" cy="214.5" r="1.75"/><circle cx="435.3" cy="189.9" r="1.75"/><circle cx="487.2" cy="176.2" r="1.75"/><circle cx="623.6" cy="71.2" r="1.75"/><circle cx="445.9" cy="56.2" r="1.75"/><circle cx="488.1" cy="219.9" r="1.75"/><circle cx="601.5" cy="104.4" r="1.75"/><circle cx="601.8" cy="209.9" r="1.75"/><circle cx="542.0" cy="125.3" r="1.75"/><circle cx="463.1" cy="72.6" r="1.75"/><circle cx="630.5" cy="86.5" r="1.75"/><circle cx="451.9" cy="70.4" r="1.75"/><circle cx="631.2" cy="86.3" r="1.75"/><circle cx="632.6" cy="61.9" r="1.75"/><circle cx="482.8" cy="76.9" r="1.75"/><circle cx="532.0" cy="84.3" r="1.75"/><circle cx="615.0" cy="106.6" r="1.75"/><circle cx="496.0" cy="232.5" r="1.75"/><circle cx="619.1" cy="94.5" r="1.75"/><circle cx="432.7" cy="57.7" r="1.75"/><circle cx="564.4" cy="106.0" r="1.75"/><circle cx="552.0" cy="215.6" r="1.75"/><circle cx="520.7" cy="50.4" r="1.75"/><circle cx="517.5" cy="74.0" r="1.75"/><circle cx="521.8" cy="143.8" r="1.75"/><circle cx="597.7" cy="128.2" r="1.75"/><circle cx="523.3" cy="209.6" r="1.75"/><circle cx="477.3" cy="74.4" r="1.75"/><circle cx="507.0" cy="155.5" r="1.75"/><circle cx="539.4" cy="18.8" r="1.75"/><circle cx="474.8" cy="29.9" r="1.75"/><circle cx="510.1" cy="187.3" r="1.75"/><circle cx="446.9" cy="99.9" r="1.75"/><circle cx="600.6" cy="131.4" r="1.75"/><circle cx="515.9" cy="155.0" r="1.75"/><circle cx="579.5" cy="231.5" r="1.75"/><circle cx="599.5" cy="200.9" r="1.75"/><circle cx="489.3" cy="157.8" r="1.75"/><circle cx="469.1" cy="123.6" r="1.75"/><circle cx="469.8" cy="25.0" r="1.75"/><circle cx="583.9" cy="26.9" r="1.75"/><circle cx="457.3" cy="80.1" r="1.75"/><circle cx="582.7" cy="217.7" r="1.75"/><circle cx="630.4" cy="95.8" r="1.75"/><circle cx="509.7" cy="122.3" r="1.75"/><circle cx="459.6" cy="155.8" r="1.75"/><circle cx="504.2" cy="107.7" r="1.75"/><circle cx="580.8" cy="217.4" r="1.75"/><circle cx="611.0" cy="92.5" r="1.75"/><circle cx="514.3" cy="241.8" r="1.75"/><circle cx="539.1" cy="42.8" r="1.75"/><circle cx="485.6" cy="124.2" r="1.75"/><circle cx="501.5" cy="124.8" r="1.75"/><circle cx="531.3" cy="111.0" r="1.75"/><circle cx="502.6" cy="224.5" r="1.75"/><circle cx="620.7" cy="117.9" r="1.75"/><circle cx="615.6" cy="119.1" r="1.75"/><circle cx="562.4" cy="17.6" r="1.75"/><circle cx="639.1" cy="163.9" r="1.75"/><circle cx="527.7" cy="144.7" r="1.75"/><circle cx="487.0" cy="135.8" r="1.75"/><circle cx="505.2" cy="35.2" r="1.75"/><circle cx="536.9" cy="234.7" r="1.75"/><circle cx="474.5" cy="137.8" r="1.75"/><circle cx="517.1" cy="215.0" r="1.75"/><circle cx="628.0" cy="95.7" r="1.75"/><circle cx="497.9" cy="192.1" r="1.75"/><circle cx="573.8" cy="66.8" r="1.75"/><circle cx="490.6" cy="176.3" r="1.75"/><circle cx="482.2" cy="103.8" r="1.75"/><circle cx="574.9" cy="20.9" r="1.75"/><circle cx="419.8" cy="80.3" r="1.75"/><circle cx="439.4" cy="68.9" r="1.75"/><circle cx="555.3" cy="138.4" r="1.75"/><circle cx="614.2" cy="170.5" r="1.75"/><circle cx="522.8" cy="209.3" r="1.75"/><circle cx="554.1" cy="55.9" r="1.75"/><circle cx="482.8" cy="32.8" r="1.75"/><circle cx="570.7" cy="227.8" r="1.75"/><circle cx="566.0" cy="138.9" r="1.75"/><circle cx="454.1" cy="58.4" r="1.75"/><circle cx="531.2" cy="70.7" r="1.75"/><circle cx="612.3" cy="109.2" r="1.75"/><circle cx="624.5" cy="160.2" r="1.75"/><circle cx="448.4" cy="191.2" r="1.75"/><circle cx="595.3" cy="112.1" r="1.75"/><circle cx="496.0" cy="200.0" r="1.75"/><circle cx="427.5" cy="152.2" r="1.75"/><circle cx="594.9" cy="193.0" r="1.75"/><circle cx="457.4" cy="213.9" r="1.75"/><circle cx="529.5" cy="64.9" r="1.75"/><circle cx="645.1" cy="92.1" r="1.75"/><circle cx="524.4" cy="48.8" r="1.75"/><circle cx="523.4" cy="111.9" r="1.75"/><circle cx="608.9" cy="76.7" r="1.75"/><circle cx="487.0" cy="70.6" r="1.75"/><circle cx="475.1" cy="221.9" r="1.75"/><circle cx="480.3" cy="160.3" r="1.75"/><circle cx="592.9" cy="163.3" r="1.75"/><circle cx="544.2" cy="227.2" r="1.75"/><circle cx="587.1" cy="197.0" r="1.75"/><circle cx="467.2" cy="102.2" r="1.75"/><circle cx="440.2" cy="155.5" r="1.75"/><circle cx="463.3" cy="161.3" r="1.75"/><circle cx="508.0" cy="217.8" r="1.75"/><circle cx="479.7" cy="164.0" r="1.75"/><circle cx="584.3" cy="187.2" r="1.75"/><circle cx="610.5" cy="113.5" r="1.75"/><circle cx="611.5" cy="180.1" r="1.75"/><circle cx="467.3" cy="112.1" r="1.75"/><circle cx="604.8" cy="138.7" r="1.75"/><circle cx="537.9" cy="17.6" r="1.75"/><circle cx="587.1" cy="46.4" r="1.75"/><circle cx="490.1" cy="188.8" r="1.75"/><circle cx="603.3" cy="87.1" r="1.75"/><circle cx="453.5" cy="110.2" r="1.75"/><circle cx="497.5" cy="74.5" r="1.75"/><circle cx="577.0" cy="166.7" r="1.75"/><circle cx="523.2" cy="190.4" r="1.75"/><circle cx="555.1" cy="215.4" r="1.75"/><circle cx="557.8" cy="124.0" r="1.75"/><circle cx="519.4" cy="72.8" r="1.75"/><circle cx="465.0" cy="164.1" r="1.75"/><circle cx="501.8" cy="25.3" r="1.75"/><circle cx="558.8" cy="22.8" r="1.75"/><circle cx="556.6" cy="203.2" r="1.75"/><circle cx="590.0" cy="197.6" r="1.75"/><circle cx="485.1" cy="230.7" r="1.75"/><circle cx="622.5" cy="115.5" r="1.75"/><circle cx="553.4" cy="185.8" r="1.75"/><circle cx="519.6" cy="184.1" r="1.75"/><circle cx="523.3" cy="238.3" r="1.75"/><circle cx="595.5" cy="176.8" r="1.75"/><circle cx="508.9" cy="141.9" r="1.75"/><circle cx="446.0" cy="96.8" r="1.75"/><circle cx="494.3" cy="61.3" r="1.75"/><circle cx="489.9" cy="146.5" r="1.75"/><circle cx="621.5" cy="126.7" r="1.75"/><circle cx="548.3" cy="210.1" r="1.75"/><circle cx="603.8" cy="88.7" r="1.75"/><circle cx="545.7" cy="162.2" r="1.75"/><circle cx="511.6" cy="94.5" r="1.75"/><circle cx="641.0" cy="103.8" r="1.75"/><circle cx="558.8" cy="130.3" r="1.75"/><circle cx="600.7" cy="88.4" r="1.75"/><circle cx="566.6" cy="229.7" r="1.75"/><circle cx="521.9" cy="215.2" r="1.75"/><circle cx="586.2" cy="204.2" r="1.75"/><circle cx="549.0" cy="76.5" r="1.75"/><circle cx="562.5" cy="100.9" r="1.75"/><circle cx="482.5" cy="101.6" r="1.75"/><circle cx="619.4" cy="74.1" r="1.75"/><circle cx="503.7" cy="117.1" r="1.75"/><circle cx="502.2" cy="219.3" r="1.75"/><circle cx="460.4" cy="50.7" r="1.75"/><circle cx="503.2" cy="179.2" r="1.75"/><circle cx="438.5" cy="166.7" r="1.75"/><circle cx="458.7" cy="124.7" r="1.75"/><circle cx="468.3" cy="104.4" r="1.75"/><circle cx="523.7" cy="29.3" r="1.75"/><circle cx="502.3" cy="118.4" r="1.75"/><circle cx="451.7" cy="157.2" r="1.75"/><circle cx="461.0" cy="116.7" r="1.75"/><circle cx="594.2" cy="172.5" r="1.75"/><circle cx="578.7" cy="177.8" r="1.75"/><circle cx="478.5" cy="167.7" r="1.75"/><circle cx="557.5" cy="53.9" r="1.75"/><circle cx="459.0" cy="143.3" r="1.75"/><circle cx="602.1" cy="159.9" r="1.75"/><circle cx="581.1" cy="164.8" r="1.75"/><circle cx="629.2" cy="188.9" r="1.75"/><circle cx="518.8" cy="59.9" r="1.75"/><circle cx="573.5" cy="151.5" r="1.75"/><circle cx="489.6" cy="235.9" r="1.75"/><circle cx="627.8" cy="122.3" r="1.75"/><circle cx="531.5" cy="194.2" r="1.75"/><circle cx="464.7" cy="29.6" r="1.75"/><circle cx="515.2" cy="88.0" r="1.75"/><circle cx="617.4" cy="56.0" r="1.75"/><circle cx="583.4" cy="90.0" r="1.75"/><circle cx="500.4" cy="75.9" r="1.75"/><circle cx="444.5" cy="175.3" r="1.75"/><circle cx="528.6" cy="48.1" r="1.75"/><circle cx="631.3" cy="138.9" r="1.75"/><circle cx="558.5" cy="59.9" r="1.75"/><circle cx="611.7" cy="137.7" r="1.75"/><circle cx="578.0" cy="105.8" r="1.75"/><circle cx="645.1" cy="104.5" r="1.75"/><circle cx="498.5" cy="223.5" r="1.75"/><circle cx="481.0" cy="110.5" r="1.75"/><circle cx="556.4" cy="30.6" r="1.75"/><circle cx="477.8" cy="189.6" r="1.75"/><circle cx="496.9" cy="141.0" r="1.75"/><circle cx="501.9" cy="103.0" r="1.75"/><circle cx="446.6" cy="82.7" r="1.75"/><circle cx="479.8" cy="223.8" r="1.75"/><circle cx="447.5" cy="115.5" r="1.75"/><circle cx="420.0" cy="112.9" r="1.75"/><circle cx="425.3" cy="82.3" r="1.75"/><circle cx="523.7" cy="168.2" r="1.75"/><circle cx="535.5" cy="71.3" r="1.75"/><circle cx="569.4" cy="130.9" r="1.75"/><circle cx="549.4" cy="230.8" r="1.75"/><circle cx="527.7" cy="52.7" r="1.75"/><circle cx="549.3" cy="193.2" r="1.75"/><circle cx="593.9" cy="21.5" r="1.75"/><circle cx="545.8" cy="190.8" r="1.75"/><circle cx="649.2" cy="117.3" r="1.75"/><circle cx="516.2" cy="217.0" r="1.75"/><circle cx="620.8" cy="129.5" r="1.75"/><circle cx="453.1" cy="112.0" r="1.75"/><circle cx="448.3" cy="86.0" r="1.75"/><circle cx="552.4" cy="164.7" r="1.75"/><circle cx="429.6" cy="77.4" r="1.75"/><circle cx="562.4" cy="216.2" r="1.75"/><circle cx="516.6" cy="121.7" r="1.75"/><circle cx="499.8" cy="164.2" r="1.75"/><circle cx="511.3" cy="62.0" r="1.75"/><circle cx="468.5" cy="111.8" r="1.75"/><circle cx="520.4" cy="68.5" r="1.75"/><circle cx="483.2" cy="43.8" r="1.75"/><circle cx="636.3" cy="90.6" r="1.75"/><circle cx="560.3" cy="224.8" r="1.75"/><circle cx="492.1" cy="163.5" r="1.75"/><circle cx="569.4" cy="61.1" r="1.75"/><circle cx="578.5" cy="193.8" r="1.75"/><circle cx="493.0" cy="217.1" r="1.75"/><circle cx="533.8" cy="20.3" r="1.75"/><circle cx="505.2" cy="136.5" r="1.75"/><circle cx="596.9" cy="60.0" r="1.75"/><circle cx="545.4" cy="236.9" r="1.75"/><circle cx="458.8" cy="128.6" r="1.75"/><circle cx="601.2" cy="124.1" r="1.75"/><circle cx="522.4" cy="33.7" r="1.75"/><circle cx="517.5" cy="50.8" r="1.75"/><circle cx="620.5" cy="77.3" r="1.75"/><circle cx="541.4" cy="94.7" r="1.75"/><circle cx="501.1" cy="153.9" r="1.75"/><circle cx="513.0" cy="130.5" r="1.75"/><circle cx="551.3" cy="200.3" r="1.75"/><circle cx="474.8" cy="160.7" r="1.75"/><circle cx="552.9" cy="195.0" r="1.75"/><circle cx="458.3" cy="184.8" r="1.75"/><circle cx="491.6" cy="124.5" r="1.75"/><circle cx="531.0" cy="104.3" r="1.75"/><circle cx="526.8" cy="158.5" r="1.75"/><circle cx="456.4" cy="75.7" r="1.75"/><circle cx="547.8" cy="228.8" r="1.75"/><circle cx="594.2" cy="59.1" r="1.75"/><circle cx="552.6" cy="97.2" r="1.75"/><circle cx="445.6" cy="192.5" r="1.75"/><circle cx="465.5" cy="51.3" r="1.75"/><circle cx="588.9" cy="52.2" r="1.75"/><circle cx="486.1" cy="125.2" r="1.75"/><circle cx="569.5" cy="28.2" r="1.75"/><circle cx="448.6" cy="149.8" r="1.75"/><circle cx="468.7" cy="191.2" r="1.75"/><circle cx="459.4" cy="153.7" r="1.75"/><circle cx="424.4" cy="135.1" r="1.75"/><circle cx="436.3" cy="94.2" r="1.75"/><circle cx="569.4" cy="24.1" r="1.75"/><circle cx="454.1" cy="188.4" r="1.75"/><circle cx="478.7" cy="166.8" r="1.75"/><circle cx="541.2" cy="41.9" r="1.75"/><circle cx="469.3" cy="86.0" r="1.75"/><circle cx="455.5" cy="34.3" r="1.75"/><circle cx="565.7" cy="136.6" r="1.75"/><circle cx="486.9" cy="19.5" r="1.75"/><circle cx="577.5" cy="127.0" r="1.75"/><circle cx="594.4" cy="34.1" r="1.75"/><circle cx="610.1" cy="172.9" r="1.75"/><circle cx="575.8" cy="113.4" r="1.75"/><circle cx="465.9" cy="177.7" r="1.75"/><circle cx="594.3" cy="200.8" r="1.75"/><circle cx="487.4" cy="219.2" r="1.75"/><circle cx="476.7" cy="168.9" r="1.75"/><circle cx="574.2" cy="136.5" r="1.75"/><circle cx="425.7" cy="184.3" r="1.75"/><circle cx="578.1" cy="198.9" r="1.75"/><circle cx="619.2" cy="59.3" r="1.75"/><circle cx="630.1" cy="85.0" r="1.75"/><circle cx="606.1" cy="69.8" r="1.75"/><circle cx="476.1" cy="83.6" r="1.75"/><circle cx="477.0" cy="190.7" r="1.75"/><circle cx="554.0" cy="113.7" r="1.75"/><circle cx="472.2" cy="130.0" r="1.75"/><circle cx="501.9" cy="139.9" r="1.75"/><circle cx="563.8" cy="143.8" r="1.75"/><circle cx="543.8" cy="40.4" r="1.75"/><circle cx="475.7" cy="105.0" r="1.75"/><circle cx="481.6" cy="138.0" r="1.75"/><circle cx="619.1" cy="118.5" r="1.75"/><circle cx="524.4" cy="162.3" r="1.75"/><circle cx="538.2" cy="192.3" r="1.75"/><circle cx="487.2" cy="113.4" r="1.75"/><circle cx="598.0" cy="133.7" r="1.75"/><circle cx="577.4" cy="78.8" r="1.75"/><circle cx="517.1" cy="66.4" r="1.75"/><circle cx="553.3" cy="186.8" r="1.75"/><circle cx="633.0" cy="143.7" r="1.75"/><circle cx="442.8" cy="145.3" r="1.75"/><circle cx="560.9" cy="11.5" r="1.75"/><circle cx="487.9" cy="178.8" r="1.75"/><circle cx="493.4" cy="220.4" r="1.75"/><circle cx="587.9" cy="111.8" r="1.75"/><circle cx="590.0" cy="41.0" r="1.75"/><circle cx="539.7" cy="159.4" r="1.75"/><circle cx="439.3" cy="111.0" r="1.75"/><circle cx="557.8" cy="64.1" r="1.75"/><circle cx="556.9" cy="66.9" r="1.75"/><circle cx="568.1" cy="97.8" r="1.75"/><circle cx="593.5" cy="147.8" r="1.75"/><circle cx="608.5" cy="142.7" r="1.75"/><circle cx="527.5" cy="111.4" r="1.75"/><circle cx="499.0" cy="204.3" r="1.75"/><circle cx="545.6" cy="94.8" r="1.75"/><circle cx="495.8" cy="66.9" r="1.75"/><circle cx="597.8" cy="212.1" r="1.75"/><circle cx="567.1" cy="187.7" r="1.75"/><circle cx="601.4" cy="120.8" r="1.75"/><circle cx="540.3" cy="131.1" r="1.75"/><circle cx="574.9" cy="69.6" r="1.75"/><circle cx="588.4" cy="110.6" r="1.75"/><circle cx="479.4" cy="177.2" r="1.75"/><circle cx="592.4" cy="214.6" r="1.75"/><circle cx="605.0" cy="88.2" r="1.75"/><circle cx="578.5" cy="200.8" r="1.75"/><circle cx="573.6" cy="160.9" r="1.75"/><circle cx="625.6" cy="182.4" r="1.75"/><circle cx="565.2" cy="166.9" r="1.75"/><circle cx="598.9" cy="123.8" r="1.75"/><circle cx="563.8" cy="22.3" r="1.75"/><circle cx="582.5" cy="29.9" r="1.75"/><circle cx="460.2" cy="195.6" r="1.75"/><circle cx="487.9" cy="116.5" r="1.75"/><circle cx="490.3" cy="149.2" r="1.75"/><circle cx="586.5" cy="92.0" r="1.75"/><circle cx="518.3" cy="111.3" r="1.75"/><circle cx="480.6" cy="82.4" r="1.75"/><circle cx="528.8" cy="191.0" r="1.75"/><circle cx="519.7" cy="48.7" r="1.75"/><circle cx="506.3" cy="157.0" r="1.75"/><circle cx="423.0" cy="94.1" r="1.75"/><circle cx="455.2" cy="32.0" r="1.75"/><circle cx="542.6" cy="62.0" r="1.75"/><circle cx="482.5" cy="63.7" r="1.75"/><circle cx="606.7" cy="179.0" r="1.75"/><circle cx="529.7" cy="164.5" r="1.75"/><circle cx="538.6" cy="17.5" r="1.75"/><circle cx="608.4" cy="100.8" r="1.75"/><circle cx="592.1" cy="106.8" r="1.75"/><circle cx="558.1" cy="122.0" r="1.75"/><circle cx="452.2" cy="192.9" r="1.75"/><circle cx="592.7" cy="106.2" r="1.75"/><circle cx="564.7" cy="85.6" r="1.75"/><circle cx="550.3" cy="223.5" r="1.75"/><circle cx="558.3" cy="151.2" r="1.75"/><circle cx="525.9" cy="216.0" r="1.75"/><circle cx="502.6" cy="192.9" r="1.75"/><circle cx="450.9" cy="67.5" r="1.75"/><circle cx="592.4" cy="70.3" r="1.75"/><circle cx="502.0" cy="72.2" r="1.75"/><circle cx="539.3" cy="119.7" r="1.75"/><circle cx="537.0" cy="133.7" r="1.75"/><circle cx="476.2" cy="49.4" r="1.75"/><circle cx="527.8" cy="24.8" r="1.75"/><circle cx="545.6" cy="177.0" r="1.75"/><circle cx="604.9" cy="75.9" r="1.75"/><circle cx="610.4" cy="196.6" r="1.75"/><circle cx="599.0" cy="196.9" r="1.75"/><circle cx="431.1" cy="94.2" r="1.75"/><circle cx="572.9" cy="139.7" r="1.75"/><circle cx="497.2" cy="65.8" r="1.75"/><circle cx="554.5" cy="121.3" r="1.75"/><circle cx="612.9" cy="142.7" r="1.75"/><circle cx="473.6" cy="31.3" r="1.75"/><circle cx="497.9" cy="38.8" r="1.75"/><circle cx="649.2" cy="118.5" r="1.75"/><circle cx="618.3" cy="117.6" r="1.75"/><circle cx="569.1" cy="162.2" r="1.75"/><circle cx="426.2" cy="132.7" r="1.75"/><circle cx="534.3" cy="54.4" r="1.75"/><circle cx="576.1" cy="128.7" r="1.75"/><circle cx="582.7" cy="120.6" r="1.75"/><circle cx="566.9" cy="149.2" r="1.75"/><circle cx="499.1" cy="219.5" r="1.75"/><circle cx="558.5" cy="133.4" r="1.75"/><circle cx="630.5" cy="83.3" r="1.75"/><circle cx="501.0" cy="80.0" r="1.75"/><circle cx="565.7" cy="187.5" r="1.75"/><circle cx="616.1" cy="199.2" r="1.75"/><circle cx="467.3" cy="136.2" r="1.75"/><circle cx="490.5" cy="223.9" r="1.75"/><circle cx="511.3" cy="23.9" r="1.75"/><circle cx="471.8" cy="156.2" r="1.75"/><circle cx="534.1" cy="192.6" r="1.75"/><circle cx="616.9" cy="97.3" r="1.75"/><circle cx="570.7" cy="202.7" r="1.75"/><circle cx="495.9" cy="204.2" r="1.75"/><circle cx="588.9" cy="82.9" r="1.75"/><circle cx="519.2" cy="27.8" r="1.75"/><circle cx="551.9" cy="56.4" r="1.75"/><circle cx="512.7" cy="93.3" r="1.75"/><circle cx="469.8" cy="114.2" r="1.75"/><circle cx="526.0" cy="89.8" r="1.75"/><circle cx="597.7" cy="35.0" r="1.75"/><circle cx="494.9" cy="201.5" r="1.75"/><circle cx="498.9" cy="75.0" r="1.75"/><circle cx="591.7" cy="186.4" r="1.75"/><circle cx="507.7" cy="44.3" r="1.75"/><circle cx="461.9" cy="93.3" r="1.75"/><circle cx="431.1" cy="117.8" r="1.75"/><circle cx="479.4" cy="190.7" r="1.75"/><circle cx="497.3" cy="56.5" r="1.75"/><circle cx="503.9" cy="212.4" r="1.75"/><circle cx="571.0" cy="188.7" r="1.75"/><circle cx="604.5" cy="77.3" r="1.75"/><circle cx="573.8" cy="167.6" r="1.75"/><circle cx="574.9" cy="227.2" r="1.75"/><circle cx="586.4" cy="119.1" r="1.75"/><circle cx="644.8" cy="163.0" r="1.75"/><circle cx="588.7" cy="204.0" r="1.75"/><circle cx="606.1" cy="101.0" r="1.75"/><circle cx="586.3" cy="67.9" r="1.75"/><circle cx="471.0" cy="214.4" r="1.75"/><circle cx="478.6" cy="179.8" r="1.75"/><circle cx="496.3" cy="136.0" r="1.75"/><circle cx="579.3" cy="190.6" r="1.75"/><circle cx="482.7" cy="63.7" r="1.75"/><circle cx="475.0" cy="225.1" r="1.75"/><circle cx="489.4" cy="90.8" r="1.75"/><circle cx="437.8" cy="160.8" r="1.75"/><circle cx="505.9" cy="224.1" r="1.75"/><circle cx="591.8" cy="112.7" r="1.75"/><circle cx="492.4" cy="77.3" r="1.75"/><circle cx="553.1" cy="156.2" r="1.75"/><circle cx="478.4" cy="64.2" r="1.75"/><circle cx="439.0" cy="90.6" r="1.75"/><circle cx="496.3" cy="128.2" r="1.75"/><circle cx="592.3" cy="170.2" r="1.75"/><circle cx="586.0" cy="138.5" r="1.75"/><circle cx="499.2" cy="115.3" r="1.75"/><circle cx="456.0" cy="169.4" r="1.75"/><circle cx="537.5" cy="207.0" r="1.75"/><circle cx="441.9" cy="78.7" r="1.75"/><circle cx="572.9" cy="149.1" r="1.75"/><circle cx="591.1" cy="37.2" r="1.75"/><circle cx="504.4" cy="192.0" r="1.75"/><circle cx="444.3" cy="136.4" r="1.75"/><circle cx="567.6" cy="109.9" r="1.75"/><circle cx="449.7" cy="135.7" r="1.75"/><circle cx="606.0" cy="203.2" r="1.75"/><circle cx="642.4" cy="137.6" r="1.75"/><circle cx="607.4" cy="94.5" r="1.75"/><circle cx="475.1" cy="161.3" r="1.75"/><circle cx="493.3" cy="36.5" r="1.75"/><circle cx="562.2" cy="131.7" r="1.75"/><circle cx="600.5" cy="142.5" r="1.75"/><circle cx="565.4" cy="141.8" r="1.75"/><circle cx="503.6" cy="167.2" r="1.75"/><circle cx="566.5" cy="34.8" r="1.75"/><circle cx="594.7" cy="91.4" r="1.75"/><circle cx="531.4" cy="157.9" r="1.75"/><circle cx="565.0" cy="154.7" r="1.75"/><circle cx="525.3" cy="128.7" r="1.75"/><circle cx="560.7" cy="96.0" r="1.75"/><circle cx="597.6" cy="165.1" r="1.75"/><circle cx="443.5" cy="183.6" r="1.75"/><circle cx="435.2" cy="57.6" r="1.75"/><circle cx="538.8" cy="62.9" r="1.75"/><circle cx="483.8" cy="90.5" r="1.75"/><circle cx="512.0" cy="96.1" r="1.75"/><circle cx="527.8" cy="177.3" r="1.75"/><circle cx="568.1" cy="202.3" r="1.75"/><circle cx="535.4" cy="61.7" r="1.75"/><circle cx="589.0" cy="131.6" r="1.75"/><circle cx="504.6" cy="156.8" r="1.75"/><circle cx="609.5" cy="53.8" r="1.75"/><circle cx="565.3" cy="84.7" r="1.75"/><circle cx="532.3" cy="86.4" r="1.75"/><circle cx="572.4" cy="172.2" r="1.75"/><circle cx="510.0" cy="13.5" r="1.75"/><circle cx="458.6" cy="154.9" r="1.75"/><circle cx="579.9" cy="209.6" r="1.75"/><circle cx="465.5" cy="200.4" r="1.75"/><circle cx="606.2" cy="108.4" r="1.75"/><circle cx="541.1" cy="98.0" r="1.75"/><circle cx="476.7" cy="130.4" r="1.75"/><circle cx="433.3" cy="118.3" r="1.75"/><circle cx="541.8" cy="124.1" r="1.75"/><circle cx="469.2" cy="36.2" r="1.75"/><circle cx="505.0" cy="95.4" r="1.75"/><circle cx="428.4" cy="85.1" r="1.75"/><circle cx="579.9" cy="77.0" r="1.75"/><circle cx="592.6" cy="123.2" r="1.75"/><circle cx="510.6" cy="49.4" r="1.75"/><circle cx="543.2" cy="212.8" r="1.75"/><circle cx="606.0" cy="139.1" r="1.75"/><circle cx="526.2" cy="24.3" r="1.75"/><circle cx="634.3" cy="105.1" r="1.75"/><circle cx="473.9" cy="204.2" r="1.75"/><circle cx="546.5" cy="108.2" r="1.75"/><circle cx="558.1" cy="46.4" r="1.75"/><circle cx="490.6" cy="65.1" r="1.75"/><circle cx="557.1" cy="212.3" r="1.75"/><circle cx="605.2" cy="62.4" r="1.75"/><circle cx="616.7" cy="148.6" r="1.75"/><circle cx="584.6" cy="89.5" r="1.75"/><circle cx="611.4" cy="132.3" r="1.75"/><circle cx="523.1" cy="158.9" r="1.75"/><circle cx="528.6" cy="158.4" r="1.75"/><circle cx="554.6" cy="193.6" r="1.75"/><circle cx="561.6" cy="88.0" r="1.75"/><circle cx="475.4" cy="135.9" r="1.75"/><circle cx="538.2" cy="32.8" r="1.75"/><circle cx="531.9" cy="91.7" r="1.75"/><circle cx="577.6" cy="89.2" r="1.75"/><circle cx="479.8" cy="130.5" r="1.75"/><circle cx="494.3" cy="179.4" r="1.75"/><circle cx="474.1" cy="125.6" r="1.75"/><circle cx="550.7" cy="67.7" r="1.75"/><circle cx="434.9" cy="186.1" r="1.75"/><circle cx="536.9" cy="65.4" r="1.75"/><circle cx="445.7" cy="135.5" r="1.75"/><circle cx="527.1" cy="239.0" r="1.75"/><circle cx="541.9" cy="133.3" r="1.75"/><circle cx="536.8" cy="41.7" r="1.75"/><circle cx="598.5" cy="189.8" r="1.75"/><circle cx="513.5" cy="24.5" r="1.75"/><circle cx="457.0" cy="203.2" r="1.75"/><circle cx="462.0" cy="142.8" r="1.75"/><circle cx="570.3" cy="219.4" r="1.75"/><circle cx="472.9" cy="214.7" r="1.75"/><circle cx="546.5" cy="235.8" r="1.75"/><circle cx="525.8" cy="228.2" r="1.75"/><circle cx="515.7" cy="80.9" r="1.75"/><circle cx="431.8" cy="165.7" r="1.75"/><circle cx="585.5" cy="124.3" r="1.75"/><circle cx="578.1" cy="94.5" r="1.75"/><circle cx="514.3" cy="228.2" r="1.75"/><circle cx="472.2" cy="125.0" r="1.75"/><circle cx="558.8" cy="161.0" r="1.75"/><circle cx="433.6" cy="92.8" r="1.75"/><circle cx="548.0" cy="163.4" r="1.75"/><circle cx="500.6" cy="66.3" r="1.75"/><circle cx="530.2" cy="133.1" r="1.75"/><circle cx="626.4" cy="94.1" r="1.75"/><circle cx="591.5" cy="179.7" r="1.75"/><circle cx="580.8" cy="108.3" r="1.75"/><circle cx="566.6" cy="176.8" r="1.75"/><circle cx="455.1" cy="76.9" r="1.75"/><circle cx="625.6" cy="137.1" r="1.75"/><circle cx="594.1" cy="173.9" r="1.75"/><circle cx="601.6" cy="56.5" r="1.75"/><circle cx="487.5" cy="42.1" r="1.75"/><circle cx="496.6" cy="202.6" r="1.75"/><circle cx="626.9" cy="94.6" r="1.75"/><circle cx="461.0" cy="156.8" r="1.75"/><circle cx="628.2" cy="153.1" r="1.75"/><circle cx="558.8" cy="43.3" r="1.75"/><circle cx="514.5" cy="25.4" r="1.75"/><circle cx="504.5" cy="228.6" r="1.75"/><circle cx="635.1" cy="79.1" r="1.75"/><circle cx="598.3" cy="189.7" r="1.75"/><circle cx="615.6" cy="101.7" r="1.75"/><circle cx="446.8" cy="132.1" r="1.75"/><circle cx="471.7" cy="35.7" r="1.75"/><circle cx="523.3" cy="28.8" r="1.75"/><circle cx="567.7" cy="232.2" r="1.75"/><circle cx="578.8" cy="117.3" r="1.75"/><circle cx="546.7" cy="107.2" r="1.75"/><circle cx="619.6" cy="138.9" r="1.75"/><circle cx="463.3" cy="127.6" r="1.75"/><circle cx="459.4" cy="119.3" r="1.75"/><circle cx="596.5" cy="117.3" r="1.75"/><circle cx="556.0" cy="92.9" r="1.75"/><circle cx="593.8" cy="194.5" r="1.75"/><circle cx="504.3" cy="171.8" r="1.75"/><circle cx="545.0" cy="54.9" r="1.75"/><circle cx="519.3" cy="172.5" r="1.75"/><circle cx="611.5" cy="162.4" r="1.75"/><circle cx="493.7" cy="191.0" r="1.75"/><circle cx="446.9" cy="177.3" r="1.75"/><circle cx="507.9" cy="29.2" r="1.75"/></g>
<rect x="618" y="232" width="46" height="6" fill="#000"/>
<text x="641" y="252.8" text-anchor="middle" font-size="12.8" font-family="Liberation Sans, sans-serif" font-weight="bold" stroke-width="0.3" fill="#000">5 nm</text>
<text x="651" y="37.6" font-size="25" font-family="Liberation Sans, sans-serif" font-weight="bold" stroke-width="0.3" fill="#000">b</text>
<text x="299.5" y="37.6" font-size="25" font-family="Liberation Sans, sans-serif" font-weight="bold" stroke-width="0.3" fill="#000">a</text>
</svg>
</body></html>
